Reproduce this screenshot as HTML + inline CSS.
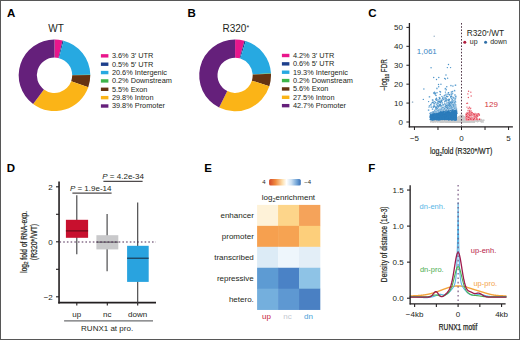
<!DOCTYPE html>
<html><head><meta charset="utf-8"><style>
html,body{margin:0;padding:0;background:#fff;width:520px;height:340px;overflow:hidden}
svg{display:block;font-family:"Liberation Sans", sans-serif}
</style></head><body>
<svg width="520" height="340" viewBox="0 0 520 340">
<rect width="520" height="340" fill="#fff"/>
<text x="6.9" y="16.8" font-size="11.5" font-weight="bold" fill="#000">A</text>
<text x="187.4" y="16.6" font-size="11.5" font-weight="bold" fill="#000">B</text>
<text x="368.3" y="17.1" font-size="11.5" font-weight="bold" fill="#000">C</text>
<text x="6.7" y="172" font-size="11.5" font-weight="bold" fill="#000">D</text>
<text x="204.2" y="171.7" font-size="11.5" font-weight="bold" fill="#000">E</text>
<text x="368.2" y="171.9" font-size="11.5" font-weight="bold" fill="#000">F</text>
<path d="M54.5,39.5A35.8,35.8 0 0 1 62.53,40.41L58.47,58.05A17.7,17.7 0 0 0 54.5,57.6Z" fill="#e9168c"/>
<path d="M62.53,40.41A35.8,35.8 0 0 1 63.62,40.68L59.01,58.18A17.7,17.7 0 0 0 58.47,58.05Z" fill="#1d3f8c"/>
<path d="M63.62,40.68A35.8,35.8 0 0 1 90.29,74.63L72.2,74.97A17.7,17.7 0 0 0 59.01,58.18Z" fill="#27a9e1"/>
<path d="M90.29,74.63A35.8,35.8 0 0 1 90.3,75.08L72.2,75.19A17.7,17.7 0 0 0 72.2,74.97Z" fill="#3db54a"/>
<path d="M90.3,75.08A35.8,35.8 0 0 1 88.26,87.21L71.19,81.19A17.7,17.7 0 0 0 72.2,75.19Z" fill="#653312"/>
<path d="M88.26,87.21A35.8,35.8 0 0 1 33.1,104L43.92,89.49A17.7,17.7 0 0 0 71.19,81.19Z" fill="#fbb417"/>
<path d="M33.1,104A35.8,35.8 0 0 1 54.5,39.5L54.5,57.6A17.7,17.7 0 0 0 43.92,89.49Z" fill="#65207b"/>
<text x="56.1" y="31.6" font-size="10" text-anchor="middle" fill="#231f20">WT</text>
<rect x="100.9" y="54.15" width="7.5" height="3.4" fill="#e9168c"/>
<text x="111.9" y="58.2" font-size="7.35" fill="#231f20">3.6% 3′ UTR</text>
<rect x="100.9" y="62.51" width="7.5" height="3.4" fill="#1d3f8c"/>
<text x="111.9" y="66.56" font-size="7.35" fill="#231f20">0.5% 5′ UTR</text>
<rect x="100.9" y="70.87" width="7.5" height="3.4" fill="#27a9e1"/>
<text x="111.9" y="74.92" font-size="7.35" fill="#231f20">20.6% Intergenic</text>
<rect x="100.9" y="79.23" width="7.5" height="3.4" fill="#3db54a"/>
<text x="111.9" y="83.28" font-size="7.35" fill="#231f20">0.2% Downstream</text>
<rect x="100.9" y="87.59" width="7.5" height="3.4" fill="#653312"/>
<text x="111.9" y="91.64" font-size="7.35" fill="#231f20">5.5% Exon</text>
<rect x="100.9" y="95.95" width="7.5" height="3.4" fill="#fbb417"/>
<text x="111.9" y="100" font-size="7.35" fill="#231f20">29.8% Intron</text>
<rect x="100.9" y="104.31" width="7.5" height="3.4" fill="#65207b"/>
<text x="111.9" y="108.36" font-size="7.35" fill="#231f20">39.8% Promoter</text>
<path d="M235.1,39.45A35.9,35.9 0 0 1 244.46,40.69L239.69,58.36A17.6,17.6 0 0 0 235.1,57.75Z" fill="#e9168c"/>
<path d="M244.46,40.69A35.9,35.9 0 0 1 245.75,41.07L240.32,58.54A17.6,17.6 0 0 0 239.69,58.36Z" fill="#1d3f8c"/>
<path d="M245.75,41.07A35.9,35.9 0 0 1 270.94,73.27L252.67,74.33A17.6,17.6 0 0 0 240.32,58.54Z" fill="#27a9e1"/>
<path d="M270.94,73.27A35.9,35.9 0 0 1 270.96,73.72L252.68,74.55A17.6,17.6 0 0 0 252.67,74.33Z" fill="#3db54a"/>
<path d="M270.96,73.72A35.9,35.9 0 0 1 269.33,86.16L251.88,80.65A17.6,17.6 0 0 0 252.68,74.55Z" fill="#653312"/>
<path d="M269.33,86.16A35.9,35.9 0 0 1 219.12,107.5L227.27,91.11A17.6,17.6 0 0 0 251.88,80.65Z" fill="#fbb417"/>
<path d="M219.12,107.5A35.9,35.9 0 0 1 235.1,39.45L235.1,57.75A17.6,17.6 0 0 0 227.27,91.11Z" fill="#65207b"/>
<text x="235.8" y="31.5" font-size="10" text-anchor="middle" fill="#231f20">R320<tspan font-size="7" dy="-1.2">*</tspan></text>
<rect x="281.9" y="53.8" width="7.5" height="3.4" fill="#e9168c"/>
<text x="292.9" y="57.85" font-size="7.35" fill="#231f20">4.2% 3′ UTR</text>
<rect x="281.9" y="62.16" width="7.5" height="3.4" fill="#1d3f8c"/>
<text x="292.9" y="66.21" font-size="7.35" fill="#231f20">0.6% 5′ UTR</text>
<rect x="281.9" y="70.52" width="7.5" height="3.4" fill="#27a9e1"/>
<text x="292.9" y="74.57" font-size="7.35" fill="#231f20">19.3% Intergenic</text>
<rect x="281.9" y="78.88" width="7.5" height="3.4" fill="#3db54a"/>
<text x="292.9" y="82.93" font-size="7.35" fill="#231f20">0.2% Downstream</text>
<rect x="281.9" y="87.24" width="7.5" height="3.4" fill="#653312"/>
<text x="292.9" y="91.29" font-size="7.35" fill="#231f20">5.6% Exon</text>
<rect x="281.9" y="95.6" width="7.5" height="3.4" fill="#fbb417"/>
<text x="292.9" y="99.65" font-size="7.35" fill="#231f20">27.5% Intron</text>
<rect x="281.9" y="103.96" width="7.5" height="3.4" fill="#65207b"/>
<text x="292.9" y="108.01" font-size="7.35" fill="#231f20">42.7% Promoter</text>
<g>
<circle cx="442.03" cy="119.73" r="0.9" fill="#cacaca"/>
<circle cx="460.12" cy="120.85" r="0.9" fill="#cacaca"/>
<circle cx="440.85" cy="121.55" r="0.9" fill="#cacaca"/>
<circle cx="455.11" cy="120.74" r="0.9" fill="#cacaca"/>
<circle cx="442.12" cy="121.77" r="0.9" fill="#cacaca"/>
<circle cx="441.25" cy="121.25" r="0.9" fill="#cacaca"/>
<circle cx="473.17" cy="120.29" r="0.9" fill="#cacaca"/>
<circle cx="466.95" cy="121.9" r="0.9" fill="#cacaca"/>
<circle cx="452.59" cy="120.39" r="0.9" fill="#cacaca"/>
<circle cx="450.91" cy="121.96" r="0.9" fill="#cacaca"/>
<circle cx="451.46" cy="120.7" r="0.9" fill="#cacaca"/>
<circle cx="462.68" cy="121.4" r="0.9" fill="#cacaca"/>
<circle cx="458.53" cy="121.93" r="0.9" fill="#cacaca"/>
<circle cx="444" cy="119.93" r="0.9" fill="#cacaca"/>
<circle cx="458.59" cy="120.72" r="0.9" fill="#cacaca"/>
<circle cx="447.4" cy="120.37" r="0.9" fill="#cacaca"/>
<circle cx="445.6" cy="120.88" r="0.9" fill="#cacaca"/>
<circle cx="448.94" cy="119.55" r="0.9" fill="#cacaca"/>
<circle cx="465.37" cy="121.22" r="0.9" fill="#cacaca"/>
<circle cx="440.91" cy="121.44" r="0.9" fill="#cacaca"/>
<circle cx="454.81" cy="120.12" r="0.9" fill="#cacaca"/>
<circle cx="460.03" cy="121.02" r="0.9" fill="#cacaca"/>
<circle cx="462.22" cy="119.64" r="0.9" fill="#cacaca"/>
<circle cx="446.68" cy="119.92" r="0.9" fill="#cacaca"/>
<circle cx="463.6" cy="119.76" r="0.9" fill="#cacaca"/>
<circle cx="455.88" cy="120.84" r="0.9" fill="#cacaca"/>
<circle cx="467.13" cy="121.82" r="0.9" fill="#cacaca"/>
<circle cx="454.45" cy="120.45" r="0.9" fill="#cacaca"/>
<circle cx="457.45" cy="121.79" r="0.9" fill="#cacaca"/>
<circle cx="447.04" cy="121.18" r="0.9" fill="#cacaca"/>
<circle cx="474.39" cy="121.71" r="0.9" fill="#cacaca"/>
<circle cx="451.6" cy="121.39" r="0.9" fill="#cacaca"/>
<circle cx="459.05" cy="120.04" r="0.9" fill="#cacaca"/>
<circle cx="458.21" cy="121.56" r="0.9" fill="#cacaca"/>
<circle cx="444.4" cy="121.53" r="0.9" fill="#cacaca"/>
<circle cx="451.38" cy="120.2" r="0.9" fill="#cacaca"/>
<circle cx="466.89" cy="121.71" r="0.9" fill="#cacaca"/>
<circle cx="467.75" cy="120.97" r="0.9" fill="#cacaca"/>
<circle cx="457.92" cy="119.61" r="0.9" fill="#cacaca"/>
<circle cx="464.57" cy="120.02" r="0.9" fill="#cacaca"/>
<circle cx="448.02" cy="121.48" r="0.9" fill="#cacaca"/>
<circle cx="477.99" cy="121.03" r="0.9" fill="#cacaca"/>
<circle cx="465.72" cy="121.75" r="0.9" fill="#cacaca"/>
<circle cx="443.03" cy="119.57" r="0.9" fill="#cacaca"/>
<circle cx="457.85" cy="120.1" r="0.9" fill="#cacaca"/>
<circle cx="464.35" cy="121.19" r="0.9" fill="#cacaca"/>
<circle cx="454.59" cy="121.78" r="0.9" fill="#cacaca"/>
<circle cx="460.08" cy="120.57" r="0.9" fill="#cacaca"/>
<circle cx="456.53" cy="121.09" r="0.9" fill="#cacaca"/>
<circle cx="471.15" cy="120.89" r="0.9" fill="#cacaca"/>
<circle cx="468.41" cy="120.59" r="0.9" fill="#cacaca"/>
<circle cx="452.56" cy="119.87" r="0.9" fill="#cacaca"/>
<circle cx="458.53" cy="119.77" r="0.9" fill="#cacaca"/>
<circle cx="461.81" cy="119.99" r="0.9" fill="#cacaca"/>
<circle cx="455.88" cy="120.18" r="0.9" fill="#cacaca"/>
<circle cx="463.18" cy="119.69" r="0.9" fill="#cacaca"/>
<circle cx="464.96" cy="119.83" r="0.9" fill="#cacaca"/>
<circle cx="481.96" cy="120.52" r="0.9" fill="#cacaca"/>
<circle cx="451.2" cy="121.9" r="0.9" fill="#cacaca"/>
<circle cx="458.36" cy="119.63" r="0.9" fill="#cacaca"/>
<circle cx="457.14" cy="121.37" r="0.9" fill="#cacaca"/>
<circle cx="473.44" cy="119.97" r="0.9" fill="#cacaca"/>
<circle cx="448.12" cy="121.57" r="0.9" fill="#cacaca"/>
<circle cx="450.49" cy="120.23" r="0.9" fill="#cacaca"/>
<circle cx="463.24" cy="120.62" r="0.9" fill="#cacaca"/>
<circle cx="459.26" cy="119.9" r="0.9" fill="#cacaca"/>
<circle cx="448.96" cy="119.74" r="0.9" fill="#cacaca"/>
<circle cx="449.83" cy="121.5" r="0.9" fill="#cacaca"/>
<circle cx="464.75" cy="120.9" r="0.9" fill="#cacaca"/>
<circle cx="456.78" cy="121.85" r="0.9" fill="#cacaca"/>
<circle cx="460.7" cy="120.59" r="0.9" fill="#cacaca"/>
<circle cx="465.54" cy="121.68" r="0.9" fill="#cacaca"/>
<circle cx="440.46" cy="119.59" r="0.9" fill="#cacaca"/>
<circle cx="473.96" cy="120.38" r="0.9" fill="#cacaca"/>
<circle cx="450.45" cy="121.65" r="0.9" fill="#cacaca"/>
<circle cx="441.9" cy="121.91" r="0.9" fill="#cacaca"/>
<circle cx="480.49" cy="120.28" r="0.9" fill="#cacaca"/>
<circle cx="458.64" cy="119.63" r="0.9" fill="#cacaca"/>
<circle cx="471.77" cy="120.81" r="0.9" fill="#cacaca"/>
<circle cx="457.99" cy="120.2" r="0.9" fill="#cacaca"/>
<circle cx="437.69" cy="121.81" r="0.9" fill="#cacaca"/>
<circle cx="438.17" cy="119.79" r="0.9" fill="#cacaca"/>
<circle cx="450.58" cy="120.19" r="0.9" fill="#cacaca"/>
<circle cx="450.1" cy="119.75" r="0.9" fill="#cacaca"/>
<circle cx="436.65" cy="121.13" r="0.9" fill="#cacaca"/>
<circle cx="446.23" cy="119.86" r="0.9" fill="#cacaca"/>
<circle cx="433.57" cy="120.97" r="0.9" fill="#cacaca"/>
<circle cx="461.53" cy="120.59" r="0.9" fill="#cacaca"/>
<circle cx="434.05" cy="120.46" r="0.9" fill="#cacaca"/>
<circle cx="444.82" cy="120.5" r="0.9" fill="#cacaca"/>
<circle cx="465.91" cy="121.8" r="0.9" fill="#cacaca"/>
<circle cx="432.97" cy="119.84" r="0.9" fill="#cacaca"/>
<circle cx="454.33" cy="120.19" r="0.9" fill="#cacaca"/>
<circle cx="444.76" cy="120.57" r="0.9" fill="#cacaca"/>
<circle cx="435.78" cy="121.79" r="0.9" fill="#cacaca"/>
<circle cx="463.72" cy="120.15" r="0.9" fill="#cacaca"/>
<circle cx="470.9" cy="120.82" r="0.9" fill="#cacaca"/>
<circle cx="458.7" cy="121.43" r="0.9" fill="#cacaca"/>
<circle cx="451.63" cy="120.49" r="0.9" fill="#cacaca"/>
<circle cx="443.3" cy="119.74" r="0.9" fill="#cacaca"/>
<circle cx="455.79" cy="121.26" r="0.9" fill="#cacaca"/>
<circle cx="457.56" cy="120.33" r="0.9" fill="#cacaca"/>
<circle cx="457.88" cy="119.77" r="0.9" fill="#cacaca"/>
<circle cx="462.44" cy="120.38" r="0.9" fill="#cacaca"/>
<circle cx="433.61" cy="121.2" r="0.9" fill="#cacaca"/>
<circle cx="464.35" cy="120.36" r="0.9" fill="#cacaca"/>
<circle cx="459.67" cy="120.02" r="0.9" fill="#cacaca"/>
<circle cx="467.22" cy="119.75" r="0.9" fill="#cacaca"/>
<circle cx="463.98" cy="120.57" r="0.9" fill="#cacaca"/>
<circle cx="448.25" cy="121.22" r="0.9" fill="#cacaca"/>
<circle cx="464.53" cy="119.94" r="0.9" fill="#cacaca"/>
<circle cx="465.84" cy="119.91" r="0.9" fill="#cacaca"/>
<circle cx="449.19" cy="121.32" r="0.9" fill="#cacaca"/>
<circle cx="461.87" cy="121.32" r="0.9" fill="#cacaca"/>
<circle cx="466.65" cy="121.47" r="0.9" fill="#cacaca"/>
<circle cx="442.28" cy="120.79" r="0.9" fill="#cacaca"/>
<circle cx="464" cy="121.22" r="0.9" fill="#cacaca"/>
<circle cx="472.86" cy="120.89" r="0.9" fill="#cacaca"/>
<circle cx="458.4" cy="119.85" r="0.9" fill="#cacaca"/>
<circle cx="457.15" cy="121.9" r="0.9" fill="#cacaca"/>
<circle cx="452.08" cy="121.24" r="0.9" fill="#cacaca"/>
<circle cx="441.66" cy="120.05" r="0.9" fill="#cacaca"/>
<circle cx="461.91" cy="120.88" r="0.9" fill="#cacaca"/>
<circle cx="456.59" cy="121.94" r="0.9" fill="#cacaca"/>
<circle cx="459.84" cy="121.65" r="0.9" fill="#cacaca"/>
<circle cx="448.56" cy="121.88" r="0.9" fill="#cacaca"/>
<circle cx="447.4" cy="120.45" r="0.9" fill="#cacaca"/>
<circle cx="446.94" cy="120.39" r="0.9" fill="#cacaca"/>
<circle cx="465.9" cy="120.32" r="0.9" fill="#cacaca"/>
<circle cx="459.87" cy="121.56" r="0.9" fill="#cacaca"/>
<circle cx="468.03" cy="121.97" r="0.9" fill="#cacaca"/>
<circle cx="438.25" cy="121.56" r="0.9" fill="#cacaca"/>
<circle cx="458.96" cy="121.33" r="0.9" fill="#cacaca"/>
<circle cx="445.97" cy="120.72" r="0.9" fill="#cacaca"/>
<circle cx="470.25" cy="120.49" r="0.9" fill="#cacaca"/>
<circle cx="456.29" cy="120.05" r="0.9" fill="#cacaca"/>
<circle cx="444.57" cy="119.77" r="0.9" fill="#cacaca"/>
<circle cx="478.24" cy="120.22" r="0.9" fill="#cacaca"/>
<circle cx="469.52" cy="121.68" r="0.9" fill="#cacaca"/>
<circle cx="440.7" cy="119.76" r="0.9" fill="#cacaca"/>
<circle cx="460.41" cy="121.07" r="0.9" fill="#cacaca"/>
<circle cx="434.77" cy="120.04" r="0.9" fill="#cacaca"/>
<circle cx="446.12" cy="119.68" r="0.9" fill="#cacaca"/>
<circle cx="439.89" cy="121.5" r="0.9" fill="#cacaca"/>
<circle cx="459.56" cy="120.22" r="0.9" fill="#cacaca"/>
<circle cx="462.59" cy="120.23" r="0.9" fill="#cacaca"/>
<circle cx="441.15" cy="121.48" r="0.9" fill="#cacaca"/>
<circle cx="481.49" cy="119.6" r="0.9" fill="#cacaca"/>
<circle cx="437.23" cy="120.68" r="0.9" fill="#cacaca"/>
<circle cx="458.37" cy="119.76" r="0.9" fill="#cacaca"/>
<circle cx="446.25" cy="119.9" r="0.9" fill="#cacaca"/>
<circle cx="453.13" cy="120.92" r="0.9" fill="#cacaca"/>
<circle cx="459.68" cy="120.65" r="0.9" fill="#cacaca"/>
<circle cx="457.35" cy="121.93" r="0.9" fill="#cacaca"/>
<circle cx="442.88" cy="120.01" r="0.9" fill="#cacaca"/>
<circle cx="474.49" cy="121.57" r="0.9" fill="#cacaca"/>
<circle cx="463.79" cy="121.18" r="0.9" fill="#cacaca"/>
<circle cx="457.32" cy="121.63" r="0.9" fill="#cacaca"/>
<circle cx="449.82" cy="120.73" r="0.9" fill="#cacaca"/>
<circle cx="452.28" cy="120.3" r="0.9" fill="#cacaca"/>
<circle cx="434.53" cy="119.67" r="0.9" fill="#cacaca"/>
<circle cx="457.14" cy="121.79" r="0.9" fill="#cacaca"/>
<circle cx="458.32" cy="121.29" r="0.9" fill="#cacaca"/>
<circle cx="469.44" cy="120.21" r="0.9" fill="#cacaca"/>
<circle cx="447.02" cy="119.93" r="0.9" fill="#cacaca"/>
<circle cx="445.33" cy="120.62" r="0.9" fill="#cacaca"/>
<circle cx="451.67" cy="119.92" r="0.9" fill="#cacaca"/>
<circle cx="466.1" cy="119.79" r="0.9" fill="#cacaca"/>
<circle cx="461.57" cy="119.62" r="0.9" fill="#cacaca"/>
<circle cx="477.13" cy="120.71" r="0.9" fill="#cacaca"/>
<circle cx="449.07" cy="120.68" r="0.9" fill="#cacaca"/>
<circle cx="452.51" cy="120.76" r="0.9" fill="#cacaca"/>
<circle cx="453.74" cy="119.62" r="0.9" fill="#cacaca"/>
<circle cx="454.21" cy="120.73" r="0.9" fill="#cacaca"/>
<circle cx="439.39" cy="120.62" r="0.9" fill="#cacaca"/>
<circle cx="467.72" cy="120.79" r="0.9" fill="#cacaca"/>
<circle cx="454.34" cy="120.67" r="0.9" fill="#cacaca"/>
<circle cx="451.97" cy="120.98" r="0.9" fill="#cacaca"/>
<circle cx="480.52" cy="121.34" r="0.9" fill="#cacaca"/>
<circle cx="449" cy="120.84" r="0.9" fill="#cacaca"/>
<circle cx="464.26" cy="119.99" r="0.9" fill="#cacaca"/>
<circle cx="464.47" cy="119.78" r="0.9" fill="#cacaca"/>
<circle cx="446.1" cy="121.53" r="0.9" fill="#cacaca"/>
<circle cx="457.3" cy="120.48" r="0.9" fill="#cacaca"/>
<circle cx="461.16" cy="120.08" r="0.9" fill="#cacaca"/>
<circle cx="453.16" cy="121.94" r="0.9" fill="#cacaca"/>
<circle cx="458.64" cy="120.31" r="0.9" fill="#cacaca"/>
<circle cx="463.47" cy="121.21" r="0.9" fill="#cacaca"/>
<circle cx="446.2" cy="121.74" r="0.9" fill="#cacaca"/>
<circle cx="468.24" cy="120.2" r="0.9" fill="#cacaca"/>
<circle cx="465.53" cy="121.38" r="0.9" fill="#cacaca"/>
<circle cx="465.26" cy="121.51" r="0.9" fill="#cacaca"/>
<circle cx="443.97" cy="121.08" r="0.9" fill="#cacaca"/>
<circle cx="453.56" cy="120.98" r="0.9" fill="#cacaca"/>
<circle cx="449.31" cy="121.5" r="0.9" fill="#cacaca"/>
<circle cx="454.63" cy="120.45" r="0.9" fill="#cacaca"/>
<circle cx="446.91" cy="119.91" r="0.9" fill="#cacaca"/>
<circle cx="445.25" cy="120.5" r="0.9" fill="#cacaca"/>
<circle cx="460.96" cy="120.18" r="0.9" fill="#cacaca"/>
<circle cx="449.42" cy="120.01" r="0.9" fill="#cacaca"/>
<circle cx="463.91" cy="121.23" r="0.9" fill="#cacaca"/>
<circle cx="450.21" cy="119.73" r="0.9" fill="#cacaca"/>
<circle cx="463.89" cy="119.82" r="0.9" fill="#cacaca"/>
<circle cx="461.42" cy="120.21" r="0.9" fill="#cacaca"/>
<circle cx="462.08" cy="121.36" r="0.9" fill="#cacaca"/>
<circle cx="473.35" cy="120.96" r="0.9" fill="#cacaca"/>
<circle cx="468.07" cy="120.06" r="0.9" fill="#cacaca"/>
<circle cx="463.91" cy="120.31" r="0.9" fill="#cacaca"/>
<circle cx="464.01" cy="121.96" r="0.9" fill="#cacaca"/>
<circle cx="461.04" cy="119.76" r="0.9" fill="#cacaca"/>
<circle cx="472.15" cy="119.62" r="0.9" fill="#cacaca"/>
<circle cx="465.89" cy="120.14" r="0.9" fill="#cacaca"/>
<circle cx="464.74" cy="120.76" r="0.9" fill="#cacaca"/>
<circle cx="452.98" cy="121.83" r="0.9" fill="#cacaca"/>
<circle cx="449.13" cy="121.74" r="0.9" fill="#cacaca"/>
<circle cx="469.76" cy="120.73" r="0.9" fill="#cacaca"/>
<circle cx="459.19" cy="120.6" r="0.9" fill="#cacaca"/>
<circle cx="460.22" cy="121.5" r="0.9" fill="#cacaca"/>
<circle cx="461.6" cy="119.93" r="0.9" fill="#cacaca"/>
<circle cx="481.63" cy="121.77" r="0.9" fill="#cacaca"/>
<circle cx="454.28" cy="121.85" r="0.9" fill="#cacaca"/>
<circle cx="467.85" cy="120.12" r="0.9" fill="#cacaca"/>
<circle cx="452.08" cy="121.2" r="0.9" fill="#cacaca"/>
<circle cx="442.56" cy="120.94" r="0.9" fill="#cacaca"/>
<circle cx="458.65" cy="120.52" r="0.9" fill="#cacaca"/>
<circle cx="473.34" cy="119.92" r="0.9" fill="#cacaca"/>
<circle cx="457.31" cy="121.55" r="0.9" fill="#cacaca"/>
<circle cx="438.11" cy="121" r="0.9" fill="#cacaca"/>
<circle cx="461.14" cy="121.52" r="0.9" fill="#cacaca"/>
<circle cx="462.74" cy="121.96" r="0.9" fill="#cacaca"/>
<circle cx="467.51" cy="119.8" r="0.9" fill="#cacaca"/>
<circle cx="461.48" cy="119.88" r="0.9" fill="#cacaca"/>
<circle cx="439.14" cy="120.45" r="0.9" fill="#cacaca"/>
<circle cx="443.24" cy="120.76" r="0.9" fill="#cacaca"/>
<circle cx="464.48" cy="119.58" r="0.9" fill="#cacaca"/>
<circle cx="458.8" cy="119.76" r="0.9" fill="#cacaca"/>
<circle cx="447.64" cy="120.17" r="0.9" fill="#cacaca"/>
<circle cx="459.48" cy="121" r="0.9" fill="#cacaca"/>
<circle cx="435.44" cy="119.79" r="0.9" fill="#cacaca"/>
<circle cx="468.52" cy="120.11" r="0.9" fill="#cacaca"/>
<circle cx="443.93" cy="120.12" r="0.9" fill="#cacaca"/>
<circle cx="440.85" cy="121.83" r="0.9" fill="#cacaca"/>
<circle cx="465.95" cy="121.16" r="0.9" fill="#cacaca"/>
<circle cx="454.24" cy="121.13" r="0.9" fill="#cacaca"/>
<circle cx="456.17" cy="120.43" r="0.9" fill="#cacaca"/>
<circle cx="450.02" cy="119.68" r="0.9" fill="#cacaca"/>
<circle cx="450.09" cy="120.36" r="0.9" fill="#cacaca"/>
<circle cx="447.16" cy="120.6" r="0.9" fill="#cacaca"/>
<circle cx="469.97" cy="120.69" r="0.9" fill="#cacaca"/>
<circle cx="444.86" cy="120.13" r="0.9" fill="#cacaca"/>
<circle cx="442.17" cy="119.59" r="0.9" fill="#cacaca"/>
<circle cx="471.3" cy="120.18" r="0.9" fill="#cacaca"/>
<circle cx="458.08" cy="121.37" r="0.9" fill="#cacaca"/>
<circle cx="452.89" cy="121.52" r="0.9" fill="#cacaca"/>
<circle cx="457.96" cy="121.08" r="0.9" fill="#cacaca"/>
<circle cx="462.85" cy="119.77" r="0.9" fill="#cacaca"/>
<circle cx="460.83" cy="120.65" r="0.9" fill="#cacaca"/>
<circle cx="454.4" cy="120.6" r="0.9" fill="#cacaca"/>
<circle cx="471.94" cy="120.01" r="0.9" fill="#cacaca"/>
<circle cx="455.36" cy="121.81" r="0.9" fill="#cacaca"/>
<circle cx="440.27" cy="121.89" r="0.9" fill="#cacaca"/>
<circle cx="444.89" cy="119.71" r="0.9" fill="#cacaca"/>
<circle cx="462.69" cy="121.58" r="0.9" fill="#cacaca"/>
<circle cx="466.62" cy="120.78" r="0.9" fill="#cacaca"/>
<circle cx="452.85" cy="119.68" r="0.9" fill="#cacaca"/>
<circle cx="453.33" cy="120.97" r="0.9" fill="#cacaca"/>
<circle cx="440.83" cy="121.1" r="0.9" fill="#cacaca"/>
<circle cx="453.3" cy="121.3" r="0.9" fill="#cacaca"/>
<circle cx="447.72" cy="121.3" r="0.9" fill="#cacaca"/>
<circle cx="443.87" cy="120.24" r="0.9" fill="#cacaca"/>
<circle cx="455.31" cy="121.4" r="0.9" fill="#cacaca"/>
<circle cx="457.67" cy="121.89" r="0.9" fill="#cacaca"/>
<circle cx="466.34" cy="121.04" r="0.9" fill="#cacaca"/>
<circle cx="471.62" cy="119.79" r="0.9" fill="#cacaca"/>
<circle cx="455.82" cy="119.57" r="0.9" fill="#cacaca"/>
<circle cx="452.23" cy="119.68" r="0.9" fill="#cacaca"/>
<circle cx="477.81" cy="120.94" r="0.9" fill="#cacaca"/>
<circle cx="466.78" cy="120.83" r="0.9" fill="#cacaca"/>
<circle cx="464.17" cy="120.71" r="0.9" fill="#cacaca"/>
<circle cx="454.44" cy="119.69" r="0.9" fill="#cacaca"/>
<circle cx="453.69" cy="119.59" r="0.9" fill="#cacaca"/>
<circle cx="443.35" cy="119.99" r="0.9" fill="#cacaca"/>
<circle cx="451.41" cy="120.46" r="0.9" fill="#cacaca"/>
<circle cx="452.47" cy="120.88" r="0.9" fill="#cacaca"/>
<circle cx="456.91" cy="120.7" r="0.9" fill="#cacaca"/>
<circle cx="459.39" cy="121.69" r="0.9" fill="#cacaca"/>
<circle cx="440.16" cy="120.88" r="0.9" fill="#cacaca"/>
<circle cx="461.74" cy="121.36" r="0.9" fill="#cacaca"/>
<circle cx="445.61" cy="120.09" r="0.9" fill="#cacaca"/>
<circle cx="450.04" cy="120.69" r="0.9" fill="#cacaca"/>
<circle cx="483.74" cy="120.19" r="0.9" fill="#cacaca"/>
<circle cx="455.44" cy="121.41" r="0.9" fill="#cacaca"/>
<circle cx="473.86" cy="120.07" r="0.9" fill="#cacaca"/>
<circle cx="471.5" cy="120.46" r="0.9" fill="#cacaca"/>
<circle cx="450.16" cy="120.32" r="0.9" fill="#cacaca"/>
<circle cx="462.81" cy="120.61" r="0.9" fill="#cacaca"/>
<circle cx="442.44" cy="120.15" r="0.9" fill="#cacaca"/>
<circle cx="447.14" cy="121.53" r="0.9" fill="#cacaca"/>
<circle cx="456.06" cy="119.75" r="0.9" fill="#cacaca"/>
<circle cx="458.17" cy="121.85" r="0.9" fill="#cacaca"/>
<circle cx="453.64" cy="121.33" r="0.9" fill="#cacaca"/>
<circle cx="441.79" cy="121.75" r="0.9" fill="#cacaca"/>
<circle cx="463" cy="120.67" r="0.9" fill="#cacaca"/>
<circle cx="460.17" cy="120.34" r="0.9" fill="#cacaca"/>
<circle cx="457.97" cy="120.65" r="0.9" fill="#cacaca"/>
<circle cx="448.44" cy="120.82" r="0.9" fill="#cacaca"/>
<circle cx="447.85" cy="121.48" r="0.9" fill="#cacaca"/>
<circle cx="445.49" cy="119.94" r="0.9" fill="#cacaca"/>
<circle cx="471.37" cy="121.82" r="0.9" fill="#cacaca"/>
<circle cx="470.86" cy="120.47" r="0.9" fill="#cacaca"/>
<circle cx="469.9" cy="120.11" r="0.9" fill="#cacaca"/>
<circle cx="458.58" cy="121.37" r="0.9" fill="#cacaca"/>
<circle cx="467.41" cy="120.01" r="0.9" fill="#cacaca"/>
<circle cx="444.68" cy="119.57" r="0.9" fill="#cacaca"/>
<circle cx="467.92" cy="121.2" r="0.9" fill="#cacaca"/>
<circle cx="438.02" cy="119.74" r="0.9" fill="#cacaca"/>
<circle cx="450.23" cy="120.95" r="0.9" fill="#cacaca"/>
<circle cx="452.38" cy="119.85" r="0.9" fill="#cacaca"/>
<circle cx="459.59" cy="121.81" r="0.9" fill="#cacaca"/>
<circle cx="468.47" cy="120.81" r="0.9" fill="#cacaca"/>
<circle cx="463.11" cy="120.31" r="0.9" fill="#cacaca"/>
<circle cx="449.95" cy="121.81" r="0.9" fill="#cacaca"/>
<circle cx="474.46" cy="121.48" r="0.9" fill="#cacaca"/>
<circle cx="453.41" cy="121.25" r="0.9" fill="#cacaca"/>
<circle cx="451.88" cy="120.22" r="0.9" fill="#cacaca"/>
<circle cx="452.68" cy="121.65" r="0.9" fill="#cacaca"/>
<circle cx="447.21" cy="121.12" r="0.9" fill="#cacaca"/>
<circle cx="454.23" cy="121.71" r="0.9" fill="#cacaca"/>
<circle cx="445.19" cy="120.26" r="0.9" fill="#cacaca"/>
<circle cx="432.92" cy="119.69" r="0.9" fill="#cacaca"/>
<circle cx="445.19" cy="119.75" r="0.9" fill="#cacaca"/>
<circle cx="437.02" cy="121.25" r="0.9" fill="#cacaca"/>
<circle cx="463.59" cy="121.22" r="0.9" fill="#cacaca"/>
<circle cx="434.55" cy="119.8" r="0.9" fill="#cacaca"/>
<circle cx="471.41" cy="121.39" r="0.9" fill="#cacaca"/>
<circle cx="448.9" cy="121.11" r="0.9" fill="#cacaca"/>
<circle cx="464.08" cy="121.03" r="0.9" fill="#cacaca"/>
<circle cx="450.2" cy="120.61" r="0.9" fill="#cacaca"/>
<circle cx="460.68" cy="120.04" r="0.9" fill="#cacaca"/>
<circle cx="435.06" cy="120.62" r="0.9" fill="#cacaca"/>
<circle cx="450.44" cy="121.57" r="0.9" fill="#cacaca"/>
<circle cx="457.16" cy="121.31" r="0.9" fill="#cacaca"/>
<circle cx="432.6" cy="121.95" r="0.9" fill="#cacaca"/>
<circle cx="441.77" cy="120.6" r="0.9" fill="#cacaca"/>
<circle cx="454.47" cy="119.62" r="0.9" fill="#cacaca"/>
<circle cx="443.99" cy="121.84" r="0.9" fill="#cacaca"/>
<circle cx="439.26" cy="120.66" r="0.9" fill="#cacaca"/>
<circle cx="456.97" cy="121.8" r="0.9" fill="#cacaca"/>
<circle cx="451.26" cy="120.19" r="0.9" fill="#cacaca"/>
<circle cx="459.68" cy="120.44" r="0.9" fill="#cacaca"/>
<circle cx="453.04" cy="121.65" r="0.9" fill="#cacaca"/>
<circle cx="455.42" cy="121.4" r="0.9" fill="#cacaca"/>
<circle cx="439.52" cy="121.46" r="0.9" fill="#cacaca"/>
<circle cx="457.17" cy="120.12" r="0.9" fill="#cacaca"/>
<circle cx="442.21" cy="121.03" r="0.9" fill="#cacaca"/>
<circle cx="440.3" cy="120.35" r="0.9" fill="#cacaca"/>
<circle cx="481.12" cy="120.79" r="0.9" fill="#cacaca"/>
<circle cx="438.31" cy="120.26" r="0.9" fill="#cacaca"/>
<circle cx="451.66" cy="119.75" r="0.9" fill="#cacaca"/>
<circle cx="437.97" cy="120.36" r="0.9" fill="#cacaca"/>
<circle cx="467.11" cy="119.9" r="0.9" fill="#cacaca"/>
<circle cx="463.22" cy="119.81" r="0.9" fill="#cacaca"/>
<circle cx="435.77" cy="119.64" r="0.9" fill="#cacaca"/>
<circle cx="447.1" cy="120.25" r="0.9" fill="#cacaca"/>
<circle cx="445.24" cy="120.03" r="0.9" fill="#cacaca"/>
<circle cx="445.46" cy="121.64" r="0.9" fill="#cacaca"/>
<circle cx="461.43" cy="120.18" r="0.9" fill="#cacaca"/>
<circle cx="466.79" cy="121.59" r="0.9" fill="#cacaca"/>
<circle cx="455.24" cy="121.5" r="0.9" fill="#cacaca"/>
<circle cx="447.49" cy="119.61" r="0.9" fill="#cacaca"/>
<circle cx="460.12" cy="121.85" r="0.9" fill="#cacaca"/>
<circle cx="453.85" cy="120.41" r="0.9" fill="#cacaca"/>
<circle cx="461.06" cy="120.09" r="0.9" fill="#cacaca"/>
<circle cx="457.59" cy="120.87" r="0.9" fill="#cacaca"/>
<circle cx="459.51" cy="120.56" r="0.9" fill="#cacaca"/>
<circle cx="458.44" cy="121.73" r="0.9" fill="#cacaca"/>
<circle cx="454.2" cy="121.55" r="0.9" fill="#cacaca"/>
<circle cx="457.54" cy="120.24" r="0.9" fill="#cacaca"/>
<circle cx="463.95" cy="120.54" r="0.9" fill="#cacaca"/>
<circle cx="457.03" cy="121.31" r="0.9" fill="#cacaca"/>
<circle cx="462.98" cy="121.58" r="0.9" fill="#cacaca"/>
<circle cx="456.31" cy="120.65" r="0.9" fill="#cacaca"/>
<circle cx="446.1" cy="119.99" r="0.9" fill="#cacaca"/>
<circle cx="447.15" cy="119.82" r="0.9" fill="#cacaca"/>
<circle cx="456.98" cy="119.75" r="0.9" fill="#cacaca"/>
<circle cx="448.08" cy="119.65" r="0.9" fill="#cacaca"/>
<circle cx="467.76" cy="120.81" r="0.9" fill="#cacaca"/>
<circle cx="456.51" cy="119.67" r="0.9" fill="#cacaca"/>
<circle cx="459.4" cy="120.03" r="0.9" fill="#cacaca"/>
<circle cx="445.48" cy="120.73" r="0.9" fill="#cacaca"/>
<circle cx="465" cy="121.32" r="0.9" fill="#cacaca"/>
<circle cx="472.35" cy="121.42" r="0.9" fill="#cacaca"/>
<circle cx="454.84" cy="121.97" r="0.9" fill="#cacaca"/>
<circle cx="445.13" cy="120.04" r="0.9" fill="#cacaca"/>
<circle cx="457.72" cy="120.25" r="0.9" fill="#cacaca"/>
<circle cx="450.66" cy="121.61" r="0.9" fill="#cacaca"/>
<circle cx="451.77" cy="121.21" r="0.9" fill="#cacaca"/>
<circle cx="454.51" cy="120.73" r="0.9" fill="#cacaca"/>
<circle cx="478.59" cy="120.43" r="0.9" fill="#cacaca"/>
<circle cx="464.74" cy="120.69" r="0.9" fill="#cacaca"/>
<circle cx="455.47" cy="121.63" r="0.9" fill="#cacaca"/>
<circle cx="455.93" cy="119.98" r="0.9" fill="#cacaca"/>
<circle cx="455.27" cy="119.92" r="0.9" fill="#cacaca"/>
<circle cx="457.9" cy="121.34" r="0.9" fill="#cacaca"/>
<circle cx="451.64" cy="120.24" r="0.9" fill="#cacaca"/>
<circle cx="466.44" cy="120.85" r="0.9" fill="#cacaca"/>
<circle cx="463.26" cy="119.65" r="0.9" fill="#cacaca"/>
<circle cx="436.79" cy="121.25" r="0.9" fill="#cacaca"/>
<circle cx="444.31" cy="120.06" r="0.9" fill="#cacaca"/>
<circle cx="434.02" cy="121.78" r="0.9" fill="#cacaca"/>
<circle cx="468.4" cy="119.97" r="0.9" fill="#cacaca"/>
<circle cx="459.51" cy="120.71" r="0.9" fill="#cacaca"/>
<circle cx="469.51" cy="121.61" r="0.9" fill="#cacaca"/>
<circle cx="460.66" cy="121.24" r="0.9" fill="#cacaca"/>
<circle cx="447.37" cy="121.81" r="0.9" fill="#cacaca"/>
<circle cx="451.51" cy="120.24" r="0.9" fill="#cacaca"/>
<circle cx="467.76" cy="121.12" r="0.9" fill="#cacaca"/>
<circle cx="453.8" cy="121.03" r="0.9" fill="#cacaca"/>
<circle cx="450.93" cy="120.86" r="0.9" fill="#cacaca"/>
<circle cx="476.64" cy="120.39" r="0.9" fill="#cacaca"/>
<circle cx="451.47" cy="121.97" r="0.9" fill="#cacaca"/>
<circle cx="443.12" cy="121.42" r="0.9" fill="#cacaca"/>
<circle cx="468.25" cy="120.61" r="0.9" fill="#cacaca"/>
<circle cx="454.27" cy="119.56" r="0.9" fill="#cacaca"/>
<circle cx="456.28" cy="120.03" r="0.9" fill="#cacaca"/>
<circle cx="460.05" cy="121.29" r="0.9" fill="#cacaca"/>
<circle cx="470.9" cy="121.08" r="0.9" fill="#cacaca"/>
<circle cx="446.65" cy="121.17" r="0.9" fill="#cacaca"/>
<circle cx="453.5" cy="121.04" r="0.9" fill="#cacaca"/>
<circle cx="451.51" cy="121.51" r="0.9" fill="#cacaca"/>
<circle cx="448.33" cy="120.2" r="0.9" fill="#cacaca"/>
<circle cx="442.84" cy="120.62" r="0.9" fill="#cacaca"/>
<circle cx="479.74" cy="120.22" r="0.9" fill="#cacaca"/>
<circle cx="445.47" cy="121.77" r="0.9" fill="#cacaca"/>
<circle cx="474.28" cy="121.65" r="0.9" fill="#cacaca"/>
<circle cx="469.94" cy="120.26" r="0.9" fill="#cacaca"/>
<circle cx="465.35" cy="121.56" r="0.9" fill="#cacaca"/>
<circle cx="438.28" cy="120.54" r="0.9" fill="#cacaca"/>
<circle cx="468.24" cy="121.78" r="0.9" fill="#cacaca"/>
<circle cx="456.82" cy="121.69" r="0.9" fill="#cacaca"/>
<circle cx="462.38" cy="121" r="0.9" fill="#cacaca"/>
<circle cx="478.67" cy="120.95" r="0.9" fill="#cacaca"/>
<circle cx="467.06" cy="120.74" r="0.9" fill="#cacaca"/>
<circle cx="444.26" cy="119.98" r="0.9" fill="#cacaca"/>
<circle cx="440.46" cy="121.05" r="0.9" fill="#cacaca"/>
<circle cx="450.16" cy="121.96" r="0.9" fill="#cacaca"/>
<circle cx="466" cy="121.01" r="0.9" fill="#cacaca"/>
<circle cx="445.94" cy="120.06" r="0.9" fill="#cacaca"/>
<circle cx="447.59" cy="121.95" r="0.9" fill="#cacaca"/>
<circle cx="442.78" cy="121.19" r="0.9" fill="#cacaca"/>
<circle cx="446.88" cy="121.74" r="0.9" fill="#cacaca"/>
<circle cx="469.56" cy="121.07" r="0.9" fill="#cacaca"/>
<circle cx="435.98" cy="119.97" r="0.9" fill="#cacaca"/>
<circle cx="454.68" cy="120.5" r="0.9" fill="#cacaca"/>
<circle cx="466.34" cy="119.78" r="0.9" fill="#cacaca"/>
<circle cx="472.01" cy="120.65" r="0.9" fill="#cacaca"/>
<circle cx="447.86" cy="121.65" r="0.9" fill="#cacaca"/>
<circle cx="466.49" cy="120.25" r="0.9" fill="#cacaca"/>
<circle cx="469.41" cy="120.24" r="0.9" fill="#cacaca"/>
<circle cx="454.73" cy="119.94" r="0.9" fill="#cacaca"/>
<circle cx="464.71" cy="120.46" r="0.9" fill="#cacaca"/>
<circle cx="481.56" cy="121.51" r="0.9" fill="#cacaca"/>
<circle cx="463.18" cy="120.58" r="0.9" fill="#cacaca"/>
<circle cx="460.08" cy="120.29" r="0.9" fill="#cacaca"/>
<circle cx="443.46" cy="121.11" r="0.9" fill="#cacaca"/>
<circle cx="478.68" cy="120.86" r="0.9" fill="#cacaca"/>
<circle cx="477.51" cy="121.67" r="0.9" fill="#cacaca"/>
<circle cx="477.25" cy="119.78" r="0.9" fill="#cacaca"/>
<circle cx="441.91" cy="120.62" r="0.9" fill="#cacaca"/>
<circle cx="451.95" cy="121.35" r="0.9" fill="#cacaca"/>
<circle cx="436.9" cy="119.99" r="0.9" fill="#cacaca"/>
<circle cx="451.21" cy="119.97" r="0.9" fill="#cacaca"/>
<circle cx="452.41" cy="121.29" r="0.9" fill="#cacaca"/>
<circle cx="462.54" cy="120.59" r="0.9" fill="#cacaca"/>
<circle cx="450.8" cy="119.96" r="0.9" fill="#cacaca"/>
<circle cx="461.46" cy="121.81" r="0.9" fill="#cacaca"/>
<circle cx="468.93" cy="121.92" r="0.9" fill="#cacaca"/>
<circle cx="470.01" cy="119.69" r="0.9" fill="#cacaca"/>
<circle cx="450.58" cy="120.35" r="0.9" fill="#cacaca"/>
<circle cx="447.73" cy="120.19" r="0.9" fill="#cacaca"/>
<circle cx="444.73" cy="120.02" r="0.9" fill="#cacaca"/>
<circle cx="466.09" cy="121.96" r="0.9" fill="#cacaca"/>
<circle cx="459.81" cy="121.65" r="0.9" fill="#cacaca"/>
<circle cx="467.91" cy="121.05" r="0.9" fill="#cacaca"/>
<circle cx="449.53" cy="120.72" r="0.9" fill="#cacaca"/>
<circle cx="452.9" cy="121.35" r="0.9" fill="#cacaca"/>
<circle cx="446.62" cy="120.42" r="0.9" fill="#cacaca"/>
<circle cx="451.65" cy="121.91" r="0.9" fill="#cacaca"/>
<circle cx="452.85" cy="119.64" r="0.9" fill="#cacaca"/>
<circle cx="450.3" cy="120.52" r="0.9" fill="#cacaca"/>
<circle cx="444.43" cy="120.47" r="0.9" fill="#cacaca"/>
<circle cx="458.04" cy="120.3" r="0.9" fill="#cacaca"/>
<circle cx="456.81" cy="120.81" r="0.9" fill="#cacaca"/>
<circle cx="437.03" cy="119.55" r="0.9" fill="#cacaca"/>
<circle cx="467.54" cy="120.99" r="0.9" fill="#cacaca"/>
<circle cx="436.99" cy="120.93" r="0.9" fill="#cacaca"/>
<circle cx="433.42" cy="120.71" r="0.9" fill="#cacaca"/>
<circle cx="445.98" cy="120.71" r="0.9" fill="#cacaca"/>
<circle cx="433.58" cy="121.21" r="0.9" fill="#cacaca"/>
<circle cx="465.96" cy="121.87" r="0.9" fill="#cacaca"/>
<circle cx="452.15" cy="120.2" r="0.9" fill="#cacaca"/>
<circle cx="431.9" cy="120.53" r="0.9" fill="#cacaca"/>
<circle cx="455.97" cy="120.54" r="0.9" fill="#cacaca"/>
<circle cx="446.23" cy="121.83" r="0.9" fill="#cacaca"/>
<circle cx="464.57" cy="120.76" r="0.9" fill="#cacaca"/>
<circle cx="464.51" cy="121.02" r="0.9" fill="#cacaca"/>
<circle cx="472.33" cy="120.71" r="0.9" fill="#cacaca"/>
<circle cx="461.43" cy="121.41" r="0.9" fill="#cacaca"/>
<circle cx="451.93" cy="121.42" r="0.9" fill="#cacaca"/>
<circle cx="466.48" cy="121.83" r="0.9" fill="#cacaca"/>
<circle cx="480.83" cy="120.36" r="0.9" fill="#cacaca"/>
<circle cx="440.29" cy="119.87" r="0.9" fill="#cacaca"/>
<circle cx="437.87" cy="121.45" r="0.9" fill="#cacaca"/>
<circle cx="465.54" cy="120.16" r="0.9" fill="#cacaca"/>
<circle cx="433.56" cy="121.76" r="0.9" fill="#cacaca"/>
<circle cx="445.9" cy="120.05" r="0.9" fill="#cacaca"/>
<circle cx="465.85" cy="119.66" r="0.9" fill="#cacaca"/>
<circle cx="465.7" cy="122" r="0.9" fill="#cacaca"/>
<circle cx="456.22" cy="121.2" r="0.9" fill="#cacaca"/>
<circle cx="465.37" cy="121.85" r="0.9" fill="#cacaca"/>
<circle cx="472.27" cy="121.02" r="0.9" fill="#cacaca"/>
<circle cx="443.14" cy="121.12" r="0.9" fill="#cacaca"/>
<circle cx="452.88" cy="121.92" r="0.9" fill="#cacaca"/>
<circle cx="454.08" cy="119.79" r="0.9" fill="#cacaca"/>
<circle cx="451.14" cy="119.7" r="0.9" fill="#cacaca"/>
<circle cx="468.25" cy="119.6" r="0.9" fill="#cacaca"/>
<circle cx="448.29" cy="121.27" r="0.9" fill="#cacaca"/>
<circle cx="457.17" cy="119.73" r="0.9" fill="#cacaca"/>
<circle cx="461.79" cy="119.94" r="0.9" fill="#cacaca"/>
<circle cx="451.36" cy="121.13" r="0.9" fill="#cacaca"/>
<circle cx="449.02" cy="119.84" r="0.9" fill="#cacaca"/>
<circle cx="457.05" cy="119.55" r="0.9" fill="#cacaca"/>
<circle cx="460.6" cy="121.53" r="0.9" fill="#cacaca"/>
<circle cx="471.11" cy="119.84" r="0.9" fill="#cacaca"/>
<circle cx="460.94" cy="120.21" r="0.9" fill="#cacaca"/>
<circle cx="457.51" cy="121.23" r="0.9" fill="#cacaca"/>
<circle cx="474.32" cy="120.25" r="0.9" fill="#cacaca"/>
<circle cx="442.49" cy="121.67" r="0.9" fill="#cacaca"/>
<circle cx="446.99" cy="120.91" r="0.9" fill="#cacaca"/>
<circle cx="430.76" cy="121.81" r="0.9" fill="#cacaca"/>
<circle cx="457.47" cy="120.25" r="0.9" fill="#cacaca"/>
<circle cx="465.39" cy="121.52" r="0.9" fill="#cacaca"/>
<circle cx="459.33" cy="120.37" r="0.9" fill="#cacaca"/>
<circle cx="463.36" cy="120.06" r="0.9" fill="#cacaca"/>
<circle cx="444.28" cy="119.82" r="0.9" fill="#cacaca"/>
<circle cx="467.8" cy="120.55" r="0.9" fill="#cacaca"/>
<circle cx="457.11" cy="119.72" r="0.9" fill="#cacaca"/>
<circle cx="465.33" cy="120.36" r="0.9" fill="#cacaca"/>
<circle cx="453.15" cy="121.78" r="0.9" fill="#cacaca"/>
<circle cx="471.76" cy="119.58" r="0.9" fill="#cacaca"/>
<circle cx="442.97" cy="120.69" r="0.9" fill="#cacaca"/>
<circle cx="460.92" cy="121.89" r="0.9" fill="#cacaca"/>
<circle cx="448.37" cy="121.38" r="0.9" fill="#cacaca"/>
<circle cx="450.44" cy="120.02" r="0.9" fill="#cacaca"/>
<circle cx="463.75" cy="120.14" r="0.9" fill="#cacaca"/>
<circle cx="460.67" cy="121.4" r="0.9" fill="#cacaca"/>
<circle cx="453.27" cy="121.54" r="0.9" fill="#cacaca"/>
<circle cx="469.85" cy="119.79" r="0.9" fill="#cacaca"/>
<circle cx="458.8" cy="120.86" r="0.9" fill="#cacaca"/>
<circle cx="455.63" cy="120.15" r="0.9" fill="#cacaca"/>
<circle cx="436.39" cy="120.77" r="0.9" fill="#cacaca"/>
<circle cx="473.08" cy="121.56" r="0.9" fill="#cacaca"/>
<circle cx="440.6" cy="121.12" r="0.9" fill="#cacaca"/>
<circle cx="450.25" cy="120.38" r="0.9" fill="#cacaca"/>
<circle cx="458.66" cy="120.76" r="0.9" fill="#cacaca"/>
<circle cx="442.53" cy="119.92" r="0.9" fill="#cacaca"/>
<circle cx="450.36" cy="119.66" r="0.9" fill="#cacaca"/>
<circle cx="443.31" cy="121.57" r="0.9" fill="#cacaca"/>
<circle cx="457.11" cy="120.5" r="0.9" fill="#cacaca"/>
<circle cx="449.19" cy="121.42" r="0.9" fill="#cacaca"/>
<circle cx="437.75" cy="120.07" r="0.9" fill="#cacaca"/>
<circle cx="462.96" cy="120.05" r="0.9" fill="#cacaca"/>
<circle cx="457.01" cy="121.46" r="0.9" fill="#cacaca"/>
<circle cx="468.89" cy="120.57" r="0.9" fill="#cacaca"/>
<circle cx="452.83" cy="120.53" r="0.9" fill="#cacaca"/>
<circle cx="455.87" cy="120.24" r="0.9" fill="#cacaca"/>
<circle cx="435.27" cy="121.56" r="0.9" fill="#cacaca"/>
<circle cx="445.75" cy="121.63" r="0.9" fill="#cacaca"/>
<circle cx="468.99" cy="120.93" r="0.9" fill="#cacaca"/>
<circle cx="457.33" cy="120.91" r="0.9" fill="#cacaca"/>
<circle cx="454.21" cy="121.82" r="0.9" fill="#cacaca"/>
<circle cx="476" cy="119.77" r="0.9" fill="#cacaca"/>
<circle cx="443.02" cy="120.05" r="0.9" fill="#cacaca"/>
<circle cx="449.92" cy="121.41" r="0.9" fill="#cacaca"/>
<circle cx="461.77" cy="121.9" r="0.9" fill="#cacaca"/>
<circle cx="463.6" cy="121.23" r="0.9" fill="#cacaca"/>
<circle cx="445.87" cy="121.35" r="0.9" fill="#cacaca"/>
<circle cx="446.34" cy="120.55" r="0.9" fill="#cacaca"/>
<circle cx="473.63" cy="121.58" r="0.9" fill="#cacaca"/>
<circle cx="466.9" cy="121.37" r="0.9" fill="#cacaca"/>
<circle cx="465.14" cy="119.96" r="0.9" fill="#cacaca"/>
<circle cx="470.45" cy="120.07" r="0.9" fill="#cacaca"/>
<circle cx="466.62" cy="121.1" r="0.9" fill="#cacaca"/>
<circle cx="460.21" cy="121.47" r="0.9" fill="#cacaca"/>
<circle cx="459.11" cy="120.8" r="0.9" fill="#cacaca"/>
<circle cx="455.24" cy="120.13" r="0.9" fill="#cacaca"/>
<circle cx="462.14" cy="120.88" r="0.9" fill="#cacaca"/>
<circle cx="455.31" cy="120.17" r="0.9" fill="#cacaca"/>
<circle cx="463.98" cy="119.81" r="0.9" fill="#cacaca"/>
<circle cx="457.9" cy="121.65" r="0.9" fill="#cacaca"/>
<circle cx="448.42" cy="120.96" r="0.9" fill="#cacaca"/>
<circle cx="461.77" cy="121.81" r="0.9" fill="#cacaca"/>
<circle cx="463.89" cy="120.12" r="0.9" fill="#cacaca"/>
<circle cx="455.04" cy="121.38" r="0.9" fill="#cacaca"/>
<circle cx="447.73" cy="120.64" r="0.9" fill="#cacaca"/>
<circle cx="456.51" cy="119.71" r="0.9" fill="#cacaca"/>
<circle cx="468.4" cy="121.1" r="0.9" fill="#cacaca"/>
<circle cx="439.29" cy="120.5" r="0.9" fill="#cacaca"/>
<circle cx="483.05" cy="121.9" r="0.9" fill="#cacaca"/>
<circle cx="442.44" cy="121.86" r="0.9" fill="#cacaca"/>
<circle cx="465.21" cy="121.16" r="0.9" fill="#cacaca"/>
<circle cx="448.17" cy="120.55" r="0.9" fill="#cacaca"/>
<circle cx="434.63" cy="119.82" r="0.9" fill="#cacaca"/>
<circle cx="444.88" cy="119.93" r="0.9" fill="#cacaca"/>
<circle cx="458.48" cy="121.06" r="0.9" fill="#cacaca"/>
<circle cx="457.39" cy="121.15" r="0.9" fill="#cacaca"/>
<circle cx="448.14" cy="121.55" r="0.9" fill="#cacaca"/>
<circle cx="449.42" cy="121.5" r="0.9" fill="#cacaca"/>
<circle cx="453.78" cy="121.47" r="0.9" fill="#cacaca"/>
<circle cx="446.35" cy="120.9" r="0.9" fill="#cacaca"/>
<circle cx="457.81" cy="119.56" r="0.9" fill="#cacaca"/>
<circle cx="446.17" cy="121.5" r="0.9" fill="#cacaca"/>
<circle cx="435.54" cy="121.06" r="0.9" fill="#cacaca"/>
<circle cx="471.39" cy="121.11" r="0.9" fill="#cacaca"/>
<circle cx="463.5" cy="121.32" r="0.9" fill="#cacaca"/>
<circle cx="462.96" cy="121.35" r="0.9" fill="#cacaca"/>
<circle cx="456.69" cy="121.03" r="0.9" fill="#cacaca"/>
<circle cx="471.73" cy="121.34" r="0.9" fill="#cacaca"/>
<circle cx="447.59" cy="121.11" r="0.9" fill="#cacaca"/>
<circle cx="470.97" cy="121.12" r="0.9" fill="#cacaca"/>
<circle cx="477.65" cy="120.12" r="0.9" fill="#cacaca"/>
<circle cx="451.77" cy="121.95" r="0.9" fill="#cacaca"/>
<circle cx="431.58" cy="121.21" r="0.9" fill="#cacaca"/>
<circle cx="452.34" cy="119.83" r="0.9" fill="#cacaca"/>
<circle cx="458.98" cy="121.2" r="0.9" fill="#cacaca"/>
<circle cx="457.63" cy="121.86" r="0.9" fill="#cacaca"/>
<circle cx="442.3" cy="121.03" r="0.9" fill="#cacaca"/>
<circle cx="456.09" cy="121.63" r="0.9" fill="#cacaca"/>
<circle cx="459.11" cy="120.54" r="0.9" fill="#cacaca"/>
<circle cx="465.43" cy="120.96" r="0.9" fill="#cacaca"/>
<circle cx="457.79" cy="120.66" r="0.9" fill="#cacaca"/>
<circle cx="467.46" cy="121.36" r="0.9" fill="#cacaca"/>
<circle cx="469.19" cy="120.22" r="0.9" fill="#cacaca"/>
<circle cx="452.65" cy="121.5" r="0.9" fill="#cacaca"/>
<circle cx="450.35" cy="121.31" r="0.9" fill="#cacaca"/>
<circle cx="453.19" cy="121.05" r="0.9" fill="#cacaca"/>
<circle cx="444.66" cy="119.87" r="0.9" fill="#cacaca"/>
<circle cx="457.26" cy="121.15" r="0.9" fill="#cacaca"/>
<circle cx="465.13" cy="121.47" r="0.9" fill="#cacaca"/>
<circle cx="458.29" cy="120.45" r="0.9" fill="#cacaca"/>
<circle cx="456.49" cy="120.61" r="0.9" fill="#cacaca"/>
<circle cx="466.96" cy="121.27" r="0.9" fill="#cacaca"/>
<circle cx="443.72" cy="121.47" r="0.9" fill="#cacaca"/>
<circle cx="433.63" cy="120.3" r="0.9" fill="#cacaca"/>
<circle cx="441.77" cy="119.86" r="0.9" fill="#cacaca"/>
<circle cx="431.49" cy="121.42" r="0.9" fill="#cacaca"/>
<circle cx="452.56" cy="120.95" r="0.9" fill="#cacaca"/>
<circle cx="452.23" cy="121.03" r="0.9" fill="#cacaca"/>
<circle cx="466.18" cy="121.19" r="0.9" fill="#cacaca"/>
<circle cx="459.95" cy="120.78" r="0.9" fill="#cacaca"/>
<circle cx="454.62" cy="121.01" r="0.9" fill="#cacaca"/>
<circle cx="462.37" cy="120.83" r="0.9" fill="#cacaca"/>
<circle cx="464.2" cy="121.41" r="0.9" fill="#cacaca"/>
<circle cx="470.32" cy="121.77" r="0.9" fill="#cacaca"/>
<circle cx="449.4" cy="121.63" r="0.9" fill="#cacaca"/>
<circle cx="465.77" cy="120.57" r="0.9" fill="#cacaca"/>
<circle cx="451.54" cy="120.28" r="0.9" fill="#cacaca"/>
<circle cx="442.18" cy="121.94" r="0.9" fill="#cacaca"/>
<circle cx="447.51" cy="121.85" r="0.9" fill="#cacaca"/>
<circle cx="462.63" cy="121.01" r="0.9" fill="#cacaca"/>
<circle cx="468.29" cy="120.56" r="0.9" fill="#cacaca"/>
<circle cx="460.3" cy="120.85" r="0.9" fill="#cacaca"/>
<circle cx="451.91" cy="121.94" r="0.9" fill="#cacaca"/>
<circle cx="463.53" cy="121.15" r="0.9" fill="#cacaca"/>
<circle cx="467.19" cy="121.36" r="0.9" fill="#cacaca"/>
<circle cx="446.68" cy="120.36" r="0.9" fill="#cacaca"/>
<circle cx="460.83" cy="120.49" r="0.9" fill="#cacaca"/>
<circle cx="467.55" cy="119.65" r="0.9" fill="#cacaca"/>
<circle cx="446.24" cy="119.68" r="0.9" fill="#cacaca"/>
<circle cx="467.1" cy="120.1" r="0.9" fill="#cacaca"/>
<circle cx="444.9" cy="120.99" r="0.9" fill="#cacaca"/>
<circle cx="444.57" cy="120.98" r="0.9" fill="#cacaca"/>
<circle cx="452.38" cy="119.84" r="0.9" fill="#cacaca"/>
<circle cx="476.81" cy="121.06" r="0.9" fill="#cacaca"/>
<circle cx="458.51" cy="121.67" r="0.9" fill="#cacaca"/>
<circle cx="454.16" cy="120.75" r="0.9" fill="#cacaca"/>
<circle cx="452.01" cy="119.6" r="0.9" fill="#cacaca"/>
<circle cx="465.81" cy="121.63" r="0.9" fill="#cacaca"/>
<circle cx="458.73" cy="120.33" r="0.9" fill="#cacaca"/>
<circle cx="463.46" cy="121.42" r="0.9" fill="#cacaca"/>
<circle cx="470" cy="121.03" r="0.9" fill="#cacaca"/>
<circle cx="455.94" cy="121.41" r="0.9" fill="#cacaca"/>
<circle cx="439.5" cy="120.65" r="0.9" fill="#cacaca"/>
<circle cx="456.51" cy="120.46" r="0.9" fill="#cacaca"/>
<circle cx="436.09" cy="119.62" r="0.9" fill="#cacaca"/>
<circle cx="447.92" cy="121.18" r="0.9" fill="#cacaca"/>
<circle cx="442.41" cy="121.23" r="0.9" fill="#cacaca"/>
<circle cx="475.19" cy="120.24" r="0.9" fill="#cacaca"/>
<circle cx="450.07" cy="119.63" r="0.9" fill="#cacaca"/>
<circle cx="439.66" cy="119.97" r="0.9" fill="#cacaca"/>
<circle cx="464.33" cy="120.79" r="0.9" fill="#cacaca"/>
<circle cx="469.12" cy="120.61" r="0.9" fill="#cacaca"/>
<circle cx="449.53" cy="120.16" r="0.9" fill="#cacaca"/>
<circle cx="462.63" cy="120.69" r="0.9" fill="#cacaca"/>
<circle cx="456.55" cy="121.2" r="0.9" fill="#cacaca"/>
<circle cx="464.38" cy="121.56" r="0.9" fill="#cacaca"/>
<circle cx="450.02" cy="121.84" r="0.9" fill="#cacaca"/>
<circle cx="455.35" cy="121.83" r="0.9" fill="#cacaca"/>
<circle cx="469.98" cy="121.72" r="0.9" fill="#cacaca"/>
<circle cx="466.42" cy="120.89" r="0.9" fill="#cacaca"/>
<circle cx="457.64" cy="121.6" r="0.9" fill="#cacaca"/>
<circle cx="443.05" cy="119.87" r="0.9" fill="#cacaca"/>
<circle cx="458.41" cy="121.38" r="0.9" fill="#cacaca"/>
<circle cx="453.12" cy="120.75" r="0.9" fill="#cacaca"/>
<circle cx="459.1" cy="120.24" r="0.9" fill="#cacaca"/>
<circle cx="445.06" cy="121.38" r="0.9" fill="#cacaca"/>
<circle cx="453.71" cy="121.18" r="0.9" fill="#cacaca"/>
<circle cx="446.04" cy="120.13" r="0.9" fill="#cacaca"/>
<circle cx="467.52" cy="120.6" r="0.9" fill="#cacaca"/>
<circle cx="438.15" cy="120.97" r="0.9" fill="#cacaca"/>
<circle cx="451.64" cy="119.96" r="0.9" fill="#cacaca"/>
<circle cx="440.66" cy="120.03" r="0.9" fill="#cacaca"/>
<circle cx="463.61" cy="120.35" r="0.9" fill="#cacaca"/>
<circle cx="463.63" cy="121.43" r="0.9" fill="#cacaca"/>
<circle cx="456.6" cy="120.56" r="0.9" fill="#cacaca"/>
<circle cx="457.57" cy="119.69" r="0.9" fill="#cacaca"/>
<circle cx="461.8" cy="120.31" r="0.9" fill="#cacaca"/>
<circle cx="454.74" cy="120.97" r="0.9" fill="#cacaca"/>
<circle cx="448.16" cy="119.7" r="0.9" fill="#cacaca"/>
<circle cx="447.51" cy="119.57" r="0.9" fill="#cacaca"/>
<circle cx="472.87" cy="121.71" r="0.9" fill="#cacaca"/>
<circle cx="461.23" cy="121.9" r="0.9" fill="#cacaca"/>
<circle cx="451.74" cy="119.56" r="0.9" fill="#cacaca"/>
<circle cx="473.69" cy="121.7" r="0.9" fill="#cacaca"/>
<circle cx="454.59" cy="120.67" r="0.9" fill="#cacaca"/>
<circle cx="458.15" cy="120.81" r="0.9" fill="#cacaca"/>
<circle cx="449.05" cy="120.03" r="0.9" fill="#cacaca"/>
<circle cx="462.79" cy="119.94" r="0.9" fill="#cacaca"/>
<circle cx="453.49" cy="120.48" r="0.9" fill="#cacaca"/>
<circle cx="466.86" cy="120.12" r="0.9" fill="#cacaca"/>
<circle cx="466.99" cy="120.29" r="0.9" fill="#cacaca"/>
<circle cx="454.52" cy="120.66" r="0.9" fill="#cacaca"/>
<circle cx="457.83" cy="121.57" r="0.9" fill="#cacaca"/>
<circle cx="449.8" cy="121.74" r="0.9" fill="#cacaca"/>
<circle cx="463.71" cy="120.8" r="0.9" fill="#cacaca"/>
<circle cx="452.37" cy="121.7" r="0.9" fill="#cacaca"/>
<circle cx="454.86" cy="120.61" r="0.9" fill="#cacaca"/>
<circle cx="457.85" cy="121.65" r="0.9" fill="#cacaca"/>
<circle cx="449.48" cy="121.44" r="0.9" fill="#cacaca"/>
<circle cx="449.45" cy="120.81" r="0.9" fill="#cacaca"/>
<circle cx="450.03" cy="121.87" r="0.9" fill="#cacaca"/>
<circle cx="462.39" cy="121.84" r="0.9" fill="#cacaca"/>
<circle cx="463.44" cy="121.81" r="0.9" fill="#cacaca"/>
<circle cx="449.79" cy="121.55" r="0.9" fill="#cacaca"/>
<circle cx="459.87" cy="121.5" r="0.9" fill="#cacaca"/>
<circle cx="464.58" cy="120.98" r="0.9" fill="#cacaca"/>
<circle cx="446.23" cy="120.02" r="0.9" fill="#cacaca"/>
<circle cx="452.77" cy="120.65" r="0.9" fill="#cacaca"/>
<circle cx="458.22" cy="120.38" r="0.9" fill="#cacaca"/>
<circle cx="449.34" cy="119.69" r="0.9" fill="#cacaca"/>
<circle cx="449.5" cy="119.87" r="0.9" fill="#cacaca"/>
<circle cx="468.07" cy="119.95" r="0.9" fill="#cacaca"/>
<circle cx="455.42" cy="120.22" r="0.9" fill="#cacaca"/>
<circle cx="457.04" cy="121.58" r="0.9" fill="#cacaca"/>
<circle cx="458.2" cy="121.71" r="0.9" fill="#cacaca"/>
<circle cx="465.35" cy="120.15" r="0.9" fill="#cacaca"/>
<circle cx="460.67" cy="121.24" r="0.9" fill="#cacaca"/>
<circle cx="454.22" cy="121.48" r="0.9" fill="#cacaca"/>
<circle cx="455.71" cy="119.64" r="0.9" fill="#cacaca"/>
<circle cx="469.64" cy="120.01" r="0.9" fill="#cacaca"/>
<circle cx="456.81" cy="120.05" r="0.9" fill="#cacaca"/>
<circle cx="454.81" cy="120.02" r="0.9" fill="#cacaca"/>
<circle cx="444.5" cy="119.96" r="0.9" fill="#cacaca"/>
<circle cx="459.52" cy="121.75" r="0.9" fill="#cacaca"/>
<circle cx="466.76" cy="120.27" r="0.9" fill="#cacaca"/>
<circle cx="452.34" cy="121.38" r="0.9" fill="#cacaca"/>
<circle cx="457.93" cy="120.58" r="0.9" fill="#cacaca"/>
<circle cx="454.53" cy="121.44" r="0.9" fill="#cacaca"/>
<circle cx="447.57" cy="120.38" r="0.9" fill="#cacaca"/>
<circle cx="462.85" cy="120.01" r="0.9" fill="#cacaca"/>
<circle cx="445.23" cy="121.13" r="0.9" fill="#cacaca"/>
<circle cx="467.95" cy="121.31" r="0.9" fill="#cacaca"/>
<circle cx="464.09" cy="121.77" r="0.9" fill="#cacaca"/>
<circle cx="450.27" cy="121.18" r="0.9" fill="#cacaca"/>
<circle cx="455.45" cy="120.17" r="0.9" fill="#cacaca"/>
<circle cx="448.08" cy="120.66" r="0.9" fill="#cacaca"/>
<circle cx="452.86" cy="121.74" r="0.9" fill="#cacaca"/>
<circle cx="449.47" cy="121.65" r="0.9" fill="#cacaca"/>
<circle cx="448.79" cy="121.98" r="0.9" fill="#cacaca"/>
<circle cx="465.54" cy="120.76" r="0.9" fill="#cacaca"/>
<circle cx="447.69" cy="120.68" r="0.9" fill="#cacaca"/>
<circle cx="461.53" cy="119.66" r="0.9" fill="#cacaca"/>
<circle cx="462.39" cy="121.21" r="0.9" fill="#cacaca"/>
<circle cx="478.19" cy="120.15" r="0.9" fill="#cacaca"/>
<circle cx="481.83" cy="120.94" r="0.9" fill="#cacaca"/>
<circle cx="476.9" cy="119.63" r="0.9" fill="#cacaca"/>
<circle cx="458.05" cy="120.26" r="0.9" fill="#cacaca"/>
<circle cx="467.21" cy="121.56" r="0.9" fill="#cacaca"/>
<circle cx="453.37" cy="119.67" r="0.9" fill="#cacaca"/>
<circle cx="472.65" cy="121.21" r="0.9" fill="#cacaca"/>
<circle cx="460.17" cy="119.57" r="0.9" fill="#cacaca"/>
<circle cx="465.55" cy="121.64" r="0.9" fill="#cacaca"/>
<circle cx="448.56" cy="120.42" r="0.9" fill="#cacaca"/>
<circle cx="447.61" cy="121.48" r="0.9" fill="#cacaca"/>
<circle cx="438.27" cy="119.89" r="0.9" fill="#cacaca"/>
<circle cx="440.1" cy="120.45" r="0.9" fill="#cacaca"/>
<circle cx="441.24" cy="121.72" r="0.9" fill="#cacaca"/>
<circle cx="455.41" cy="119.94" r="0.9" fill="#cacaca"/>
<circle cx="451.27" cy="120.36" r="0.9" fill="#cacaca"/>
<circle cx="444.32" cy="120.97" r="0.9" fill="#cacaca"/>
<circle cx="449.74" cy="120.52" r="0.9" fill="#cacaca"/>
<circle cx="461.27" cy="120.59" r="0.9" fill="#cacaca"/>
<circle cx="452.98" cy="120.46" r="0.9" fill="#cacaca"/>
<circle cx="455.58" cy="120.9" r="0.9" fill="#cacaca"/>
<circle cx="443.22" cy="119.71" r="0.9" fill="#cacaca"/>
<circle cx="447.45" cy="121.63" r="0.9" fill="#cacaca"/>
<circle cx="462.8" cy="120.18" r="0.9" fill="#cacaca"/>
<circle cx="448.74" cy="119.57" r="0.9" fill="#cacaca"/>
<circle cx="472.88" cy="121.01" r="0.9" fill="#cacaca"/>
<circle cx="459.81" cy="119.56" r="0.9" fill="#cacaca"/>
<circle cx="451.51" cy="120.79" r="0.9" fill="#cacaca"/>
<circle cx="458.01" cy="120.4" r="0.9" fill="#cacaca"/>
<circle cx="477.37" cy="119.69" r="0.9" fill="#cacaca"/>
<circle cx="465.5" cy="120.74" r="0.9" fill="#cacaca"/>
<circle cx="438.12" cy="119.56" r="0.9" fill="#cacaca"/>
<circle cx="476.8" cy="120.25" r="0.9" fill="#cacaca"/>
<circle cx="464.89" cy="121.38" r="0.9" fill="#cacaca"/>
<circle cx="460.22" cy="120.68" r="0.9" fill="#cacaca"/>
<circle cx="444.22" cy="119.87" r="0.9" fill="#cacaca"/>
<circle cx="458.9" cy="120.42" r="0.9" fill="#cacaca"/>
<circle cx="464.48" cy="121.82" r="0.9" fill="#cacaca"/>
<circle cx="437.17" cy="120.79" r="0.9" fill="#cacaca"/>
<circle cx="449.13" cy="121.41" r="0.9" fill="#cacaca"/>
<circle cx="462.71" cy="120.1" r="0.9" fill="#cacaca"/>
<circle cx="434.75" cy="120.65" r="0.9" fill="#cacaca"/>
<circle cx="472.58" cy="121.63" r="0.9" fill="#cacaca"/>
<circle cx="444.6" cy="121.1" r="0.9" fill="#cacaca"/>
<circle cx="458.35" cy="121.15" r="0.9" fill="#cacaca"/>
<circle cx="457.68" cy="119.87" r="0.9" fill="#cacaca"/>
<circle cx="458.69" cy="121.55" r="0.9" fill="#cacaca"/>
<circle cx="450.98" cy="121.04" r="0.9" fill="#cacaca"/>
<circle cx="464.99" cy="119.78" r="0.9" fill="#cacaca"/>
<circle cx="443.15" cy="121.82" r="0.9" fill="#cacaca"/>
<circle cx="463.52" cy="120.45" r="0.9" fill="#cacaca"/>
<circle cx="455.27" cy="119.84" r="0.9" fill="#cacaca"/>
<circle cx="454.81" cy="120.36" r="0.9" fill="#cacaca"/>
<circle cx="448.45" cy="120.94" r="0.9" fill="#cacaca"/>
<circle cx="466.09" cy="121.22" r="0.9" fill="#cacaca"/>
<circle cx="456.85" cy="120.45" r="0.9" fill="#cacaca"/>
<circle cx="453.12" cy="120.29" r="0.9" fill="#cacaca"/>
<circle cx="470.96" cy="121.56" r="0.9" fill="#cacaca"/>
<circle cx="467.9" cy="120.85" r="0.9" fill="#cacaca"/>
<circle cx="468.37" cy="121.68" r="0.9" fill="#cacaca"/>
<circle cx="475.89" cy="120.5" r="0.9" fill="#cacaca"/>
<circle cx="473.75" cy="121.12" r="0.9" fill="#cacaca"/>
<circle cx="468.02" cy="120.3" r="0.9" fill="#cacaca"/>
<circle cx="454.93" cy="121.24" r="0.9" fill="#cacaca"/>
<circle cx="445.22" cy="121" r="0.9" fill="#cacaca"/>
<circle cx="465.53" cy="120.96" r="0.9" fill="#cacaca"/>
<circle cx="468.53" cy="119.98" r="0.9" fill="#cacaca"/>
<circle cx="445.36" cy="120.75" r="0.9" fill="#cacaca"/>
<circle cx="462.61" cy="119.68" r="0.9" fill="#cacaca"/>
<circle cx="445.83" cy="121.42" r="0.9" fill="#cacaca"/>
<circle cx="470.33" cy="120.58" r="0.9" fill="#cacaca"/>
<circle cx="450.87" cy="121.3" r="0.9" fill="#cacaca"/>
<circle cx="478.23" cy="119.9" r="0.9" fill="#cacaca"/>
<circle cx="450.32" cy="119.7" r="0.9" fill="#cacaca"/>
<circle cx="444.71" cy="121.05" r="0.9" fill="#cacaca"/>
<circle cx="455.21" cy="120.9" r="0.9" fill="#cacaca"/>
<circle cx="440.55" cy="121.84" r="0.9" fill="#cacaca"/>
<circle cx="447.84" cy="120.92" r="0.9" fill="#cacaca"/>
<circle cx="460.32" cy="119.65" r="0.9" fill="#cacaca"/>
<circle cx="451.21" cy="120.35" r="0.9" fill="#cacaca"/>
<circle cx="472.62" cy="121.4" r="0.9" fill="#cacaca"/>
<circle cx="450.75" cy="119.8" r="0.9" fill="#cacaca"/>
<circle cx="459.03" cy="121.38" r="0.9" fill="#cacaca"/>
<circle cx="446.79" cy="119.98" r="0.9" fill="#cacaca"/>
<circle cx="460.79" cy="119.91" r="0.9" fill="#cacaca"/>
<circle cx="462.61" cy="118.53" r="0.9" fill="#cacaca"/>
<circle cx="456.6" cy="119.65" r="0.9" fill="#cacaca"/>
<circle cx="456.46" cy="121.11" r="0.9" fill="#cacaca"/>
<circle cx="459.96" cy="117.61" r="0.9" fill="#cacaca"/>
<circle cx="463.57" cy="120.05" r="0.9" fill="#cacaca"/>
<circle cx="466.37" cy="119.47" r="0.9" fill="#cacaca"/>
<circle cx="455.67" cy="121.13" r="0.9" fill="#cacaca"/>
<circle cx="461.12" cy="119.57" r="0.9" fill="#cacaca"/>
<circle cx="461.07" cy="119.88" r="0.9" fill="#cacaca"/>
<circle cx="463.59" cy="118.58" r="0.9" fill="#cacaca"/>
<circle cx="467.25" cy="120.56" r="0.9" fill="#cacaca"/>
<circle cx="467.53" cy="121.57" r="0.9" fill="#cacaca"/>
<circle cx="465.52" cy="119.6" r="0.9" fill="#cacaca"/>
<circle cx="463.96" cy="116.69" r="0.9" fill="#cacaca"/>
<circle cx="456.2" cy="121.03" r="0.9" fill="#cacaca"/>
<circle cx="460.29" cy="117.87" r="0.9" fill="#cacaca"/>
<circle cx="458.05" cy="117.71" r="0.9" fill="#cacaca"/>
<circle cx="457.95" cy="120.44" r="0.9" fill="#cacaca"/>
<circle cx="457.13" cy="120.7" r="0.9" fill="#cacaca"/>
<circle cx="464.46" cy="121.6" r="0.9" fill="#cacaca"/>
<circle cx="457.42" cy="119.64" r="0.9" fill="#cacaca"/>
<circle cx="463" cy="117.47" r="0.9" fill="#cacaca"/>
<circle cx="458.48" cy="118.12" r="0.9" fill="#cacaca"/>
<circle cx="464.32" cy="118.14" r="0.9" fill="#cacaca"/>
<circle cx="456.85" cy="120.62" r="0.9" fill="#cacaca"/>
<circle cx="455.58" cy="120.93" r="0.9" fill="#cacaca"/>
<circle cx="466.94" cy="120.29" r="0.9" fill="#cacaca"/>
<circle cx="455.68" cy="121.51" r="0.9" fill="#cacaca"/>
<circle cx="461.94" cy="118.43" r="0.9" fill="#cacaca"/>
<circle cx="456.74" cy="119.79" r="0.9" fill="#cacaca"/>
<circle cx="459.07" cy="119.29" r="0.9" fill="#cacaca"/>
<circle cx="456.91" cy="120.29" r="0.9" fill="#cacaca"/>
<circle cx="456.97" cy="121.73" r="0.9" fill="#cacaca"/>
<circle cx="461.65" cy="120" r="0.9" fill="#cacaca"/>
<circle cx="464.89" cy="120.92" r="0.9" fill="#cacaca"/>
<circle cx="460.45" cy="121.65" r="0.9" fill="#cacaca"/>
<circle cx="458.05" cy="120.04" r="0.9" fill="#cacaca"/>
<circle cx="462.21" cy="118.98" r="0.9" fill="#cacaca"/>
<circle cx="465.79" cy="121.65" r="0.9" fill="#cacaca"/>
<circle cx="465.78" cy="121.48" r="0.9" fill="#cacaca"/>
<circle cx="467.25" cy="121.22" r="0.9" fill="#cacaca"/>
<circle cx="460.36" cy="118.12" r="0.9" fill="#cacaca"/>
<circle cx="465.95" cy="118.93" r="0.9" fill="#cacaca"/>
<circle cx="460.44" cy="121.93" r="0.9" fill="#cacaca"/>
<circle cx="457.26" cy="119.18" r="0.9" fill="#cacaca"/>
<circle cx="464.37" cy="118.48" r="0.9" fill="#cacaca"/>
<circle cx="457.3" cy="120.15" r="0.9" fill="#cacaca"/>
<circle cx="455.73" cy="121.84" r="0.9" fill="#cacaca"/>
<circle cx="459.06" cy="116.84" r="0.9" fill="#cacaca"/>
<circle cx="463.25" cy="116.98" r="0.9" fill="#cacaca"/>
<circle cx="455.95" cy="121.27" r="0.9" fill="#cacaca"/>
<circle cx="456.34" cy="121.4" r="0.9" fill="#cacaca"/>
<circle cx="456.75" cy="119.41" r="0.9" fill="#cacaca"/>
<circle cx="459.41" cy="119.24" r="0.9" fill="#cacaca"/>
<circle cx="463.38" cy="116.85" r="0.9" fill="#cacaca"/>
<circle cx="466.96" cy="120.93" r="0.9" fill="#cacaca"/>
<circle cx="461.51" cy="115.84" r="0.9" fill="#cacaca"/>
<circle cx="460.21" cy="120.13" r="0.9" fill="#cacaca"/>
<circle cx="464.43" cy="120.74" r="0.9" fill="#cacaca"/>
<circle cx="459.88" cy="119.42" r="0.9" fill="#cacaca"/>
<circle cx="461.22" cy="119.58" r="0.9" fill="#cacaca"/>
<circle cx="460.65" cy="119.07" r="0.9" fill="#cacaca"/>
<circle cx="455.99" cy="120.48" r="0.9" fill="#cacaca"/>
<circle cx="456.14" cy="120.94" r="0.9" fill="#cacaca"/>
<circle cx="462.08" cy="119.35" r="0.9" fill="#cacaca"/>
<circle cx="458.11" cy="121.56" r="0.9" fill="#cacaca"/>
<circle cx="459.93" cy="120.1" r="0.9" fill="#cacaca"/>
<circle cx="461.3" cy="120.44" r="0.9" fill="#cacaca"/>
<circle cx="464.55" cy="119.68" r="0.9" fill="#cacaca"/>
<circle cx="455.49" cy="121.54" r="0.9" fill="#cacaca"/>
<circle cx="467.2" cy="121.99" r="0.9" fill="#cacaca"/>
<circle cx="462.64" cy="115.91" r="0.9" fill="#cacaca"/>
<circle cx="459.86" cy="118.41" r="0.9" fill="#cacaca"/>
<circle cx="459.9" cy="120.18" r="0.9" fill="#cacaca"/>
<circle cx="462.84" cy="118.34" r="0.9" fill="#cacaca"/>
<circle cx="459.24" cy="119.26" r="0.9" fill="#cacaca"/>
<circle cx="461.7" cy="116.89" r="0.9" fill="#cacaca"/>
<circle cx="456.03" cy="121.83" r="0.9" fill="#cacaca"/>
<circle cx="458.47" cy="120.71" r="0.9" fill="#cacaca"/>
<circle cx="465.12" cy="120.23" r="0.9" fill="#cacaca"/>
<circle cx="465.9" cy="120.7" r="0.9" fill="#cacaca"/>
<circle cx="458.88" cy="118.48" r="0.9" fill="#cacaca"/>
<circle cx="456.43" cy="119.64" r="0.9" fill="#cacaca"/>
<circle cx="465.56" cy="120.8" r="0.9" fill="#cacaca"/>
<circle cx="459.27" cy="117.48" r="0.9" fill="#cacaca"/>
<circle cx="465.03" cy="119.27" r="0.9" fill="#cacaca"/>
<circle cx="456.08" cy="120.52" r="0.9" fill="#cacaca"/>
<circle cx="455.97" cy="120.88" r="0.9" fill="#cacaca"/>
<circle cx="462.14" cy="115.87" r="0.9" fill="#cacaca"/>
<circle cx="463.2" cy="121.87" r="0.9" fill="#cacaca"/>
<circle cx="466.81" cy="120.43" r="0.9" fill="#cacaca"/>
<circle cx="462.48" cy="121.96" r="0.9" fill="#cacaca"/>
<circle cx="464.4" cy="119.95" r="0.9" fill="#cacaca"/>
<circle cx="463.7" cy="116.54" r="0.9" fill="#cacaca"/>
<circle cx="466.6" cy="121.82" r="0.9" fill="#cacaca"/>
<circle cx="464.94" cy="120.09" r="0.9" fill="#cacaca"/>
<circle cx="464.58" cy="120.21" r="0.9" fill="#cacaca"/>
<circle cx="460.86" cy="119.11" r="0.9" fill="#cacaca"/>
<circle cx="456.83" cy="121.07" r="0.9" fill="#cacaca"/>
<circle cx="464.37" cy="121.65" r="0.9" fill="#cacaca"/>
<circle cx="456.8" cy="119.6" r="0.9" fill="#cacaca"/>
<circle cx="463.53" cy="118.88" r="0.9" fill="#cacaca"/>
<circle cx="456.77" cy="121.66" r="0.9" fill="#cacaca"/>
<circle cx="459.18" cy="116.81" r="0.9" fill="#cacaca"/>
<circle cx="462.24" cy="115.94" r="0.9" fill="#cacaca"/>
<circle cx="457.97" cy="120.24" r="0.9" fill="#cacaca"/>
<circle cx="461.94" cy="116.38" r="0.9" fill="#cacaca"/>
<circle cx="456.89" cy="119.39" r="0.9" fill="#cacaca"/>
<circle cx="461.16" cy="121.79" r="0.9" fill="#cacaca"/>
<circle cx="460.67" cy="119.54" r="0.9" fill="#cacaca"/>
<circle cx="463.63" cy="116.79" r="0.9" fill="#cacaca"/>
<circle cx="461.42" cy="117.31" r="0.9" fill="#cacaca"/>
<circle cx="460.13" cy="117.18" r="0.9" fill="#cacaca"/>
<circle cx="456.67" cy="119.99" r="0.9" fill="#cacaca"/>
<circle cx="457.42" cy="119.87" r="0.9" fill="#cacaca"/>
<circle cx="457.86" cy="120.57" r="0.9" fill="#cacaca"/>
<circle cx="457.39" cy="120.74" r="0.9" fill="#cacaca"/>
<circle cx="462.62" cy="118.7" r="0.9" fill="#cacaca"/>
<circle cx="460.14" cy="118.44" r="0.9" fill="#cacaca"/>
<circle cx="465.69" cy="120.75" r="0.9" fill="#cacaca"/>
<circle cx="462.53" cy="118.92" r="0.9" fill="#cacaca"/>
<circle cx="467.38" cy="121.57" r="0.9" fill="#cacaca"/>
<circle cx="463.92" cy="120.75" r="0.9" fill="#cacaca"/>
<circle cx="458.58" cy="118.43" r="0.9" fill="#cacaca"/>
<circle cx="462.42" cy="120.34" r="0.9" fill="#cacaca"/>
<circle cx="456.17" cy="120.3" r="0.9" fill="#cacaca"/>
<circle cx="460" cy="117.63" r="0.9" fill="#cacaca"/>
<circle cx="460.68" cy="117.97" r="0.9" fill="#cacaca"/>
<circle cx="462.23" cy="115.59" r="0.9" fill="#cacaca"/>
<circle cx="466.51" cy="120.87" r="0.9" fill="#cacaca"/>
<circle cx="461.34" cy="120.43" r="0.9" fill="#cacaca"/>
<circle cx="464.6" cy="121.52" r="0.9" fill="#cacaca"/>
<circle cx="459.13" cy="117.42" r="0.9" fill="#cacaca"/>
<circle cx="455.81" cy="120.9" r="0.9" fill="#cacaca"/>
<circle cx="462.33" cy="118.41" r="0.9" fill="#cacaca"/>
<circle cx="459.46" cy="121.14" r="0.9" fill="#cacaca"/>
<circle cx="467.01" cy="120.62" r="0.9" fill="#cacaca"/>
<circle cx="465.24" cy="121.61" r="0.9" fill="#cacaca"/>
<circle cx="464.98" cy="121.06" r="0.9" fill="#cacaca"/>
<circle cx="457.82" cy="119.81" r="0.9" fill="#cacaca"/>
<circle cx="462.84" cy="121.25" r="0.9" fill="#cacaca"/>
<circle cx="464.74" cy="119.35" r="0.9" fill="#cacaca"/>
<circle cx="466.39" cy="119.56" r="0.9" fill="#cacaca"/>
<circle cx="463.82" cy="120.02" r="0.9" fill="#cacaca"/>
<circle cx="467.02" cy="120.7" r="0.9" fill="#cacaca"/>
<circle cx="458.94" cy="117.51" r="0.9" fill="#cacaca"/>
<circle cx="464.28" cy="120.67" r="0.9" fill="#cacaca"/>
<circle cx="458.43" cy="121.9" r="0.9" fill="#cacaca"/>
<circle cx="461.96" cy="120.3" r="0.9" fill="#cacaca"/>
<circle cx="458.97" cy="120.67" r="0.9" fill="#cacaca"/>
<circle cx="456.99" cy="120.49" r="0.9" fill="#cacaca"/>
<circle cx="458.72" cy="120.57" r="0.9" fill="#cacaca"/>
<circle cx="458.78" cy="119.41" r="0.9" fill="#cacaca"/>
<circle cx="466.07" cy="121.51" r="0.9" fill="#cacaca"/>
<circle cx="465.9" cy="119.22" r="0.9" fill="#cacaca"/>
<circle cx="462.84" cy="118.62" r="0.9" fill="#cacaca"/>
<circle cx="464.36" cy="119.36" r="0.9" fill="#cacaca"/>
<circle cx="463.46" cy="116.71" r="0.9" fill="#cacaca"/>
<circle cx="464.87" cy="120.85" r="0.9" fill="#cacaca"/>
<circle cx="456.05" cy="120.23" r="0.9" fill="#cacaca"/>
<circle cx="459.82" cy="117.3" r="0.9" fill="#cacaca"/>
<circle cx="458.24" cy="119.95" r="0.9" fill="#cacaca"/>
<circle cx="459.92" cy="117.59" r="0.9" fill="#cacaca"/>
<circle cx="466.93" cy="121.02" r="0.9" fill="#cacaca"/>
<circle cx="462.31" cy="119.72" r="0.9" fill="#cacaca"/>
<circle cx="458.22" cy="117.71" r="0.9" fill="#cacaca"/>
<circle cx="456.73" cy="119.38" r="0.9" fill="#cacaca"/>
<circle cx="463.42" cy="121.58" r="0.9" fill="#cacaca"/>
<circle cx="466.41" cy="121.73" r="0.9" fill="#cacaca"/>
<circle cx="462.3" cy="121.22" r="0.9" fill="#cacaca"/>
<circle cx="467.48" cy="121.64" r="0.9" fill="#cacaca"/>
<circle cx="466.05" cy="121.81" r="0.9" fill="#cacaca"/>
<circle cx="463.54" cy="121.61" r="0.9" fill="#cacaca"/>
<circle cx="455.75" cy="121.15" r="0.9" fill="#cacaca"/>
<circle cx="467.41" cy="121.13" r="0.9" fill="#cacaca"/>
<circle cx="465.85" cy="119.4" r="0.9" fill="#cacaca"/>
<circle cx="461.76" cy="121.48" r="0.9" fill="#cacaca"/>
<circle cx="461.83" cy="120.76" r="0.9" fill="#cacaca"/>
<circle cx="461.83" cy="119.61" r="0.9" fill="#cacaca"/>
<circle cx="461.49" cy="120.65" r="0.9" fill="#cacaca"/>
<circle cx="464.01" cy="119.8" r="0.9" fill="#cacaca"/>
<circle cx="461.33" cy="121.47" r="0.9" fill="#cacaca"/>
<circle cx="461.34" cy="118.22" r="0.9" fill="#cacaca"/>
<circle cx="467.28" cy="121.19" r="0.9" fill="#cacaca"/>
<circle cx="457.03" cy="121.05" r="0.9" fill="#cacaca"/>
<circle cx="459.49" cy="117.99" r="0.9" fill="#cacaca"/>
<circle cx="466.87" cy="120.04" r="0.9" fill="#cacaca"/>
<circle cx="467" cy="120.31" r="0.9" fill="#cacaca"/>
<circle cx="465.89" cy="118.95" r="0.9" fill="#cacaca"/>
<circle cx="455.63" cy="121.35" r="0.9" fill="#cacaca"/>
<circle cx="462.61" cy="117.64" r="0.9" fill="#cacaca"/>
<circle cx="462.88" cy="118.21" r="0.9" fill="#cacaca"/>
<circle cx="466.8" cy="121.82" r="0.9" fill="#cacaca"/>
<circle cx="461.74" cy="115.51" r="0.9" fill="#cacaca"/>
<circle cx="455.77" cy="121.83" r="0.9" fill="#cacaca"/>
<circle cx="466.01" cy="119.03" r="0.9" fill="#cacaca"/>
<circle cx="455.68" cy="121.96" r="0.9" fill="#cacaca"/>
<circle cx="465.53" cy="119.46" r="0.9" fill="#cacaca"/>
<circle cx="461.74" cy="118.08" r="0.9" fill="#cacaca"/>
<circle cx="464.65" cy="118.24" r="0.9" fill="#cacaca"/>
<circle cx="455.39" cy="121.93" r="0.9" fill="#cacaca"/>
<circle cx="465.1" cy="117.93" r="0.9" fill="#cacaca"/>
<circle cx="465.58" cy="120.52" r="0.9" fill="#cacaca"/>
<circle cx="459.49" cy="120.02" r="0.9" fill="#cacaca"/>
<circle cx="455.57" cy="121.05" r="0.9" fill="#cacaca"/>
<circle cx="458.59" cy="119.13" r="0.9" fill="#cacaca"/>
<circle cx="461.82" cy="119.74" r="0.9" fill="#cacaca"/>
<circle cx="463.64" cy="119.45" r="0.9" fill="#cacaca"/>
<circle cx="458.25" cy="117.99" r="0.9" fill="#cacaca"/>
<circle cx="457.53" cy="121.44" r="0.9" fill="#cacaca"/>
<circle cx="458.48" cy="119.71" r="0.9" fill="#cacaca"/>
<circle cx="464.97" cy="120.56" r="0.9" fill="#cacaca"/>
<circle cx="458.3" cy="118.99" r="0.9" fill="#cacaca"/>
<circle cx="458.57" cy="119.45" r="0.9" fill="#cacaca"/>
<circle cx="458.5" cy="117.78" r="0.9" fill="#cacaca"/>
<circle cx="457.64" cy="121.1" r="0.9" fill="#cacaca"/>
<circle cx="459.07" cy="120.24" r="0.9" fill="#cacaca"/>
<circle cx="464.27" cy="118.61" r="0.9" fill="#cacaca"/>
<circle cx="465.05" cy="119.72" r="0.9" fill="#cacaca"/>
<circle cx="456.34" cy="120.25" r="0.9" fill="#cacaca"/>
<circle cx="458.37" cy="120.98" r="0.9" fill="#cacaca"/>
<circle cx="460.45" cy="115.67" r="0.9" fill="#cacaca"/>
<circle cx="459.92" cy="119.85" r="0.9" fill="#cacaca"/>
<circle cx="466.53" cy="119.57" r="0.9" fill="#cacaca"/>
<circle cx="460.12" cy="121.16" r="0.9" fill="#cacaca"/>
<circle cx="465.04" cy="118.69" r="0.9" fill="#cacaca"/>
<circle cx="459.52" cy="117.47" r="0.9" fill="#cacaca"/>
<circle cx="460.03" cy="120.24" r="0.9" fill="#cacaca"/>
<circle cx="462.64" cy="117.3" r="0.9" fill="#cacaca"/>
<circle cx="461.2" cy="116.48" r="0.9" fill="#cacaca"/>
<circle cx="455.55" cy="121.4" r="0.9" fill="#cacaca"/>
<circle cx="460.04" cy="121.6" r="0.9" fill="#cacaca"/>
<circle cx="466.57" cy="121.66" r="0.9" fill="#cacaca"/>
<circle cx="457.9" cy="118.34" r="0.9" fill="#cacaca"/>
<circle cx="467.13" cy="120.47" r="0.9" fill="#cacaca"/>
<circle cx="459.57" cy="116.63" r="0.9" fill="#cacaca"/>
<circle cx="457.12" cy="119.66" r="0.9" fill="#cacaca"/>
<circle cx="466.95" cy="121.63" r="0.9" fill="#cacaca"/>
<circle cx="457.04" cy="119.84" r="0.9" fill="#cacaca"/>
<circle cx="466.18" cy="119.89" r="0.9" fill="#cacaca"/>
<circle cx="467" cy="121.17" r="0.9" fill="#cacaca"/>
<circle cx="459.94" cy="121.27" r="0.9" fill="#cacaca"/>
<circle cx="458.72" cy="117.28" r="0.9" fill="#cacaca"/>
<circle cx="456.26" cy="121.6" r="0.9" fill="#cacaca"/>
<circle cx="459.63" cy="121.71" r="0.9" fill="#cacaca"/>
<circle cx="459.14" cy="121.01" r="0.9" fill="#cacaca"/>
<circle cx="456.89" cy="120.43" r="0.9" fill="#cacaca"/>
<circle cx="461.99" cy="118.21" r="0.9" fill="#cacaca"/>
<circle cx="464.71" cy="119.58" r="0.9" fill="#cacaca"/>
<circle cx="466.97" cy="121.85" r="0.9" fill="#cacaca"/>
<circle cx="431.56" cy="117.47" r="1.05" fill="#2c7cbb"/>
<circle cx="445.43" cy="117.57" r="1.05" fill="#2c7cbb"/>
<circle cx="444.75" cy="116.01" r="1.05" fill="#2c7cbb"/>
<circle cx="450.71" cy="106.84" r="1.05" fill="#2c7cbb" stroke="#fff" stroke-width="0.3"/>
<circle cx="440.36" cy="114.78" r="1.05" fill="#2c7cbb"/>
<circle cx="454.82" cy="106.77" r="1.05" fill="#2c7cbb" stroke="#fff" stroke-width="0.3"/>
<circle cx="449.96" cy="114.31" r="1.05" fill="#2c7cbb"/>
<circle cx="433.87" cy="118.22" r="1.05" fill="#2c7cbb"/>
<circle cx="444.24" cy="117.05" r="1.05" fill="#2c7cbb"/>
<circle cx="435.4" cy="112.96" r="1.05" fill="#2c7cbb"/>
<circle cx="449.68" cy="117.16" r="1.05" fill="#2c7cbb"/>
<circle cx="437.67" cy="119.16" r="1.05" fill="#2c7cbb"/>
<circle cx="446.1" cy="114.91" r="1.05" fill="#2c7cbb"/>
<circle cx="446.84" cy="111.53" r="1.05" fill="#2c7cbb"/>
<circle cx="439.07" cy="110.96" r="1.05" fill="#2c7cbb" stroke="#fff" stroke-width="0.3"/>
<circle cx="445.14" cy="113.95" r="1.05" fill="#2c7cbb"/>
<circle cx="454.01" cy="116.49" r="1.05" fill="#2c7cbb"/>
<circle cx="449.89" cy="108.4" r="1.05" fill="#2c7cbb" stroke="#fff" stroke-width="0.3"/>
<circle cx="449.88" cy="106.69" r="1.05" fill="#2c7cbb" stroke="#fff" stroke-width="0.3"/>
<circle cx="434.09" cy="113.96" r="1.05" fill="#2c7cbb"/>
<circle cx="445.16" cy="117.62" r="1.05" fill="#2c7cbb"/>
<circle cx="445.8" cy="116.01" r="1.05" fill="#2c7cbb"/>
<circle cx="447.94" cy="115.01" r="1.05" fill="#2c7cbb"/>
<circle cx="432.91" cy="115.82" r="1.05" fill="#2c7cbb"/>
<circle cx="455.92" cy="119.52" r="1.05" fill="#2c7cbb"/>
<circle cx="454.71" cy="111.29" r="1.05" fill="#2c7cbb"/>
<circle cx="442.9" cy="118.53" r="1.05" fill="#2c7cbb"/>
<circle cx="441.6" cy="109.13" r="1.05" fill="#2c7cbb" stroke="#fff" stroke-width="0.3"/>
<circle cx="441.38" cy="118.64" r="1.05" fill="#2c7cbb"/>
<circle cx="454.63" cy="116.48" r="1.05" fill="#2c7cbb"/>
<circle cx="453.97" cy="107.75" r="1.05" fill="#2c7cbb" stroke="#fff" stroke-width="0.3"/>
<circle cx="448.75" cy="113.98" r="1.05" fill="#2c7cbb"/>
<circle cx="445" cy="113.71" r="1.05" fill="#2c7cbb"/>
<circle cx="452.06" cy="112.97" r="1.05" fill="#2c7cbb"/>
<circle cx="434.78" cy="117.82" r="1.05" fill="#2c7cbb"/>
<circle cx="452.32" cy="109.05" r="1.05" fill="#2c7cbb" stroke="#fff" stroke-width="0.3"/>
<circle cx="442.68" cy="110.64" r="1.05" fill="#2c7cbb" stroke="#fff" stroke-width="0.3"/>
<circle cx="448.49" cy="108.97" r="1.05" fill="#2c7cbb" stroke="#fff" stroke-width="0.3"/>
<circle cx="447.83" cy="115.58" r="1.05" fill="#2c7cbb"/>
<circle cx="454.17" cy="119.24" r="1.05" fill="#2c7cbb"/>
<circle cx="439.32" cy="116.17" r="1.05" fill="#2c7cbb"/>
<circle cx="438.83" cy="110.58" r="1.05" fill="#2c7cbb" stroke="#fff" stroke-width="0.3"/>
<circle cx="441.75" cy="118.84" r="1.05" fill="#2c7cbb"/>
<circle cx="433.62" cy="112.99" r="1.05" fill="#2c7cbb"/>
<circle cx="434.49" cy="114.08" r="1.05" fill="#2c7cbb"/>
<circle cx="437.69" cy="110.52" r="1.05" fill="#2c7cbb" stroke="#fff" stroke-width="0.3"/>
<circle cx="444.56" cy="118.84" r="1.05" fill="#2c7cbb"/>
<circle cx="444.51" cy="110.39" r="1.05" fill="#2c7cbb" stroke="#fff" stroke-width="0.3"/>
<circle cx="446.91" cy="107.4" r="1.05" fill="#2c7cbb" stroke="#fff" stroke-width="0.3"/>
<circle cx="446.74" cy="113.25" r="1.05" fill="#2c7cbb"/>
<circle cx="454.98" cy="117.44" r="1.05" fill="#2c7cbb"/>
<circle cx="454.55" cy="116.55" r="1.05" fill="#2c7cbb"/>
<circle cx="453.8" cy="112.81" r="1.05" fill="#2c7cbb"/>
<circle cx="436.82" cy="117.89" r="1.05" fill="#2c7cbb"/>
<circle cx="440.59" cy="112.46" r="1.05" fill="#2c7cbb"/>
<circle cx="444.84" cy="108.58" r="1.05" fill="#2c7cbb" stroke="#fff" stroke-width="0.3"/>
<circle cx="455.04" cy="111.45" r="1.05" fill="#2c7cbb"/>
<circle cx="435.61" cy="113.1" r="1.05" fill="#2c7cbb"/>
<circle cx="437" cy="114.9" r="1.05" fill="#2c7cbb"/>
<circle cx="436.21" cy="114.96" r="1.05" fill="#2c7cbb"/>
<circle cx="451.78" cy="109.82" r="1.05" fill="#2c7cbb" stroke="#fff" stroke-width="0.3"/>
<circle cx="434.85" cy="114.89" r="1.05" fill="#2c7cbb"/>
<circle cx="438.29" cy="118.88" r="1.05" fill="#2c7cbb"/>
<circle cx="439.03" cy="114.43" r="1.05" fill="#2c7cbb"/>
<circle cx="449.48" cy="114.23" r="1.05" fill="#2c7cbb"/>
<circle cx="442.22" cy="109.01" r="1.05" fill="#2c7cbb" stroke="#fff" stroke-width="0.3"/>
<circle cx="441.12" cy="112.32" r="1.05" fill="#2c7cbb"/>
<circle cx="448.09" cy="112.29" r="1.05" fill="#2c7cbb"/>
<circle cx="435.64" cy="117.45" r="1.05" fill="#2c7cbb"/>
<circle cx="447.89" cy="106.52" r="1.05" fill="#2c7cbb" stroke="#fff" stroke-width="0.3"/>
<circle cx="449.76" cy="118.8" r="1.05" fill="#2c7cbb"/>
<circle cx="444.29" cy="116.32" r="1.05" fill="#2c7cbb"/>
<circle cx="439.95" cy="112.23" r="1.05" fill="#2c7cbb"/>
<circle cx="450.07" cy="111.08" r="1.05" fill="#2c7cbb"/>
<circle cx="445.71" cy="118.22" r="1.05" fill="#2c7cbb"/>
<circle cx="453.36" cy="107.08" r="1.05" fill="#2c7cbb" stroke="#fff" stroke-width="0.3"/>
<circle cx="452.59" cy="116.02" r="1.05" fill="#2c7cbb"/>
<circle cx="454.95" cy="113.83" r="1.05" fill="#2c7cbb"/>
<circle cx="440.92" cy="113.55" r="1.05" fill="#2c7cbb"/>
<circle cx="444.03" cy="111.56" r="1.05" fill="#2c7cbb"/>
<circle cx="447.74" cy="118.93" r="1.05" fill="#2c7cbb"/>
<circle cx="453.92" cy="113.36" r="1.05" fill="#2c7cbb"/>
<circle cx="431.46" cy="116.94" r="1.05" fill="#2c7cbb"/>
<circle cx="453.81" cy="118.16" r="1.05" fill="#2c7cbb"/>
<circle cx="449.17" cy="111.87" r="1.05" fill="#2c7cbb"/>
<circle cx="455.89" cy="117.97" r="1.05" fill="#2c7cbb"/>
<circle cx="435.43" cy="112.4" r="1.05" fill="#2c7cbb" stroke="#fff" stroke-width="0.3"/>
<circle cx="446.75" cy="114.29" r="1.05" fill="#2c7cbb"/>
<circle cx="450.27" cy="109.21" r="1.05" fill="#2c7cbb" stroke="#fff" stroke-width="0.3"/>
<circle cx="451.12" cy="113.69" r="1.05" fill="#2c7cbb"/>
<circle cx="445.84" cy="115.62" r="1.05" fill="#2c7cbb"/>
<circle cx="451.93" cy="114.17" r="1.05" fill="#2c7cbb"/>
<circle cx="450.23" cy="113.6" r="1.05" fill="#2c7cbb"/>
<circle cx="448.04" cy="114.63" r="1.05" fill="#2c7cbb"/>
<circle cx="448.5" cy="106.79" r="1.05" fill="#2c7cbb" stroke="#fff" stroke-width="0.3"/>
<circle cx="443.75" cy="110.95" r="1.05" fill="#2c7cbb" stroke="#fff" stroke-width="0.3"/>
<circle cx="448.92" cy="107.14" r="1.05" fill="#2c7cbb" stroke="#fff" stroke-width="0.3"/>
<circle cx="447.36" cy="110.82" r="1.05" fill="#2c7cbb" stroke="#fff" stroke-width="0.3"/>
<circle cx="452.1" cy="109.48" r="1.05" fill="#2c7cbb" stroke="#fff" stroke-width="0.3"/>
<circle cx="450.24" cy="106.75" r="1.05" fill="#2c7cbb" stroke="#fff" stroke-width="0.3"/>
<circle cx="448.59" cy="119.32" r="1.05" fill="#2c7cbb"/>
<circle cx="455.5" cy="111.53" r="1.05" fill="#2c7cbb"/>
<circle cx="440.19" cy="109.44" r="1.05" fill="#2c7cbb" stroke="#fff" stroke-width="0.3"/>
<circle cx="453.98" cy="118.76" r="1.05" fill="#2c7cbb"/>
<circle cx="448.34" cy="108.82" r="1.05" fill="#2c7cbb" stroke="#fff" stroke-width="0.3"/>
<circle cx="445.6" cy="110.75" r="1.05" fill="#2c7cbb"/>
<circle cx="447.59" cy="109.79" r="1.05" fill="#2c7cbb" stroke="#fff" stroke-width="0.3"/>
<circle cx="456.17" cy="112.21" r="1.05" fill="#2c7cbb"/>
<circle cx="440.15" cy="109.53" r="1.05" fill="#2c7cbb" stroke="#fff" stroke-width="0.3"/>
<circle cx="450.44" cy="115.3" r="1.05" fill="#2c7cbb"/>
<circle cx="448.43" cy="112.14" r="1.05" fill="#2c7cbb"/>
<circle cx="453.78" cy="113.08" r="1.05" fill="#2c7cbb"/>
<circle cx="446.28" cy="108.27" r="1.05" fill="#2c7cbb" stroke="#fff" stroke-width="0.3"/>
<circle cx="451.76" cy="114.06" r="1.05" fill="#2c7cbb"/>
<circle cx="445.75" cy="113.83" r="1.05" fill="#2c7cbb"/>
<circle cx="438.14" cy="110.29" r="1.05" fill="#2c7cbb" stroke="#fff" stroke-width="0.3"/>
<circle cx="447.08" cy="109.73" r="1.05" fill="#2c7cbb" stroke="#fff" stroke-width="0.3"/>
<circle cx="437.56" cy="113.24" r="1.05" fill="#2c7cbb"/>
<circle cx="453.54" cy="108.73" r="1.05" fill="#2c7cbb" stroke="#fff" stroke-width="0.3"/>
<circle cx="454.88" cy="112.53" r="1.05" fill="#2c7cbb"/>
<circle cx="439.55" cy="113.03" r="1.05" fill="#2c7cbb"/>
<circle cx="437.85" cy="111.49" r="1.05" fill="#2c7cbb" stroke="#fff" stroke-width="0.3"/>
<circle cx="446.68" cy="116.35" r="1.05" fill="#2c7cbb"/>
<circle cx="432.66" cy="118.93" r="1.05" fill="#2c7cbb"/>
<circle cx="455.76" cy="113.16" r="1.05" fill="#2c7cbb"/>
<circle cx="448.23" cy="119.17" r="1.05" fill="#2c7cbb"/>
<circle cx="451.79" cy="110.36" r="1.05" fill="#2c7cbb"/>
<circle cx="450.82" cy="115.14" r="1.05" fill="#2c7cbb"/>
<circle cx="454.01" cy="115.44" r="1.05" fill="#2c7cbb"/>
<circle cx="444.82" cy="109.77" r="1.05" fill="#2c7cbb" stroke="#fff" stroke-width="0.3"/>
<circle cx="432.73" cy="117.94" r="1.05" fill="#2c7cbb"/>
<circle cx="446.13" cy="117.66" r="1.05" fill="#2c7cbb"/>
<circle cx="436.98" cy="116.51" r="1.05" fill="#2c7cbb"/>
<circle cx="438.7" cy="110.79" r="1.05" fill="#2c7cbb" stroke="#fff" stroke-width="0.3"/>
<circle cx="448.19" cy="117.3" r="1.05" fill="#2c7cbb"/>
<circle cx="454.37" cy="108.02" r="1.05" fill="#2c7cbb" stroke="#fff" stroke-width="0.3"/>
<circle cx="449.37" cy="116.58" r="1.05" fill="#2c7cbb"/>
<circle cx="454.13" cy="118.93" r="1.05" fill="#2c7cbb"/>
<circle cx="439.99" cy="118.91" r="1.05" fill="#2c7cbb"/>
<circle cx="443.13" cy="118.46" r="1.05" fill="#2c7cbb"/>
<circle cx="438.98" cy="110.02" r="1.05" fill="#2c7cbb" stroke="#fff" stroke-width="0.3"/>
<circle cx="452.65" cy="108.28" r="1.05" fill="#2c7cbb" stroke="#fff" stroke-width="0.3"/>
<circle cx="432.24" cy="119.39" r="1.05" fill="#2c7cbb"/>
<circle cx="452.64" cy="110.83" r="1.05" fill="#2c7cbb"/>
<circle cx="448.93" cy="115.33" r="1.05" fill="#2c7cbb"/>
<circle cx="453.1" cy="114.89" r="1.05" fill="#2c7cbb"/>
<circle cx="443.43" cy="116.69" r="1.05" fill="#2c7cbb"/>
<circle cx="436.5" cy="119.4" r="1.05" fill="#2c7cbb"/>
<circle cx="445.38" cy="116.25" r="1.05" fill="#2c7cbb"/>
<circle cx="452.2" cy="113.42" r="1.05" fill="#2c7cbb"/>
<circle cx="448.13" cy="109.7" r="1.05" fill="#2c7cbb" stroke="#fff" stroke-width="0.3"/>
<circle cx="436.32" cy="113.87" r="1.05" fill="#2c7cbb"/>
<circle cx="445.64" cy="114.72" r="1.05" fill="#2c7cbb"/>
<circle cx="456.29" cy="113.42" r="1.05" fill="#2c7cbb"/>
<circle cx="438.47" cy="111.09" r="1.05" fill="#2c7cbb" stroke="#fff" stroke-width="0.3"/>
<circle cx="452.56" cy="111.44" r="1.05" fill="#2c7cbb"/>
<circle cx="434.64" cy="112.65" r="1.05" fill="#2c7cbb" stroke="#fff" stroke-width="0.3"/>
<circle cx="449.9" cy="109.82" r="1.05" fill="#2c7cbb" stroke="#fff" stroke-width="0.3"/>
<circle cx="441.8" cy="115.24" r="1.05" fill="#2c7cbb"/>
<circle cx="433" cy="112.87" r="1.05" fill="#2c7cbb" stroke="#fff" stroke-width="0.3"/>
<circle cx="434.54" cy="118.95" r="1.05" fill="#2c7cbb"/>
<circle cx="455.55" cy="112.44" r="1.05" fill="#2c7cbb"/>
<circle cx="448.76" cy="112.79" r="1.05" fill="#2c7cbb"/>
<circle cx="437.16" cy="118.86" r="1.05" fill="#2c7cbb"/>
<circle cx="450.48" cy="114.46" r="1.05" fill="#2c7cbb"/>
<circle cx="455.83" cy="118.1" r="1.05" fill="#2c7cbb"/>
<circle cx="446.05" cy="110" r="1.05" fill="#2c7cbb" stroke="#fff" stroke-width="0.3"/>
<circle cx="452.21" cy="111.94" r="1.05" fill="#2c7cbb"/>
<circle cx="441.95" cy="109.75" r="1.05" fill="#2c7cbb" stroke="#fff" stroke-width="0.3"/>
<circle cx="453.99" cy="112.44" r="1.05" fill="#2c7cbb"/>
<circle cx="445" cy="111.9" r="1.05" fill="#2c7cbb"/>
<circle cx="435.41" cy="114.13" r="1.05" fill="#2c7cbb"/>
<circle cx="431.46" cy="114.47" r="1.05" fill="#2c7cbb"/>
<circle cx="455.19" cy="112.25" r="1.05" fill="#2c7cbb"/>
<circle cx="446.58" cy="116.2" r="1.05" fill="#2c7cbb"/>
<circle cx="445.3" cy="110.69" r="1.05" fill="#2c7cbb" stroke="#fff" stroke-width="0.3"/>
<circle cx="453.77" cy="109.12" r="1.05" fill="#2c7cbb" stroke="#fff" stroke-width="0.3"/>
<circle cx="434.92" cy="119.3" r="1.05" fill="#2c7cbb"/>
<circle cx="442.21" cy="109.03" r="1.05" fill="#2c7cbb" stroke="#fff" stroke-width="0.3"/>
<circle cx="436.46" cy="112.37" r="1.05" fill="#2c7cbb" stroke="#fff" stroke-width="0.3"/>
<circle cx="446.54" cy="111.72" r="1.05" fill="#2c7cbb"/>
<circle cx="455.36" cy="118.97" r="1.05" fill="#2c7cbb"/>
<circle cx="442.03" cy="116.79" r="1.05" fill="#2c7cbb"/>
<circle cx="443.38" cy="117.42" r="1.05" fill="#2c7cbb"/>
<circle cx="448.81" cy="115.9" r="1.05" fill="#2c7cbb"/>
<circle cx="454.81" cy="110.74" r="1.05" fill="#2c7cbb"/>
<circle cx="434.51" cy="117.67" r="1.05" fill="#2c7cbb"/>
<circle cx="452.16" cy="110.4" r="1.05" fill="#2c7cbb" stroke="#fff" stroke-width="0.3"/>
<circle cx="449.29" cy="114.54" r="1.05" fill="#2c7cbb"/>
<circle cx="443.58" cy="113.85" r="1.05" fill="#2c7cbb"/>
<circle cx="442.7" cy="115.25" r="1.05" fill="#2c7cbb"/>
<circle cx="453.98" cy="106.71" r="1.05" fill="#2c7cbb" stroke="#fff" stroke-width="0.3"/>
<circle cx="455.58" cy="115.23" r="1.05" fill="#2c7cbb"/>
<circle cx="445.4" cy="108.33" r="1.05" fill="#2c7cbb" stroke="#fff" stroke-width="0.3"/>
<circle cx="442.92" cy="113.91" r="1.05" fill="#2c7cbb"/>
<circle cx="449.31" cy="117.06" r="1.05" fill="#2c7cbb"/>
<circle cx="453.28" cy="118.52" r="1.05" fill="#2c7cbb"/>
<circle cx="449.76" cy="113.43" r="1.05" fill="#2c7cbb"/>
<circle cx="454.92" cy="111.45" r="1.05" fill="#2c7cbb"/>
<circle cx="455.18" cy="118.87" r="1.05" fill="#2c7cbb"/>
<circle cx="439.79" cy="118.06" r="1.05" fill="#2c7cbb"/>
<circle cx="430.51" cy="119.36" r="1.05" fill="#2c7cbb"/>
<circle cx="453.1" cy="118.93" r="1.05" fill="#2c7cbb"/>
<circle cx="453.33" cy="111.69" r="1.05" fill="#2c7cbb"/>
<circle cx="451.4" cy="115.8" r="1.05" fill="#2c7cbb"/>
<circle cx="432.51" cy="118.12" r="1.05" fill="#2c7cbb"/>
<circle cx="455.15" cy="117.35" r="1.05" fill="#2c7cbb"/>
<circle cx="443.87" cy="115.17" r="1.05" fill="#2c7cbb"/>
<circle cx="444.74" cy="113.45" r="1.05" fill="#2c7cbb"/>
<circle cx="453.41" cy="111.51" r="1.05" fill="#2c7cbb"/>
<circle cx="438.51" cy="119.45" r="1.05" fill="#2c7cbb"/>
<circle cx="455.85" cy="111.87" r="1.05" fill="#2c7cbb"/>
<circle cx="432.62" cy="118.6" r="1.05" fill="#2c7cbb"/>
<circle cx="449.94" cy="110.3" r="1.05" fill="#2c7cbb"/>
<circle cx="450.26" cy="119.01" r="1.05" fill="#2c7cbb"/>
<circle cx="437.36" cy="112.77" r="1.05" fill="#2c7cbb"/>
<circle cx="434.53" cy="114.02" r="1.05" fill="#2c7cbb"/>
<circle cx="452.26" cy="108.41" r="1.05" fill="#2c7cbb" stroke="#fff" stroke-width="0.3"/>
<circle cx="446.81" cy="118.1" r="1.05" fill="#2c7cbb"/>
<circle cx="455.08" cy="114.81" r="1.05" fill="#2c7cbb"/>
<circle cx="435.61" cy="111.56" r="1.05" fill="#2c7cbb" stroke="#fff" stroke-width="0.3"/>
<circle cx="437.08" cy="110.64" r="1.05" fill="#2c7cbb" stroke="#fff" stroke-width="0.3"/>
<circle cx="446.2" cy="111.29" r="1.05" fill="#2c7cbb"/>
<circle cx="449.81" cy="112.18" r="1.05" fill="#2c7cbb"/>
<circle cx="450.44" cy="118.73" r="1.05" fill="#2c7cbb"/>
<circle cx="448.06" cy="115.89" r="1.05" fill="#2c7cbb"/>
<circle cx="445.78" cy="117.16" r="1.05" fill="#2c7cbb"/>
<circle cx="437.32" cy="117.18" r="1.05" fill="#2c7cbb"/>
<circle cx="432.51" cy="114.63" r="1.05" fill="#2c7cbb"/>
<circle cx="452.28" cy="116.95" r="1.05" fill="#2c7cbb"/>
<circle cx="456.07" cy="119.53" r="1.05" fill="#2c7cbb"/>
<circle cx="438.31" cy="116.95" r="1.05" fill="#2c7cbb"/>
<circle cx="455.91" cy="111.22" r="1.05" fill="#2c7cbb"/>
<circle cx="448.71" cy="116.51" r="1.05" fill="#2c7cbb"/>
<circle cx="452.83" cy="107.33" r="1.05" fill="#2c7cbb" stroke="#fff" stroke-width="0.3"/>
<circle cx="436.22" cy="116.82" r="1.05" fill="#2c7cbb"/>
<circle cx="449.78" cy="113.5" r="1.05" fill="#2c7cbb"/>
<circle cx="440.6" cy="117.97" r="1.05" fill="#2c7cbb"/>
<circle cx="449.5" cy="111.49" r="1.05" fill="#2c7cbb"/>
<circle cx="430.45" cy="116.95" r="1.05" fill="#2c7cbb"/>
<circle cx="449.1" cy="112.07" r="1.05" fill="#2c7cbb"/>
<circle cx="454.88" cy="106.9" r="1.05" fill="#2c7cbb" stroke="#fff" stroke-width="0.3"/>
<circle cx="432.14" cy="119.29" r="1.05" fill="#2c7cbb"/>
<circle cx="449.24" cy="112.39" r="1.05" fill="#2c7cbb"/>
<circle cx="442.31" cy="115.44" r="1.05" fill="#2c7cbb"/>
<circle cx="446.71" cy="119.21" r="1.05" fill="#2c7cbb"/>
<circle cx="431.22" cy="116.06" r="1.05" fill="#2c7cbb"/>
<circle cx="445.69" cy="109.34" r="1.05" fill="#2c7cbb" stroke="#fff" stroke-width="0.3"/>
<circle cx="432.73" cy="114.73" r="1.05" fill="#2c7cbb"/>
<circle cx="446.51" cy="112.15" r="1.05" fill="#2c7cbb"/>
<circle cx="447.56" cy="110.7" r="1.05" fill="#2c7cbb" stroke="#fff" stroke-width="0.3"/>
<circle cx="452.21" cy="111.28" r="1.05" fill="#2c7cbb"/>
<circle cx="438.94" cy="119.44" r="1.05" fill="#2c7cbb"/>
<circle cx="455.15" cy="112.89" r="1.05" fill="#2c7cbb"/>
<circle cx="442.33" cy="118.89" r="1.05" fill="#2c7cbb"/>
<circle cx="445.78" cy="111.08" r="1.05" fill="#2c7cbb" stroke="#fff" stroke-width="0.3"/>
<circle cx="454.05" cy="113.59" r="1.05" fill="#2c7cbb"/>
<circle cx="448.06" cy="109.04" r="1.05" fill="#2c7cbb" stroke="#fff" stroke-width="0.3"/>
<circle cx="445.87" cy="114.59" r="1.05" fill="#2c7cbb"/>
<circle cx="450.63" cy="114.88" r="1.05" fill="#2c7cbb"/>
<circle cx="446.31" cy="118.54" r="1.05" fill="#2c7cbb"/>
<circle cx="453.32" cy="117.57" r="1.05" fill="#2c7cbb"/>
<circle cx="440.86" cy="113.26" r="1.05" fill="#2c7cbb"/>
<circle cx="448.19" cy="114.74" r="1.05" fill="#2c7cbb"/>
<circle cx="453.37" cy="116.76" r="1.05" fill="#2c7cbb"/>
<circle cx="453.26" cy="113.24" r="1.05" fill="#2c7cbb"/>
<circle cx="433.15" cy="113.01" r="1.05" fill="#2c7cbb"/>
<circle cx="442.06" cy="117.21" r="1.05" fill="#2c7cbb"/>
<circle cx="450.21" cy="111.64" r="1.05" fill="#2c7cbb"/>
<circle cx="454.59" cy="115.16" r="1.05" fill="#2c7cbb"/>
<circle cx="450.43" cy="118.12" r="1.05" fill="#2c7cbb"/>
<circle cx="446.99" cy="113.48" r="1.05" fill="#2c7cbb"/>
<circle cx="454.54" cy="118.95" r="1.05" fill="#2c7cbb"/>
<circle cx="449.51" cy="113.4" r="1.05" fill="#2c7cbb"/>
<circle cx="454.09" cy="116.82" r="1.05" fill="#2c7cbb"/>
<circle cx="435.31" cy="111.76" r="1.05" fill="#2c7cbb" stroke="#fff" stroke-width="0.3"/>
<circle cx="445.86" cy="115.55" r="1.05" fill="#2c7cbb"/>
<circle cx="441.18" cy="119.11" r="1.05" fill="#2c7cbb"/>
<circle cx="445.82" cy="117.8" r="1.05" fill="#2c7cbb"/>
<circle cx="436.62" cy="117.37" r="1.05" fill="#2c7cbb"/>
<circle cx="449.93" cy="115.4" r="1.05" fill="#2c7cbb"/>
<circle cx="449.45" cy="109.63" r="1.05" fill="#2c7cbb" stroke="#fff" stroke-width="0.3"/>
<circle cx="440.78" cy="112.3" r="1.05" fill="#2c7cbb"/>
<circle cx="451.27" cy="118.29" r="1.05" fill="#2c7cbb"/>
<circle cx="451.67" cy="113.06" r="1.05" fill="#2c7cbb"/>
<circle cx="455.15" cy="114.78" r="1.05" fill="#2c7cbb"/>
<circle cx="443.75" cy="112.52" r="1.05" fill="#2c7cbb"/>
<circle cx="448.35" cy="111.73" r="1.05" fill="#2c7cbb"/>
<circle cx="431.24" cy="114.49" r="1.05" fill="#2c7cbb"/>
<circle cx="436.79" cy="115.96" r="1.05" fill="#2c7cbb"/>
<circle cx="437.15" cy="116.19" r="1.05" fill="#2c7cbb"/>
<circle cx="446.36" cy="115.08" r="1.05" fill="#2c7cbb"/>
<circle cx="445.19" cy="109.23" r="1.05" fill="#2c7cbb" stroke="#fff" stroke-width="0.3"/>
<circle cx="447.41" cy="114.5" r="1.05" fill="#2c7cbb"/>
<circle cx="438.49" cy="117.16" r="1.05" fill="#2c7cbb"/>
<circle cx="432.21" cy="113.99" r="1.05" fill="#2c7cbb"/>
<circle cx="453.04" cy="118.01" r="1.05" fill="#2c7cbb"/>
<circle cx="446.62" cy="108.17" r="1.05" fill="#2c7cbb" stroke="#fff" stroke-width="0.3"/>
<circle cx="436.33" cy="113" r="1.05" fill="#2c7cbb"/>
<circle cx="453.04" cy="114.93" r="1.05" fill="#2c7cbb"/>
<circle cx="446.78" cy="116.96" r="1.05" fill="#2c7cbb"/>
<circle cx="440.89" cy="116.63" r="1.05" fill="#2c7cbb"/>
<circle cx="441.82" cy="110.86" r="1.05" fill="#2c7cbb" stroke="#fff" stroke-width="0.3"/>
<circle cx="434.64" cy="118.59" r="1.05" fill="#2c7cbb"/>
<circle cx="450.75" cy="111.67" r="1.05" fill="#2c7cbb"/>
<circle cx="441.66" cy="113.1" r="1.05" fill="#2c7cbb"/>
<circle cx="453.54" cy="114.92" r="1.05" fill="#2c7cbb"/>
<circle cx="441.43" cy="110.29" r="1.05" fill="#2c7cbb" stroke="#fff" stroke-width="0.3"/>
<circle cx="438.26" cy="118.36" r="1.05" fill="#2c7cbb"/>
<circle cx="445.18" cy="118.36" r="1.05" fill="#2c7cbb"/>
<circle cx="440.52" cy="117.93" r="1.05" fill="#2c7cbb"/>
<circle cx="449.23" cy="112" r="1.05" fill="#2c7cbb"/>
<circle cx="439.54" cy="113.15" r="1.05" fill="#2c7cbb"/>
<circle cx="451.62" cy="109.39" r="1.05" fill="#2c7cbb" stroke="#fff" stroke-width="0.3"/>
<circle cx="449.37" cy="114.14" r="1.05" fill="#2c7cbb"/>
<circle cx="445.67" cy="110.72" r="1.05" fill="#2c7cbb" stroke="#fff" stroke-width="0.3"/>
<circle cx="439.8" cy="111.29" r="1.05" fill="#2c7cbb" stroke="#fff" stroke-width="0.3"/>
<circle cx="433.4" cy="119.19" r="1.05" fill="#2c7cbb"/>
<circle cx="455.22" cy="115.5" r="1.05" fill="#2c7cbb"/>
<circle cx="448.58" cy="113.47" r="1.05" fill="#2c7cbb"/>
<circle cx="453.01" cy="115.21" r="1.05" fill="#2c7cbb"/>
<circle cx="438.65" cy="111.87" r="1.05" fill="#2c7cbb" stroke="#fff" stroke-width="0.3"/>
<circle cx="444.19" cy="118.44" r="1.05" fill="#2c7cbb"/>
<circle cx="448.92" cy="109.5" r="1.05" fill="#2c7cbb" stroke="#fff" stroke-width="0.3"/>
<circle cx="452.88" cy="110.83" r="1.05" fill="#2c7cbb"/>
<circle cx="449.4" cy="113.5" r="1.05" fill="#2c7cbb"/>
<circle cx="447.62" cy="118.15" r="1.05" fill="#2c7cbb"/>
<circle cx="434.8" cy="115.28" r="1.05" fill="#2c7cbb"/>
<circle cx="455.43" cy="119.5" r="1.05" fill="#2c7cbb"/>
<circle cx="451.15" cy="117.47" r="1.05" fill="#2c7cbb"/>
<circle cx="447.63" cy="106.79" r="1.05" fill="#2c7cbb" stroke="#fff" stroke-width="0.3"/>
<circle cx="449.78" cy="108.86" r="1.05" fill="#2c7cbb" stroke="#fff" stroke-width="0.3"/>
<circle cx="454.98" cy="117.39" r="1.05" fill="#2c7cbb"/>
<circle cx="453.64" cy="107.66" r="1.05" fill="#2c7cbb" stroke="#fff" stroke-width="0.3"/>
<circle cx="451.26" cy="117.88" r="1.05" fill="#2c7cbb"/>
<circle cx="455.49" cy="110.14" r="1.05" fill="#2c7cbb"/>
<circle cx="441.38" cy="114.89" r="1.05" fill="#2c7cbb"/>
<circle cx="446.57" cy="113.75" r="1.05" fill="#2c7cbb"/>
<circle cx="454.33" cy="110.25" r="1.05" fill="#2c7cbb"/>
<circle cx="444.71" cy="117.8" r="1.05" fill="#2c7cbb"/>
<circle cx="439.88" cy="115.93" r="1.05" fill="#2c7cbb"/>
<circle cx="431.64" cy="116.68" r="1.05" fill="#2c7cbb"/>
<circle cx="454.98" cy="115.41" r="1.05" fill="#2c7cbb"/>
<circle cx="454.14" cy="115.48" r="1.05" fill="#2c7cbb"/>
<circle cx="445.34" cy="109.28" r="1.05" fill="#2c7cbb" stroke="#fff" stroke-width="0.3"/>
<circle cx="454.14" cy="119.34" r="1.05" fill="#2c7cbb"/>
<circle cx="451.96" cy="116.53" r="1.05" fill="#2c7cbb"/>
<circle cx="455.23" cy="117.07" r="1.05" fill="#2c7cbb"/>
<circle cx="450.13" cy="109.92" r="1.05" fill="#2c7cbb" stroke="#fff" stroke-width="0.3"/>
<circle cx="441.63" cy="115.73" r="1.05" fill="#2c7cbb"/>
<circle cx="452.15" cy="109.18" r="1.05" fill="#2c7cbb" stroke="#fff" stroke-width="0.3"/>
<circle cx="451.24" cy="107.53" r="1.05" fill="#2c7cbb" stroke="#fff" stroke-width="0.3"/>
<circle cx="432.71" cy="118.32" r="1.05" fill="#2c7cbb"/>
<circle cx="450.13" cy="116.92" r="1.05" fill="#2c7cbb"/>
<circle cx="449.96" cy="113.77" r="1.05" fill="#2c7cbb"/>
<circle cx="450.26" cy="110.65" r="1.05" fill="#2c7cbb" stroke="#fff" stroke-width="0.3"/>
<circle cx="453.58" cy="108.24" r="1.05" fill="#2c7cbb" stroke="#fff" stroke-width="0.3"/>
<circle cx="448.26" cy="115.72" r="1.05" fill="#2c7cbb"/>
<circle cx="453.67" cy="107.24" r="1.05" fill="#2c7cbb" stroke="#fff" stroke-width="0.3"/>
<circle cx="454.64" cy="116.34" r="1.05" fill="#2c7cbb"/>
<circle cx="452.72" cy="115.1" r="1.05" fill="#2c7cbb"/>
<circle cx="431.2" cy="119.21" r="1.05" fill="#2c7cbb"/>
<circle cx="446.3" cy="112.41" r="1.05" fill="#2c7cbb"/>
<circle cx="453.33" cy="115.16" r="1.05" fill="#2c7cbb"/>
<circle cx="450.42" cy="118.86" r="1.05" fill="#2c7cbb"/>
<circle cx="437.5" cy="118.5" r="1.05" fill="#2c7cbb"/>
<circle cx="442.4" cy="119.32" r="1.05" fill="#2c7cbb"/>
<circle cx="450.62" cy="114.84" r="1.05" fill="#2c7cbb"/>
<circle cx="454.07" cy="118.22" r="1.05" fill="#2c7cbb"/>
<circle cx="455.96" cy="112.28" r="1.05" fill="#2c7cbb"/>
<circle cx="446.73" cy="113.1" r="1.05" fill="#2c7cbb"/>
<circle cx="441.97" cy="110.45" r="1.05" fill="#2c7cbb" stroke="#fff" stroke-width="0.3"/>
<circle cx="453.98" cy="113.51" r="1.05" fill="#2c7cbb"/>
<circle cx="441.01" cy="113.47" r="1.05" fill="#2c7cbb"/>
<circle cx="447.72" cy="118.86" r="1.05" fill="#2c7cbb"/>
<circle cx="437.77" cy="113.88" r="1.05" fill="#2c7cbb"/>
<circle cx="453.56" cy="113.34" r="1.05" fill="#2c7cbb"/>
<circle cx="454.53" cy="107.16" r="1.05" fill="#2c7cbb" stroke="#fff" stroke-width="0.3"/>
<circle cx="444.61" cy="117.82" r="1.05" fill="#2c7cbb"/>
<circle cx="439.49" cy="116.51" r="1.05" fill="#2c7cbb"/>
<circle cx="455.17" cy="119.45" r="1.05" fill="#2c7cbb"/>
<circle cx="449.17" cy="108.07" r="1.05" fill="#2c7cbb" stroke="#fff" stroke-width="0.3"/>
<circle cx="455.66" cy="110.28" r="1.05" fill="#2c7cbb"/>
<circle cx="452.12" cy="118.75" r="1.05" fill="#2c7cbb"/>
<circle cx="453.66" cy="113.28" r="1.05" fill="#2c7cbb"/>
<circle cx="432.3" cy="113.35" r="1.05" fill="#2c7cbb"/>
<circle cx="455.85" cy="117.92" r="1.05" fill="#2c7cbb"/>
<circle cx="454.06" cy="118.11" r="1.05" fill="#2c7cbb"/>
<circle cx="440.51" cy="114.68" r="1.05" fill="#2c7cbb"/>
<circle cx="441.03" cy="113.28" r="1.05" fill="#2c7cbb"/>
<circle cx="435.81" cy="112.58" r="1.05" fill="#2c7cbb" stroke="#fff" stroke-width="0.3"/>
<circle cx="436.06" cy="115.63" r="1.05" fill="#2c7cbb"/>
<circle cx="446.9" cy="111.74" r="1.05" fill="#2c7cbb"/>
<circle cx="456.1" cy="115.46" r="1.05" fill="#2c7cbb"/>
<circle cx="431.94" cy="118.11" r="1.05" fill="#2c7cbb"/>
<circle cx="454.69" cy="116.45" r="1.05" fill="#2c7cbb"/>
<circle cx="450.6" cy="107.82" r="1.05" fill="#2c7cbb" stroke="#fff" stroke-width="0.3"/>
<circle cx="432.25" cy="112.8" r="1.05" fill="#2c7cbb" stroke="#fff" stroke-width="0.3"/>
<circle cx="453.78" cy="110.19" r="1.05" fill="#2c7cbb"/>
<circle cx="455.97" cy="112.89" r="1.05" fill="#2c7cbb"/>
<circle cx="443.59" cy="111.91" r="1.05" fill="#2c7cbb"/>
<circle cx="446.65" cy="117.67" r="1.05" fill="#2c7cbb"/>
<circle cx="438.65" cy="117.52" r="1.05" fill="#2c7cbb"/>
<circle cx="455.26" cy="107.14" r="1.05" fill="#2c7cbb" stroke="#fff" stroke-width="0.3"/>
<circle cx="445.42" cy="109.47" r="1.05" fill="#2c7cbb" stroke="#fff" stroke-width="0.3"/>
<circle cx="439.42" cy="118.81" r="1.05" fill="#2c7cbb"/>
<circle cx="446.19" cy="118.99" r="1.05" fill="#2c7cbb"/>
<circle cx="449.1" cy="113.17" r="1.05" fill="#2c7cbb"/>
<circle cx="439.38" cy="109.8" r="1.05" fill="#2c7cbb" stroke="#fff" stroke-width="0.3"/>
<circle cx="449.42" cy="110.48" r="1.05" fill="#2c7cbb"/>
<circle cx="442.66" cy="112.41" r="1.05" fill="#2c7cbb"/>
<circle cx="453.64" cy="110.09" r="1.05" fill="#2c7cbb"/>
<circle cx="449.51" cy="113.65" r="1.05" fill="#2c7cbb"/>
<circle cx="454.68" cy="112.38" r="1.05" fill="#2c7cbb"/>
<circle cx="456.08" cy="116.65" r="1.05" fill="#2c7cbb"/>
<circle cx="448.91" cy="110.46" r="1.05" fill="#2c7cbb" stroke="#fff" stroke-width="0.3"/>
<circle cx="455.38" cy="108.21" r="1.05" fill="#2c7cbb" stroke="#fff" stroke-width="0.3"/>
<circle cx="454.43" cy="109.99" r="1.05" fill="#2c7cbb" stroke="#fff" stroke-width="0.3"/>
<circle cx="450.58" cy="118.61" r="1.05" fill="#2c7cbb"/>
<circle cx="448.85" cy="118.84" r="1.05" fill="#2c7cbb"/>
<circle cx="443.29" cy="112.62" r="1.05" fill="#2c7cbb"/>
<circle cx="448.18" cy="107.01" r="1.05" fill="#2c7cbb" stroke="#fff" stroke-width="0.3"/>
<circle cx="444.86" cy="119.36" r="1.05" fill="#2c7cbb"/>
<circle cx="455.61" cy="111.21" r="1.05" fill="#2c7cbb"/>
<circle cx="448.83" cy="119.48" r="1.05" fill="#2c7cbb"/>
<circle cx="449.95" cy="111.39" r="1.05" fill="#2c7cbb"/>
<circle cx="439.46" cy="111.92" r="1.05" fill="#2c7cbb" stroke="#fff" stroke-width="0.3"/>
<circle cx="445.1" cy="113.93" r="1.05" fill="#2c7cbb"/>
<circle cx="455.08" cy="115.29" r="1.05" fill="#2c7cbb"/>
<circle cx="455.38" cy="106.59" r="1.05" fill="#2c7cbb" stroke="#fff" stroke-width="0.3"/>
<circle cx="453.87" cy="118.27" r="1.05" fill="#2c7cbb"/>
<circle cx="440.1" cy="118.28" r="1.05" fill="#2c7cbb"/>
<circle cx="440.66" cy="115.16" r="1.05" fill="#2c7cbb"/>
<circle cx="441.14" cy="117.48" r="1.05" fill="#2c7cbb"/>
<circle cx="432.23" cy="117.97" r="1.05" fill="#2c7cbb"/>
<circle cx="437.59" cy="111.38" r="1.05" fill="#2c7cbb" stroke="#fff" stroke-width="0.3"/>
<circle cx="442.6" cy="113.71" r="1.05" fill="#2c7cbb"/>
<circle cx="443.85" cy="118.78" r="1.05" fill="#2c7cbb"/>
<circle cx="437.14" cy="112.26" r="1.05" fill="#2c7cbb" stroke="#fff" stroke-width="0.3"/>
<circle cx="452.09" cy="108.23" r="1.05" fill="#2c7cbb" stroke="#fff" stroke-width="0.3"/>
<circle cx="443.07" cy="118.91" r="1.05" fill="#2c7cbb"/>
<circle cx="449.56" cy="108.58" r="1.05" fill="#2c7cbb" stroke="#fff" stroke-width="0.3"/>
<circle cx="455.37" cy="112.14" r="1.05" fill="#2c7cbb"/>
<circle cx="450.33" cy="111.65" r="1.05" fill="#2c7cbb"/>
<circle cx="455.48" cy="112.88" r="1.05" fill="#2c7cbb"/>
<circle cx="455.81" cy="114.52" r="1.05" fill="#2c7cbb"/>
<circle cx="447.45" cy="116.15" r="1.05" fill="#2c7cbb"/>
<circle cx="437.62" cy="114" r="1.05" fill="#2c7cbb"/>
<circle cx="447.33" cy="107.74" r="1.05" fill="#2c7cbb" stroke="#fff" stroke-width="0.3"/>
<circle cx="438.43" cy="117.15" r="1.05" fill="#2c7cbb"/>
<circle cx="441.33" cy="118.59" r="1.05" fill="#2c7cbb"/>
<circle cx="452.12" cy="107.15" r="1.05" fill="#2c7cbb" stroke="#fff" stroke-width="0.3"/>
<circle cx="448.74" cy="112.66" r="1.05" fill="#2c7cbb"/>
<circle cx="450.78" cy="118.75" r="1.05" fill="#2c7cbb"/>
<circle cx="454.16" cy="108.85" r="1.05" fill="#2c7cbb" stroke="#fff" stroke-width="0.3"/>
<circle cx="454" cy="110.4" r="1.05" fill="#2c7cbb"/>
<circle cx="443.61" cy="108.86" r="1.05" fill="#2c7cbb" stroke="#fff" stroke-width="0.3"/>
<circle cx="455.51" cy="118.02" r="1.05" fill="#2c7cbb"/>
<circle cx="453.56" cy="109.47" r="1.05" fill="#2c7cbb" stroke="#fff" stroke-width="0.3"/>
<circle cx="447.5" cy="114.14" r="1.05" fill="#2c7cbb"/>
<circle cx="454.96" cy="107.94" r="1.05" fill="#2c7cbb" stroke="#fff" stroke-width="0.3"/>
<circle cx="450.19" cy="114.75" r="1.05" fill="#2c7cbb"/>
<circle cx="447.92" cy="109.73" r="1.05" fill="#2c7cbb" stroke="#fff" stroke-width="0.3"/>
<circle cx="453.18" cy="117.41" r="1.05" fill="#2c7cbb"/>
<circle cx="445.93" cy="111.79" r="1.05" fill="#2c7cbb"/>
<circle cx="454.35" cy="115.68" r="1.05" fill="#2c7cbb"/>
<circle cx="435.44" cy="118.33" r="1.05" fill="#2c7cbb"/>
<circle cx="442.75" cy="114.84" r="1.05" fill="#2c7cbb"/>
<circle cx="447.76" cy="108.74" r="1.05" fill="#2c7cbb" stroke="#fff" stroke-width="0.3"/>
<circle cx="453.61" cy="118.2" r="1.05" fill="#2c7cbb"/>
<circle cx="445.85" cy="108.67" r="1.05" fill="#2c7cbb" stroke="#fff" stroke-width="0.3"/>
<circle cx="448.33" cy="116.51" r="1.05" fill="#2c7cbb"/>
<circle cx="448.01" cy="116.35" r="1.05" fill="#2c7cbb"/>
<circle cx="455.44" cy="107.59" r="1.05" fill="#2c7cbb" stroke="#fff" stroke-width="0.3"/>
<circle cx="441.86" cy="113.68" r="1.05" fill="#2c7cbb"/>
<circle cx="439.4" cy="110.58" r="1.05" fill="#2c7cbb" stroke="#fff" stroke-width="0.3"/>
<circle cx="437.43" cy="119.16" r="1.05" fill="#2c7cbb"/>
<circle cx="453.72" cy="114.89" r="1.05" fill="#2c7cbb"/>
<circle cx="441.13" cy="113.05" r="1.05" fill="#2c7cbb"/>
<circle cx="452.91" cy="118.28" r="1.05" fill="#2c7cbb"/>
<circle cx="445.84" cy="109.49" r="1.05" fill="#2c7cbb" stroke="#fff" stroke-width="0.3"/>
<circle cx="451.56" cy="116.35" r="1.05" fill="#2c7cbb"/>
<circle cx="452.47" cy="109.2" r="1.05" fill="#2c7cbb" stroke="#fff" stroke-width="0.3"/>
<circle cx="444.36" cy="113.19" r="1.05" fill="#2c7cbb"/>
<circle cx="441.23" cy="117.18" r="1.05" fill="#2c7cbb"/>
<circle cx="442.43" cy="116.43" r="1.05" fill="#2c7cbb"/>
<circle cx="451.2" cy="118.37" r="1.05" fill="#2c7cbb"/>
<circle cx="453.45" cy="117.97" r="1.05" fill="#2c7cbb"/>
<circle cx="454.67" cy="108.46" r="1.05" fill="#2c7cbb" stroke="#fff" stroke-width="0.3"/>
<circle cx="433.35" cy="118.28" r="1.05" fill="#2c7cbb"/>
<circle cx="437.26" cy="111.08" r="1.05" fill="#2c7cbb" stroke="#fff" stroke-width="0.3"/>
<circle cx="431.75" cy="114.1" r="1.05" fill="#2c7cbb"/>
<circle cx="451.28" cy="111.15" r="1.05" fill="#2c7cbb"/>
<circle cx="433.09" cy="115.2" r="1.05" fill="#2c7cbb"/>
<circle cx="455.57" cy="109.08" r="1.05" fill="#2c7cbb" stroke="#fff" stroke-width="0.3"/>
<circle cx="450.59" cy="117.66" r="1.05" fill="#2c7cbb"/>
<circle cx="449.63" cy="119.17" r="1.05" fill="#2c7cbb"/>
<circle cx="448.49" cy="113.16" r="1.05" fill="#2c7cbb"/>
<circle cx="439.21" cy="111.38" r="1.05" fill="#2c7cbb" stroke="#fff" stroke-width="0.3"/>
<circle cx="453.84" cy="115.03" r="1.05" fill="#2c7cbb"/>
<circle cx="450" cy="113.36" r="1.05" fill="#2c7cbb"/>
<circle cx="449.54" cy="115.76" r="1.05" fill="#2c7cbb"/>
<circle cx="438.11" cy="112.48" r="1.05" fill="#2c7cbb"/>
<circle cx="436.03" cy="111.7" r="1.05" fill="#2c7cbb" stroke="#fff" stroke-width="0.3"/>
<circle cx="446.05" cy="118.74" r="1.05" fill="#2c7cbb"/>
<circle cx="444.58" cy="117.8" r="1.05" fill="#2c7cbb"/>
<circle cx="452.71" cy="118.69" r="1.05" fill="#2c7cbb"/>
<circle cx="446.9" cy="109.02" r="1.05" fill="#2c7cbb" stroke="#fff" stroke-width="0.3"/>
<circle cx="451.13" cy="108.4" r="1.05" fill="#2c7cbb" stroke="#fff" stroke-width="0.3"/>
<circle cx="453.08" cy="109.24" r="1.05" fill="#2c7cbb" stroke="#fff" stroke-width="0.3"/>
<circle cx="455.06" cy="114.21" r="1.05" fill="#2c7cbb"/>
<circle cx="441.8" cy="118.86" r="1.05" fill="#2c7cbb"/>
<circle cx="431.63" cy="116.68" r="1.05" fill="#2c7cbb"/>
<circle cx="451.69" cy="111.58" r="1.05" fill="#2c7cbb"/>
<circle cx="450.56" cy="115.93" r="1.05" fill="#2c7cbb"/>
<circle cx="454.31" cy="111.9" r="1.05" fill="#2c7cbb"/>
<circle cx="454.14" cy="116.93" r="1.05" fill="#2c7cbb"/>
<circle cx="453.92" cy="108.52" r="1.05" fill="#2c7cbb" stroke="#fff" stroke-width="0.3"/>
<circle cx="449.58" cy="118.93" r="1.05" fill="#2c7cbb"/>
<circle cx="451.98" cy="114.2" r="1.05" fill="#2c7cbb"/>
<circle cx="454.44" cy="119.33" r="1.05" fill="#2c7cbb"/>
<circle cx="451.16" cy="108.17" r="1.05" fill="#2c7cbb" stroke="#fff" stroke-width="0.3"/>
<circle cx="449.58" cy="116.32" r="1.05" fill="#2c7cbb"/>
<circle cx="441.73" cy="116.52" r="1.05" fill="#2c7cbb"/>
<circle cx="447.29" cy="115.77" r="1.05" fill="#2c7cbb"/>
<circle cx="455.26" cy="110.68" r="1.05" fill="#2c7cbb"/>
<circle cx="435.47" cy="116.68" r="1.05" fill="#2c7cbb"/>
<circle cx="449.38" cy="111.1" r="1.05" fill="#2c7cbb"/>
<circle cx="432.55" cy="119.26" r="1.05" fill="#2c7cbb"/>
<circle cx="452.38" cy="116.38" r="1.05" fill="#2c7cbb"/>
<circle cx="450.33" cy="117.69" r="1.05" fill="#2c7cbb"/>
<circle cx="454.91" cy="107.37" r="1.05" fill="#2c7cbb" stroke="#fff" stroke-width="0.3"/>
<circle cx="446.59" cy="108.91" r="1.05" fill="#2c7cbb" stroke="#fff" stroke-width="0.3"/>
<circle cx="437.06" cy="114" r="1.05" fill="#2c7cbb"/>
<circle cx="441.64" cy="116.06" r="1.05" fill="#2c7cbb"/>
<circle cx="449.26" cy="111.16" r="1.05" fill="#2c7cbb"/>
<circle cx="453.01" cy="110.14" r="1.05" fill="#2c7cbb"/>
<circle cx="437.98" cy="114.47" r="1.05" fill="#2c7cbb"/>
<circle cx="448.26" cy="111.63" r="1.05" fill="#2c7cbb"/>
<circle cx="450.56" cy="112.33" r="1.05" fill="#2c7cbb"/>
<circle cx="432.82" cy="116.38" r="1.05" fill="#2c7cbb"/>
<circle cx="444.43" cy="108.31" r="1.05" fill="#2c7cbb" stroke="#fff" stroke-width="0.3"/>
<circle cx="444.92" cy="113.29" r="1.05" fill="#2c7cbb"/>
<circle cx="448.37" cy="118.43" r="1.05" fill="#2c7cbb"/>
<circle cx="436.98" cy="117.74" r="1.05" fill="#2c7cbb"/>
<circle cx="431.65" cy="116.02" r="1.05" fill="#2c7cbb"/>
<circle cx="446.74" cy="111.86" r="1.05" fill="#2c7cbb"/>
<circle cx="439.89" cy="114.72" r="1.05" fill="#2c7cbb"/>
<circle cx="453.06" cy="110.55" r="1.05" fill="#2c7cbb"/>
<circle cx="449.17" cy="111.9" r="1.05" fill="#2c7cbb"/>
<circle cx="445.24" cy="112.03" r="1.05" fill="#2c7cbb"/>
<circle cx="455.35" cy="114.68" r="1.05" fill="#2c7cbb"/>
<circle cx="447.84" cy="109.95" r="1.05" fill="#2c7cbb" stroke="#fff" stroke-width="0.3"/>
<circle cx="446.16" cy="107.21" r="1.05" fill="#2c7cbb" stroke="#fff" stroke-width="0.3"/>
<circle cx="432.74" cy="112.41" r="1.05" fill="#2c7cbb" stroke="#fff" stroke-width="0.3"/>
<circle cx="453.02" cy="119.31" r="1.05" fill="#2c7cbb"/>
<circle cx="453.4" cy="110.16" r="1.05" fill="#2c7cbb"/>
<circle cx="454.06" cy="109.85" r="1.05" fill="#2c7cbb"/>
<circle cx="445.48" cy="111.75" r="1.05" fill="#2c7cbb"/>
<circle cx="449.72" cy="118.36" r="1.05" fill="#2c7cbb"/>
<circle cx="444.82" cy="111.08" r="1.05" fill="#2c7cbb" stroke="#fff" stroke-width="0.3"/>
<circle cx="444.68" cy="117.55" r="1.05" fill="#2c7cbb"/>
<circle cx="454.1" cy="114.87" r="1.05" fill="#2c7cbb"/>
<circle cx="453.34" cy="117.23" r="1.05" fill="#2c7cbb"/>
<circle cx="450.31" cy="106.53" r="1.05" fill="#2c7cbb" stroke="#fff" stroke-width="0.3"/>
<circle cx="452.54" cy="119.46" r="1.05" fill="#2c7cbb"/>
<circle cx="445.38" cy="108.41" r="1.05" fill="#2c7cbb" stroke="#fff" stroke-width="0.3"/>
<circle cx="448.87" cy="117.4" r="1.05" fill="#2c7cbb"/>
<circle cx="447.58" cy="113.78" r="1.05" fill="#2c7cbb"/>
<circle cx="446.61" cy="113.53" r="1.05" fill="#2c7cbb"/>
<circle cx="447.86" cy="109.2" r="1.05" fill="#2c7cbb" stroke="#fff" stroke-width="0.3"/>
<circle cx="444.87" cy="112.33" r="1.05" fill="#2c7cbb"/>
<circle cx="444.19" cy="109.33" r="1.05" fill="#2c7cbb" stroke="#fff" stroke-width="0.3"/>
<circle cx="446.88" cy="113.27" r="1.05" fill="#2c7cbb"/>
<circle cx="433.78" cy="117.78" r="1.05" fill="#2c7cbb"/>
<circle cx="433.26" cy="116.43" r="1.05" fill="#2c7cbb"/>
<circle cx="454.49" cy="113.36" r="1.05" fill="#2c7cbb"/>
<circle cx="442.04" cy="110.77" r="1.05" fill="#2c7cbb" stroke="#fff" stroke-width="0.3"/>
<circle cx="455.7" cy="112.41" r="1.05" fill="#2c7cbb"/>
<circle cx="436.33" cy="113.4" r="1.05" fill="#2c7cbb"/>
<circle cx="453.11" cy="108.31" r="1.05" fill="#2c7cbb" stroke="#fff" stroke-width="0.3"/>
<circle cx="452.84" cy="113.82" r="1.05" fill="#2c7cbb"/>
<circle cx="449.04" cy="112" r="1.05" fill="#2c7cbb"/>
<circle cx="443.65" cy="108.57" r="1.05" fill="#2c7cbb" stroke="#fff" stroke-width="0.3"/>
<circle cx="452.39" cy="118.33" r="1.05" fill="#2c7cbb"/>
<circle cx="452.93" cy="108.86" r="1.05" fill="#2c7cbb" stroke="#fff" stroke-width="0.3"/>
<circle cx="442.79" cy="110.09" r="1.05" fill="#2c7cbb" stroke="#fff" stroke-width="0.3"/>
<circle cx="433.94" cy="119.44" r="1.05" fill="#2c7cbb"/>
<circle cx="437.96" cy="114.99" r="1.05" fill="#2c7cbb"/>
<circle cx="455.99" cy="111.08" r="1.05" fill="#2c7cbb"/>
<circle cx="437.19" cy="113.51" r="1.05" fill="#2c7cbb"/>
<circle cx="439.49" cy="114.8" r="1.05" fill="#2c7cbb"/>
<circle cx="454.29" cy="113.24" r="1.05" fill="#2c7cbb"/>
<circle cx="442.69" cy="110.55" r="1.05" fill="#2c7cbb" stroke="#fff" stroke-width="0.3"/>
<circle cx="445.26" cy="118.42" r="1.05" fill="#2c7cbb"/>
<circle cx="434.53" cy="115.55" r="1.05" fill="#2c7cbb"/>
<circle cx="444.05" cy="116.88" r="1.05" fill="#2c7cbb"/>
<circle cx="441.53" cy="108.89" r="1.05" fill="#2c7cbb" stroke="#fff" stroke-width="0.3"/>
<circle cx="456.23" cy="113.6" r="1.05" fill="#2c7cbb"/>
<circle cx="447.44" cy="117.22" r="1.05" fill="#2c7cbb"/>
<circle cx="446.81" cy="118.22" r="1.05" fill="#2c7cbb"/>
<circle cx="431.76" cy="115.87" r="1.05" fill="#2c7cbb"/>
<circle cx="436.57" cy="112.86" r="1.05" fill="#2c7cbb"/>
<circle cx="446.93" cy="106.74" r="1.05" fill="#2c7cbb" stroke="#fff" stroke-width="0.3"/>
<circle cx="443.85" cy="114.36" r="1.05" fill="#2c7cbb"/>
<circle cx="450.54" cy="109.28" r="1.05" fill="#2c7cbb" stroke="#fff" stroke-width="0.3"/>
<circle cx="450.43" cy="118.19" r="1.05" fill="#2c7cbb"/>
<circle cx="443.12" cy="117.45" r="1.05" fill="#2c7cbb"/>
<circle cx="437.43" cy="116.97" r="1.05" fill="#2c7cbb"/>
<circle cx="438.94" cy="110.42" r="1.05" fill="#2c7cbb" stroke="#fff" stroke-width="0.3"/>
<circle cx="448.58" cy="109.51" r="1.05" fill="#2c7cbb" stroke="#fff" stroke-width="0.3"/>
<circle cx="452.02" cy="110.94" r="1.05" fill="#2c7cbb"/>
<circle cx="453.17" cy="110.56" r="1.05" fill="#2c7cbb"/>
<circle cx="443.59" cy="115.43" r="1.05" fill="#2c7cbb"/>
<circle cx="456.15" cy="113.25" r="1.05" fill="#2c7cbb"/>
<circle cx="455.14" cy="117.62" r="1.05" fill="#2c7cbb"/>
<circle cx="456.09" cy="116.31" r="1.05" fill="#2c7cbb"/>
<circle cx="445.81" cy="114.19" r="1.05" fill="#2c7cbb"/>
<circle cx="440.18" cy="113.94" r="1.05" fill="#2c7cbb"/>
<circle cx="442.7" cy="116.71" r="1.05" fill="#2c7cbb"/>
<circle cx="454.93" cy="113.27" r="1.05" fill="#2c7cbb"/>
<circle cx="448.12" cy="117.5" r="1.05" fill="#2c7cbb"/>
<circle cx="450.93" cy="117.88" r="1.05" fill="#2c7cbb"/>
<circle cx="453.84" cy="106.95" r="1.05" fill="#2c7cbb" stroke="#fff" stroke-width="0.3"/>
<circle cx="451.37" cy="119.38" r="1.05" fill="#2c7cbb"/>
<circle cx="454.68" cy="109.53" r="1.05" fill="#2c7cbb"/>
<circle cx="435.76" cy="113.02" r="1.05" fill="#2c7cbb"/>
<circle cx="453.63" cy="116.48" r="1.05" fill="#2c7cbb"/>
<circle cx="451.94" cy="112.68" r="1.05" fill="#2c7cbb"/>
<circle cx="431.33" cy="118.3" r="1.05" fill="#2c7cbb"/>
<circle cx="442.94" cy="112.82" r="1.05" fill="#2c7cbb"/>
<circle cx="447.57" cy="111.11" r="1.05" fill="#2c7cbb"/>
<circle cx="446.26" cy="108.93" r="1.05" fill="#2c7cbb" stroke="#fff" stroke-width="0.3"/>
<circle cx="434.24" cy="113.11" r="1.05" fill="#2c7cbb"/>
<circle cx="435.69" cy="113.78" r="1.05" fill="#2c7cbb"/>
<circle cx="456.25" cy="110.91" r="1.05" fill="#2c7cbb"/>
<circle cx="445.93" cy="112.69" r="1.05" fill="#2c7cbb"/>
<circle cx="451.51" cy="113.94" r="1.05" fill="#2c7cbb"/>
<circle cx="437.65" cy="113.17" r="1.05" fill="#2c7cbb"/>
<circle cx="452.56" cy="113.69" r="1.05" fill="#2c7cbb"/>
<circle cx="448.17" cy="111.29" r="1.05" fill="#2c7cbb"/>
<circle cx="454.23" cy="110.07" r="1.05" fill="#2c7cbb"/>
<circle cx="437.6" cy="115.45" r="1.05" fill="#2c7cbb"/>
<circle cx="451.11" cy="108.71" r="1.05" fill="#2c7cbb" stroke="#fff" stroke-width="0.3"/>
<circle cx="449.01" cy="112.27" r="1.05" fill="#2c7cbb"/>
<circle cx="455.33" cy="115.91" r="1.05" fill="#2c7cbb"/>
<circle cx="455.19" cy="107.12" r="1.05" fill="#2c7cbb" stroke="#fff" stroke-width="0.3"/>
<circle cx="453.72" cy="106.84" r="1.05" fill="#2c7cbb" stroke="#fff" stroke-width="0.3"/>
<circle cx="455.95" cy="108.05" r="1.05" fill="#2c7cbb" stroke="#fff" stroke-width="0.3"/>
<circle cx="437.51" cy="111.01" r="1.05" fill="#2c7cbb" stroke="#fff" stroke-width="0.3"/>
<circle cx="454.32" cy="108.79" r="1.05" fill="#2c7cbb" stroke="#fff" stroke-width="0.3"/>
<circle cx="450.98" cy="118.31" r="1.05" fill="#2c7cbb"/>
<circle cx="445.29" cy="113.49" r="1.05" fill="#2c7cbb"/>
<circle cx="452.58" cy="117.7" r="1.05" fill="#2c7cbb"/>
<circle cx="431.08" cy="115.77" r="1.05" fill="#2c7cbb"/>
<circle cx="441.45" cy="111.93" r="1.05" fill="#2c7cbb"/>
<circle cx="441.04" cy="113.57" r="1.05" fill="#2c7cbb"/>
<circle cx="449.92" cy="117.19" r="1.05" fill="#2c7cbb"/>
<circle cx="444.3" cy="112.46" r="1.05" fill="#2c7cbb"/>
<circle cx="454.95" cy="107.21" r="1.05" fill="#2c7cbb" stroke="#fff" stroke-width="0.3"/>
<circle cx="453.44" cy="116.86" r="1.05" fill="#2c7cbb"/>
<circle cx="442.24" cy="113.48" r="1.05" fill="#2c7cbb"/>
<circle cx="442.12" cy="114.44" r="1.05" fill="#2c7cbb"/>
<circle cx="441.66" cy="113.3" r="1.05" fill="#2c7cbb"/>
<circle cx="436.29" cy="118.52" r="1.05" fill="#2c7cbb"/>
<circle cx="443.59" cy="111.04" r="1.05" fill="#2c7cbb" stroke="#fff" stroke-width="0.3"/>
<circle cx="444.74" cy="111.64" r="1.05" fill="#2c7cbb" stroke="#fff" stroke-width="0.3"/>
<circle cx="453.61" cy="115" r="1.05" fill="#2c7cbb"/>
<circle cx="448.15" cy="116.35" r="1.05" fill="#2c7cbb"/>
<circle cx="453.67" cy="109.99" r="1.05" fill="#2c7cbb" stroke="#fff" stroke-width="0.3"/>
<circle cx="439.84" cy="115.75" r="1.05" fill="#2c7cbb"/>
<circle cx="439.21" cy="117.97" r="1.05" fill="#2c7cbb"/>
<circle cx="450.4" cy="118.32" r="1.05" fill="#2c7cbb"/>
<circle cx="446.41" cy="114.12" r="1.05" fill="#2c7cbb"/>
<circle cx="443.34" cy="109.49" r="1.05" fill="#2c7cbb" stroke="#fff" stroke-width="0.3"/>
<circle cx="443.94" cy="108.69" r="1.05" fill="#2c7cbb" stroke="#fff" stroke-width="0.3"/>
<circle cx="437.06" cy="114.26" r="1.05" fill="#2c7cbb"/>
<circle cx="439.28" cy="116.33" r="1.05" fill="#2c7cbb"/>
<circle cx="439" cy="118.82" r="1.05" fill="#2c7cbb"/>
<circle cx="455.51" cy="113.21" r="1.05" fill="#2c7cbb"/>
<circle cx="452.38" cy="110.84" r="1.05" fill="#2c7cbb"/>
<circle cx="446.06" cy="114.36" r="1.05" fill="#2c7cbb"/>
<circle cx="452" cy="113.68" r="1.05" fill="#2c7cbb"/>
<circle cx="437.82" cy="110.72" r="1.05" fill="#2c7cbb" stroke="#fff" stroke-width="0.3"/>
<circle cx="436.02" cy="115" r="1.05" fill="#2c7cbb"/>
<circle cx="452.4" cy="115.24" r="1.05" fill="#2c7cbb"/>
<circle cx="454.79" cy="113.07" r="1.05" fill="#2c7cbb"/>
<circle cx="454.24" cy="118.88" r="1.05" fill="#2c7cbb"/>
<circle cx="437.66" cy="117.87" r="1.05" fill="#2c7cbb"/>
<circle cx="432.57" cy="119.36" r="1.05" fill="#2c7cbb"/>
<circle cx="452.27" cy="109.65" r="1.05" fill="#2c7cbb" stroke="#fff" stroke-width="0.3"/>
<circle cx="432.03" cy="114.53" r="1.05" fill="#2c7cbb"/>
<circle cx="433.26" cy="115.92" r="1.05" fill="#2c7cbb"/>
<circle cx="450.56" cy="112.93" r="1.05" fill="#2c7cbb"/>
<circle cx="454.6" cy="108.82" r="1.05" fill="#2c7cbb" stroke="#fff" stroke-width="0.3"/>
<circle cx="454.58" cy="108.74" r="1.05" fill="#2c7cbb" stroke="#fff" stroke-width="0.3"/>
<circle cx="441.1" cy="113.86" r="1.05" fill="#2c7cbb"/>
<circle cx="431.5" cy="113.3" r="1.05" fill="#2c7cbb"/>
<circle cx="443.35" cy="111.16" r="1.05" fill="#2c7cbb"/>
<circle cx="456.32" cy="113.31" r="1.05" fill="#2c7cbb"/>
<circle cx="446.72" cy="113.87" r="1.05" fill="#2c7cbb"/>
<circle cx="447.99" cy="118.07" r="1.05" fill="#2c7cbb"/>
<circle cx="454.07" cy="113.29" r="1.05" fill="#2c7cbb"/>
<circle cx="450.46" cy="112.74" r="1.05" fill="#2c7cbb"/>
<circle cx="440.03" cy="119.52" r="1.05" fill="#2c7cbb"/>
<circle cx="430.49" cy="113.52" r="1.05" fill="#2c7cbb"/>
<circle cx="432.65" cy="115.7" r="1.05" fill="#2c7cbb"/>
<circle cx="449.56" cy="118.17" r="1.05" fill="#2c7cbb"/>
<circle cx="448.19" cy="111.02" r="1.05" fill="#2c7cbb"/>
<circle cx="447.07" cy="116.85" r="1.05" fill="#2c7cbb"/>
<circle cx="449.5" cy="113.95" r="1.05" fill="#2c7cbb"/>
<circle cx="449.07" cy="110.2" r="1.05" fill="#2c7cbb" stroke="#fff" stroke-width="0.3"/>
<circle cx="442.28" cy="108.6" r="1.05" fill="#2c7cbb" stroke="#fff" stroke-width="0.3"/>
<circle cx="453.71" cy="109.96" r="1.05" fill="#2c7cbb"/>
<circle cx="446.28" cy="114.55" r="1.05" fill="#2c7cbb"/>
<circle cx="454.3" cy="119.21" r="1.05" fill="#2c7cbb"/>
<circle cx="454.55" cy="109.98" r="1.05" fill="#2c7cbb"/>
<circle cx="443.24" cy="113.77" r="1.05" fill="#2c7cbb"/>
<circle cx="442.97" cy="109.05" r="1.05" fill="#2c7cbb" stroke="#fff" stroke-width="0.3"/>
<circle cx="449.07" cy="113.14" r="1.05" fill="#2c7cbb"/>
<circle cx="450.8" cy="116.96" r="1.05" fill="#2c7cbb"/>
<circle cx="452.9" cy="112.81" r="1.05" fill="#2c7cbb"/>
<circle cx="446" cy="109.16" r="1.05" fill="#2c7cbb" stroke="#fff" stroke-width="0.3"/>
<circle cx="445.5" cy="117.3" r="1.05" fill="#2c7cbb"/>
<circle cx="433.24" cy="116.15" r="1.05" fill="#2c7cbb"/>
<circle cx="436.66" cy="117.91" r="1.05" fill="#2c7cbb"/>
<circle cx="430.61" cy="115.47" r="1.05" fill="#2c7cbb"/>
<circle cx="456.07" cy="114.01" r="1.05" fill="#2c7cbb"/>
<circle cx="430.84" cy="113.6" r="1.05" fill="#2c7cbb"/>
<circle cx="439.56" cy="112.21" r="1.05" fill="#2c7cbb"/>
<circle cx="431.38" cy="114.7" r="1.05" fill="#2c7cbb"/>
<circle cx="452.67" cy="111.7" r="1.05" fill="#2c7cbb"/>
<circle cx="449.47" cy="117.25" r="1.05" fill="#2c7cbb"/>
<circle cx="445.71" cy="118.61" r="1.05" fill="#2c7cbb"/>
<circle cx="446.12" cy="110.35" r="1.05" fill="#2c7cbb" stroke="#fff" stroke-width="0.3"/>
<circle cx="430.54" cy="116.94" r="1.05" fill="#2c7cbb"/>
<circle cx="451.19" cy="118.47" r="1.05" fill="#2c7cbb"/>
<circle cx="450.88" cy="108.54" r="1.05" fill="#2c7cbb" stroke="#fff" stroke-width="0.3"/>
<circle cx="451.71" cy="119.41" r="1.05" fill="#2c7cbb"/>
<circle cx="438.09" cy="110.63" r="1.05" fill="#2c7cbb" stroke="#fff" stroke-width="0.3"/>
<circle cx="433.82" cy="113.96" r="1.05" fill="#2c7cbb"/>
<circle cx="439.7" cy="116.87" r="1.05" fill="#2c7cbb"/>
<circle cx="452.41" cy="106.87" r="1.05" fill="#2c7cbb" stroke="#fff" stroke-width="0.3"/>
<circle cx="452.33" cy="109.88" r="1.05" fill="#2c7cbb"/>
<circle cx="454.57" cy="108.69" r="1.05" fill="#2c7cbb" stroke="#fff" stroke-width="0.3"/>
<circle cx="455.83" cy="113.72" r="1.05" fill="#2c7cbb"/>
<circle cx="453.05" cy="107.26" r="1.05" fill="#2c7cbb" stroke="#fff" stroke-width="0.3"/>
<circle cx="453.55" cy="108.07" r="1.05" fill="#2c7cbb" stroke="#fff" stroke-width="0.3"/>
<circle cx="442.94" cy="112.56" r="1.05" fill="#2c7cbb"/>
<circle cx="440.81" cy="111.63" r="1.05" fill="#2c7cbb"/>
<circle cx="447.39" cy="113.82" r="1.05" fill="#2c7cbb"/>
<circle cx="436.87" cy="116.34" r="1.05" fill="#2c7cbb"/>
<circle cx="450.39" cy="112.33" r="1.05" fill="#2c7cbb"/>
<circle cx="430.99" cy="114.45" r="1.05" fill="#2c7cbb"/>
<circle cx="446.94" cy="118.73" r="1.05" fill="#2c7cbb"/>
<circle cx="441.91" cy="116.32" r="1.05" fill="#2c7cbb"/>
<circle cx="440.75" cy="117.42" r="1.05" fill="#2c7cbb"/>
<circle cx="441.61" cy="119" r="1.05" fill="#2c7cbb"/>
<circle cx="445.76" cy="112.04" r="1.05" fill="#2c7cbb"/>
<circle cx="444.32" cy="113.36" r="1.05" fill="#2c7cbb"/>
<circle cx="435.49" cy="118.25" r="1.05" fill="#2c7cbb"/>
<circle cx="450.65" cy="114.75" r="1.05" fill="#2c7cbb"/>
<circle cx="452.5" cy="111.61" r="1.05" fill="#2c7cbb"/>
<circle cx="449.5" cy="116.88" r="1.05" fill="#2c7cbb"/>
<circle cx="448.93" cy="109.93" r="1.05" fill="#2c7cbb" stroke="#fff" stroke-width="0.3"/>
<circle cx="433.93" cy="112" r="1.05" fill="#2c7cbb" stroke="#fff" stroke-width="0.3"/>
<circle cx="451.93" cy="114.86" r="1.05" fill="#2c7cbb"/>
<circle cx="446.31" cy="117.92" r="1.05" fill="#2c7cbb"/>
<circle cx="432.04" cy="115.06" r="1.05" fill="#2c7cbb"/>
<circle cx="439.8" cy="114.22" r="1.05" fill="#2c7cbb"/>
<circle cx="438.1" cy="119.05" r="1.05" fill="#2c7cbb"/>
<circle cx="452.89" cy="115.65" r="1.05" fill="#2c7cbb"/>
<circle cx="455.79" cy="114.58" r="1.05" fill="#2c7cbb"/>
<circle cx="447.44" cy="113.63" r="1.05" fill="#2c7cbb"/>
<circle cx="446.07" cy="111.43" r="1.05" fill="#2c7cbb"/>
<circle cx="454.11" cy="115.12" r="1.05" fill="#2c7cbb"/>
<circle cx="450.65" cy="118.51" r="1.05" fill="#2c7cbb"/>
<circle cx="431.82" cy="114.18" r="1.05" fill="#2c7cbb"/>
<circle cx="445.33" cy="118.42" r="1.05" fill="#2c7cbb"/>
<circle cx="449.91" cy="112.92" r="1.05" fill="#2c7cbb"/>
<circle cx="447.43" cy="117.31" r="1.05" fill="#2c7cbb"/>
<circle cx="431.7" cy="116.63" r="1.05" fill="#2c7cbb"/>
<circle cx="455.1" cy="118.9" r="1.05" fill="#2c7cbb"/>
<circle cx="446.33" cy="118.03" r="1.05" fill="#2c7cbb"/>
<circle cx="454.26" cy="116.67" r="1.05" fill="#2c7cbb"/>
<circle cx="447.32" cy="114.98" r="1.05" fill="#2c7cbb"/>
<circle cx="448.16" cy="114.68" r="1.05" fill="#2c7cbb"/>
<circle cx="451.02" cy="108.85" r="1.05" fill="#2c7cbb" stroke="#fff" stroke-width="0.3"/>
<circle cx="440.86" cy="115.86" r="1.05" fill="#2c7cbb"/>
<circle cx="451.36" cy="113.56" r="1.05" fill="#2c7cbb"/>
<circle cx="443.3" cy="118.74" r="1.05" fill="#2c7cbb"/>
<circle cx="443.14" cy="113.44" r="1.05" fill="#2c7cbb"/>
<circle cx="445.15" cy="115.75" r="1.05" fill="#2c7cbb"/>
<circle cx="451.6" cy="118.86" r="1.05" fill="#2c7cbb"/>
<circle cx="450.27" cy="115.74" r="1.05" fill="#2c7cbb"/>
<circle cx="454.31" cy="118.3" r="1.05" fill="#2c7cbb"/>
<circle cx="454.4" cy="118.59" r="1.05" fill="#2c7cbb"/>
<circle cx="445.86" cy="107.58" r="1.05" fill="#2c7cbb" stroke="#fff" stroke-width="0.3"/>
<circle cx="434.29" cy="115.28" r="1.05" fill="#2c7cbb"/>
<circle cx="451.79" cy="111.65" r="1.05" fill="#2c7cbb"/>
<circle cx="450.63" cy="108.2" r="1.05" fill="#2c7cbb" stroke="#fff" stroke-width="0.3"/>
<circle cx="451.93" cy="115.49" r="1.05" fill="#2c7cbb"/>
<circle cx="450.67" cy="111.5" r="1.05" fill="#2c7cbb"/>
<circle cx="449.19" cy="116.43" r="1.05" fill="#2c7cbb"/>
<circle cx="431.05" cy="115.77" r="1.05" fill="#2c7cbb"/>
<circle cx="453.01" cy="107.02" r="1.05" fill="#2c7cbb" stroke="#fff" stroke-width="0.3"/>
<circle cx="455.41" cy="111.4" r="1.05" fill="#2c7cbb"/>
<circle cx="439.79" cy="115.93" r="1.05" fill="#2c7cbb"/>
<circle cx="431.31" cy="117.94" r="1.05" fill="#2c7cbb"/>
<circle cx="441.53" cy="114.39" r="1.05" fill="#2c7cbb"/>
<circle cx="454.29" cy="107.98" r="1.05" fill="#2c7cbb" stroke="#fff" stroke-width="0.3"/>
<circle cx="453.85" cy="109.07" r="1.05" fill="#2c7cbb" stroke="#fff" stroke-width="0.3"/>
<circle cx="456.01" cy="114.95" r="1.05" fill="#2c7cbb"/>
<circle cx="438.37" cy="116.23" r="1.05" fill="#2c7cbb"/>
<circle cx="440.75" cy="118.36" r="1.05" fill="#2c7cbb"/>
<circle cx="456.19" cy="108.98" r="1.05" fill="#2c7cbb" stroke="#fff" stroke-width="0.3"/>
<circle cx="444.18" cy="108.85" r="1.05" fill="#2c7cbb" stroke="#fff" stroke-width="0.3"/>
<circle cx="450.32" cy="110.52" r="1.05" fill="#2c7cbb" stroke="#fff" stroke-width="0.3"/>
<circle cx="440.41" cy="113.45" r="1.05" fill="#2c7cbb"/>
<circle cx="444.16" cy="108.47" r="1.05" fill="#2c7cbb" stroke="#fff" stroke-width="0.3"/>
<circle cx="434.6" cy="115.57" r="1.05" fill="#2c7cbb"/>
<circle cx="448.66" cy="111.24" r="1.05" fill="#2c7cbb"/>
<circle cx="435.11" cy="114.51" r="1.05" fill="#2c7cbb"/>
<circle cx="452.38" cy="110.66" r="1.05" fill="#2c7cbb"/>
<circle cx="444.21" cy="108.07" r="1.05" fill="#2c7cbb" stroke="#fff" stroke-width="0.3"/>
<circle cx="446.03" cy="111.87" r="1.05" fill="#2c7cbb"/>
<circle cx="446.13" cy="113.2" r="1.05" fill="#2c7cbb"/>
<circle cx="435.38" cy="115.96" r="1.05" fill="#2c7cbb"/>
<circle cx="454.92" cy="110.83" r="1.05" fill="#2c7cbb"/>
<circle cx="452.34" cy="116.77" r="1.05" fill="#2c7cbb"/>
<circle cx="451.46" cy="107.48" r="1.05" fill="#2c7cbb" stroke="#fff" stroke-width="0.3"/>
<circle cx="442.53" cy="109.67" r="1.05" fill="#2c7cbb" stroke="#fff" stroke-width="0.3"/>
<circle cx="456.27" cy="111.88" r="1.05" fill="#2c7cbb"/>
<circle cx="452.31" cy="106.93" r="1.05" fill="#2c7cbb" stroke="#fff" stroke-width="0.3"/>
<circle cx="445.98" cy="110.13" r="1.05" fill="#2c7cbb" stroke="#fff" stroke-width="0.3"/>
<circle cx="437.72" cy="111.24" r="1.05" fill="#2c7cbb" stroke="#fff" stroke-width="0.3"/>
<circle cx="453.58" cy="100.86" r="0.85" fill="#3f8ec9" stroke="#fff" stroke-width="0.3"/>
<circle cx="450.9" cy="103.72" r="0.85" fill="#3f8ec9" stroke="#fff" stroke-width="0.3"/>
<circle cx="455.12" cy="101.95" r="0.85" fill="#3f8ec9" stroke="#fff" stroke-width="0.3"/>
<circle cx="438.37" cy="109.77" r="0.85" fill="#3f8ec9" stroke="#fff" stroke-width="0.3"/>
<circle cx="450.94" cy="108.04" r="0.85" fill="#3f8ec9" stroke="#fff" stroke-width="0.3"/>
<circle cx="451.79" cy="104.41" r="0.85" fill="#3f8ec9" stroke="#fff" stroke-width="0.3"/>
<circle cx="448.11" cy="106.65" r="0.85" fill="#3f8ec9" stroke="#fff" stroke-width="0.3"/>
<circle cx="452.99" cy="102.88" r="0.85" fill="#3f8ec9" stroke="#fff" stroke-width="0.3"/>
<circle cx="451.99" cy="100.27" r="0.85" fill="#3f8ec9" stroke="#fff" stroke-width="0.3"/>
<circle cx="446.17" cy="89.65" r="0.85" fill="#3f8ec9" stroke="#fff" stroke-width="0.3"/>
<circle cx="446.36" cy="106.68" r="0.85" fill="#3f8ec9" stroke="#fff" stroke-width="0.3"/>
<circle cx="435.74" cy="112.09" r="0.85" fill="#3f8ec9" stroke="#fff" stroke-width="0.3"/>
<circle cx="451.4" cy="98.41" r="0.85" fill="#3f8ec9" stroke="#fff" stroke-width="0.3"/>
<circle cx="453.05" cy="106.5" r="0.85" fill="#3f8ec9" stroke="#fff" stroke-width="0.3"/>
<circle cx="437.63" cy="108.29" r="0.85" fill="#3f8ec9" stroke="#fff" stroke-width="0.3"/>
<circle cx="452.11" cy="108.14" r="0.85" fill="#3f8ec9" stroke="#fff" stroke-width="0.3"/>
<circle cx="454.39" cy="103.54" r="0.85" fill="#3f8ec9" stroke="#fff" stroke-width="0.3"/>
<circle cx="449.72" cy="107.54" r="0.85" fill="#3f8ec9" stroke="#fff" stroke-width="0.3"/>
<circle cx="453.97" cy="105.54" r="0.85" fill="#3f8ec9" stroke="#fff" stroke-width="0.3"/>
<circle cx="452.33" cy="103.26" r="0.85" fill="#3f8ec9" stroke="#fff" stroke-width="0.3"/>
<circle cx="441.74" cy="110.07" r="0.85" fill="#3f8ec9" stroke="#fff" stroke-width="0.3"/>
<circle cx="451.16" cy="102.22" r="0.85" fill="#3f8ec9" stroke="#fff" stroke-width="0.3"/>
<circle cx="441.62" cy="109.9" r="0.85" fill="#3f8ec9" stroke="#fff" stroke-width="0.3"/>
<circle cx="447.59" cy="105.93" r="0.85" fill="#3f8ec9" stroke="#fff" stroke-width="0.3"/>
<circle cx="450.56" cy="106.57" r="0.85" fill="#3f8ec9" stroke="#fff" stroke-width="0.3"/>
<circle cx="453.73" cy="103.47" r="0.85" fill="#3f8ec9" stroke="#fff" stroke-width="0.3"/>
<circle cx="451.97" cy="93.46" r="0.85" fill="#3f8ec9" stroke="#fff" stroke-width="0.3"/>
<circle cx="439" cy="110.52" r="0.85" fill="#3f8ec9" stroke="#fff" stroke-width="0.3"/>
<circle cx="436.95" cy="107.12" r="0.85" fill="#3f8ec9" stroke="#fff" stroke-width="0.3"/>
<circle cx="441.4" cy="105.95" r="0.85" fill="#3f8ec9" stroke="#fff" stroke-width="0.3"/>
<circle cx="439.43" cy="106.37" r="0.85" fill="#3f8ec9" stroke="#fff" stroke-width="0.3"/>
<circle cx="431.64" cy="112.77" r="0.85" fill="#3f8ec9" stroke="#fff" stroke-width="0.3"/>
<circle cx="441.43" cy="107.6" r="0.85" fill="#3f8ec9" stroke="#fff" stroke-width="0.3"/>
<circle cx="443.41" cy="108.56" r="0.85" fill="#3f8ec9" stroke="#fff" stroke-width="0.3"/>
<circle cx="448.46" cy="102.67" r="0.85" fill="#3f8ec9" stroke="#fff" stroke-width="0.3"/>
<circle cx="454.99" cy="97.79" r="0.85" fill="#3f8ec9" stroke="#fff" stroke-width="0.3"/>
<circle cx="454.74" cy="107.9" r="0.85" fill="#3f8ec9" stroke="#fff" stroke-width="0.3"/>
<circle cx="454.27" cy="108.28" r="0.85" fill="#3f8ec9" stroke="#fff" stroke-width="0.3"/>
<circle cx="442.26" cy="102.89" r="0.85" fill="#3f8ec9" stroke="#fff" stroke-width="0.3"/>
<circle cx="454.67" cy="103.8" r="0.85" fill="#3f8ec9" stroke="#fff" stroke-width="0.3"/>
<circle cx="450.34" cy="107.89" r="0.85" fill="#3f8ec9" stroke="#fff" stroke-width="0.3"/>
<circle cx="450.95" cy="106.94" r="0.85" fill="#3f8ec9" stroke="#fff" stroke-width="0.3"/>
<circle cx="454.9" cy="105.62" r="0.85" fill="#3f8ec9" stroke="#fff" stroke-width="0.3"/>
<circle cx="440.04" cy="97.99" r="0.85" fill="#3f8ec9" stroke="#fff" stroke-width="0.3"/>
<circle cx="451.32" cy="106.56" r="0.85" fill="#3f8ec9" stroke="#fff" stroke-width="0.3"/>
<circle cx="451.3" cy="101.98" r="0.85" fill="#3f8ec9" stroke="#fff" stroke-width="0.3"/>
<circle cx="449.6" cy="106.32" r="0.85" fill="#3f8ec9" stroke="#fff" stroke-width="0.3"/>
<circle cx="454.1" cy="105.88" r="0.85" fill="#3f8ec9" stroke="#fff" stroke-width="0.3"/>
<circle cx="448.69" cy="99.66" r="0.85" fill="#3f8ec9" stroke="#fff" stroke-width="0.3"/>
<circle cx="436.71" cy="108.77" r="0.85" fill="#3f8ec9" stroke="#fff" stroke-width="0.3"/>
<circle cx="447.99" cy="104.28" r="0.85" fill="#3f8ec9" stroke="#fff" stroke-width="0.3"/>
<circle cx="455.45" cy="102.23" r="0.85" fill="#3f8ec9" stroke="#fff" stroke-width="0.3"/>
<circle cx="444.27" cy="109.11" r="0.85" fill="#3f8ec9" stroke="#fff" stroke-width="0.3"/>
<circle cx="447.59" cy="106.88" r="0.85" fill="#3f8ec9" stroke="#fff" stroke-width="0.3"/>
<circle cx="453.4" cy="106.54" r="0.85" fill="#3f8ec9" stroke="#fff" stroke-width="0.3"/>
<circle cx="451.11" cy="108.36" r="0.85" fill="#3f8ec9" stroke="#fff" stroke-width="0.3"/>
<circle cx="441.83" cy="108.96" r="0.85" fill="#3f8ec9" stroke="#fff" stroke-width="0.3"/>
<circle cx="455.24" cy="99.72" r="0.85" fill="#3f8ec9" stroke="#fff" stroke-width="0.3"/>
<circle cx="448.74" cy="102.86" r="0.85" fill="#3f8ec9" stroke="#fff" stroke-width="0.3"/>
<circle cx="451.26" cy="107.54" r="0.85" fill="#3f8ec9" stroke="#fff" stroke-width="0.3"/>
<circle cx="451.95" cy="106.72" r="0.85" fill="#3f8ec9" stroke="#fff" stroke-width="0.3"/>
<circle cx="434.49" cy="103.75" r="0.85" fill="#3f8ec9" stroke="#fff" stroke-width="0.3"/>
<circle cx="454.71" cy="98.9" r="0.85" fill="#3f8ec9" stroke="#fff" stroke-width="0.3"/>
<circle cx="453.21" cy="106.55" r="0.85" fill="#3f8ec9" stroke="#fff" stroke-width="0.3"/>
<circle cx="455.56" cy="105.81" r="0.85" fill="#3f8ec9" stroke="#fff" stroke-width="0.3"/>
<circle cx="445.37" cy="108.52" r="0.85" fill="#3f8ec9" stroke="#fff" stroke-width="0.3"/>
<circle cx="455.44" cy="98.39" r="0.85" fill="#3f8ec9" stroke="#fff" stroke-width="0.3"/>
<circle cx="453.42" cy="107.62" r="0.85" fill="#3f8ec9" stroke="#fff" stroke-width="0.3"/>
<circle cx="446.27" cy="99.64" r="0.85" fill="#3f8ec9" stroke="#fff" stroke-width="0.3"/>
<circle cx="446.62" cy="107.58" r="0.85" fill="#3f8ec9" stroke="#fff" stroke-width="0.3"/>
<circle cx="447.96" cy="107.18" r="0.85" fill="#3f8ec9" stroke="#fff" stroke-width="0.3"/>
<circle cx="437.99" cy="104.95" r="0.85" fill="#3f8ec9" stroke="#fff" stroke-width="0.3"/>
<circle cx="455.24" cy="106.41" r="0.85" fill="#3f8ec9" stroke="#fff" stroke-width="0.3"/>
<circle cx="451.72" cy="103.6" r="0.85" fill="#3f8ec9" stroke="#fff" stroke-width="0.3"/>
<circle cx="455.34" cy="104.7" r="0.85" fill="#3f8ec9" stroke="#fff" stroke-width="0.3"/>
<circle cx="452.32" cy="105.29" r="0.85" fill="#3f8ec9" stroke="#fff" stroke-width="0.3"/>
<circle cx="429.55" cy="105.79" r="0.85" fill="#3f8ec9" stroke="#fff" stroke-width="0.3"/>
<circle cx="454.25" cy="103.9" r="0.85" fill="#3f8ec9" stroke="#fff" stroke-width="0.3"/>
<circle cx="448.36" cy="92.89" r="0.85" fill="#3f8ec9" stroke="#fff" stroke-width="0.3"/>
<circle cx="454.03" cy="100.75" r="0.85" fill="#3f8ec9" stroke="#fff" stroke-width="0.3"/>
<circle cx="454.86" cy="108.45" r="0.85" fill="#3f8ec9" stroke="#fff" stroke-width="0.3"/>
<circle cx="439.25" cy="97.53" r="0.85" fill="#3f8ec9" stroke="#fff" stroke-width="0.3"/>
<circle cx="450.1" cy="104.75" r="0.85" fill="#3f8ec9" stroke="#fff" stroke-width="0.3"/>
<circle cx="437.32" cy="108.42" r="0.85" fill="#3f8ec9" stroke="#fff" stroke-width="0.3"/>
<circle cx="430.91" cy="104.85" r="0.85" fill="#3f8ec9" stroke="#fff" stroke-width="0.3"/>
<circle cx="451.7" cy="106.1" r="0.85" fill="#3f8ec9" stroke="#fff" stroke-width="0.3"/>
<circle cx="451.65" cy="106.45" r="0.85" fill="#3f8ec9" stroke="#fff" stroke-width="0.3"/>
<circle cx="450.25" cy="106.66" r="0.85" fill="#3f8ec9" stroke="#fff" stroke-width="0.3"/>
<circle cx="444.92" cy="109.33" r="0.85" fill="#3f8ec9" stroke="#fff" stroke-width="0.3"/>
<circle cx="452.52" cy="91.53" r="0.85" fill="#3f8ec9" stroke="#fff" stroke-width="0.3"/>
<circle cx="450.53" cy="108.25" r="0.85" fill="#3f8ec9" stroke="#fff" stroke-width="0.3"/>
<circle cx="444.1" cy="108.09" r="0.85" fill="#3f8ec9" stroke="#fff" stroke-width="0.3"/>
<circle cx="454.52" cy="108.08" r="0.85" fill="#3f8ec9" stroke="#fff" stroke-width="0.3"/>
<circle cx="446.53" cy="106.09" r="0.85" fill="#3f8ec9" stroke="#fff" stroke-width="0.3"/>
<circle cx="450.68" cy="106.24" r="0.85" fill="#3f8ec9" stroke="#fff" stroke-width="0.3"/>
<circle cx="453.08" cy="104.57" r="0.85" fill="#3f8ec9" stroke="#fff" stroke-width="0.3"/>
<circle cx="455.47" cy="85.22" r="0.85" fill="#3f8ec9" stroke="#fff" stroke-width="0.3"/>
<circle cx="444.31" cy="108.07" r="0.85" fill="#3f8ec9" stroke="#fff" stroke-width="0.3"/>
<circle cx="455.85" cy="96.43" r="0.85" fill="#3f8ec9" stroke="#fff" stroke-width="0.3"/>
<circle cx="451.26" cy="104.69" r="0.85" fill="#3f8ec9" stroke="#fff" stroke-width="0.3"/>
<circle cx="446.22" cy="98.36" r="0.85" fill="#3f8ec9" stroke="#fff" stroke-width="0.3"/>
<circle cx="437.48" cy="110.98" r="0.85" fill="#3f8ec9" stroke="#fff" stroke-width="0.3"/>
<circle cx="434.76" cy="110.35" r="0.85" fill="#3f8ec9" stroke="#fff" stroke-width="0.3"/>
<circle cx="436.64" cy="104.24" r="0.85" fill="#3f8ec9" stroke="#fff" stroke-width="0.3"/>
<circle cx="453.14" cy="106.16" r="0.85" fill="#3f8ec9" stroke="#fff" stroke-width="0.3"/>
<circle cx="441.5" cy="108.56" r="0.85" fill="#3f8ec9" stroke="#fff" stroke-width="0.3"/>
<circle cx="447.91" cy="94.26" r="0.85" fill="#3f8ec9" stroke="#fff" stroke-width="0.3"/>
<circle cx="437.79" cy="111.22" r="0.85" fill="#3f8ec9" stroke="#fff" stroke-width="0.3"/>
<circle cx="439.88" cy="109.71" r="0.85" fill="#3f8ec9" stroke="#fff" stroke-width="0.3"/>
<circle cx="448.33" cy="108.46" r="0.85" fill="#3f8ec9" stroke="#fff" stroke-width="0.3"/>
<circle cx="440.42" cy="104.6" r="0.85" fill="#3f8ec9" stroke="#fff" stroke-width="0.3"/>
<circle cx="443.65" cy="107.74" r="0.85" fill="#3f8ec9" stroke="#fff" stroke-width="0.3"/>
<circle cx="436.73" cy="111.42" r="0.85" fill="#3f8ec9" stroke="#fff" stroke-width="0.3"/>
<circle cx="448.04" cy="102.26" r="0.85" fill="#3f8ec9" stroke="#fff" stroke-width="0.3"/>
<circle cx="452.51" cy="93.54" r="0.85" fill="#3f8ec9" stroke="#fff" stroke-width="0.3"/>
<circle cx="443.71" cy="104.8" r="0.85" fill="#3f8ec9" stroke="#fff" stroke-width="0.3"/>
<circle cx="450.32" cy="105.99" r="0.85" fill="#3f8ec9" stroke="#fff" stroke-width="0.3"/>
<circle cx="450.9" cy="106.87" r="0.85" fill="#3f8ec9" stroke="#fff" stroke-width="0.3"/>
<circle cx="436.94" cy="88.44" r="0.85" fill="#3f8ec9" stroke="#fff" stroke-width="0.3"/>
<circle cx="455.66" cy="96.7" r="0.85" fill="#3f8ec9" stroke="#fff" stroke-width="0.3"/>
<circle cx="437.33" cy="105.2" r="0.85" fill="#3f8ec9" stroke="#fff" stroke-width="0.3"/>
<circle cx="431.29" cy="107.03" r="0.85" fill="#3f8ec9" stroke="#fff" stroke-width="0.3"/>
<circle cx="446.13" cy="105.65" r="0.85" fill="#3f8ec9" stroke="#fff" stroke-width="0.3"/>
<circle cx="449.61" cy="108.02" r="0.85" fill="#3f8ec9" stroke="#fff" stroke-width="0.3"/>
<circle cx="446.97" cy="107.32" r="0.85" fill="#3f8ec9" stroke="#fff" stroke-width="0.3"/>
<circle cx="449.53" cy="108.15" r="0.85" fill="#3f8ec9" stroke="#fff" stroke-width="0.3"/>
<circle cx="445.9" cy="94.47" r="0.85" fill="#3f8ec9" stroke="#fff" stroke-width="0.3"/>
<circle cx="453.5" cy="103.62" r="0.85" fill="#3f8ec9" stroke="#fff" stroke-width="0.3"/>
<circle cx="449.87" cy="108.32" r="0.85" fill="#3f8ec9" stroke="#fff" stroke-width="0.3"/>
<circle cx="453.04" cy="102.83" r="0.85" fill="#3f8ec9" stroke="#fff" stroke-width="0.3"/>
<circle cx="445.79" cy="105.59" r="0.85" fill="#3f8ec9" stroke="#fff" stroke-width="0.3"/>
<circle cx="447.31" cy="105.99" r="0.85" fill="#3f8ec9" stroke="#fff" stroke-width="0.3"/>
<circle cx="452.68" cy="107.27" r="0.85" fill="#3f8ec9" stroke="#fff" stroke-width="0.3"/>
<circle cx="453.74" cy="100.79" r="0.85" fill="#3f8ec9" stroke="#fff" stroke-width="0.3"/>
<circle cx="451.81" cy="105.78" r="0.85" fill="#3f8ec9" stroke="#fff" stroke-width="0.3"/>
<circle cx="446.56" cy="107.1" r="0.85" fill="#3f8ec9" stroke="#fff" stroke-width="0.3"/>
<circle cx="455.55" cy="104.58" r="0.85" fill="#3f8ec9" stroke="#fff" stroke-width="0.3"/>
<circle cx="450.8" cy="102.4" r="0.85" fill="#3f8ec9" stroke="#fff" stroke-width="0.3"/>
<circle cx="445.74" cy="106.93" r="0.85" fill="#3f8ec9" stroke="#fff" stroke-width="0.3"/>
<circle cx="440.66" cy="105.88" r="0.85" fill="#3f8ec9" stroke="#fff" stroke-width="0.3"/>
<circle cx="447.96" cy="104.52" r="0.85" fill="#3f8ec9" stroke="#fff" stroke-width="0.3"/>
<circle cx="449.93" cy="103.92" r="0.85" fill="#3f8ec9" stroke="#fff" stroke-width="0.3"/>
<circle cx="452.83" cy="104.75" r="0.85" fill="#3f8ec9" stroke="#fff" stroke-width="0.3"/>
<circle cx="455.15" cy="98.7" r="0.85" fill="#3f8ec9" stroke="#fff" stroke-width="0.3"/>
<circle cx="454.81" cy="103.79" r="0.85" fill="#3f8ec9" stroke="#fff" stroke-width="0.3"/>
<circle cx="448.21" cy="107.27" r="0.85" fill="#3f8ec9" stroke="#fff" stroke-width="0.3"/>
<circle cx="452.3" cy="103.74" r="0.85" fill="#3f8ec9" stroke="#fff" stroke-width="0.3"/>
<circle cx="453.2" cy="98.06" r="0.85" fill="#3f8ec9" stroke="#fff" stroke-width="0.3"/>
<circle cx="453.83" cy="98.35" r="0.85" fill="#3f8ec9" stroke="#fff" stroke-width="0.3"/>
<circle cx="440.92" cy="101.31" r="0.85" fill="#3f8ec9" stroke="#fff" stroke-width="0.3"/>
<circle cx="454.57" cy="90.64" r="0.85" fill="#3f8ec9" stroke="#fff" stroke-width="0.3"/>
<circle cx="444.87" cy="95.3" r="0.85" fill="#3f8ec9" stroke="#fff" stroke-width="0.3"/>
<circle cx="445.77" cy="107.01" r="0.85" fill="#3f8ec9" stroke="#fff" stroke-width="0.3"/>
<circle cx="443.53" cy="109.3" r="0.85" fill="#3f8ec9" stroke="#fff" stroke-width="0.3"/>
<circle cx="451.94" cy="103.65" r="0.85" fill="#3f8ec9" stroke="#fff" stroke-width="0.3"/>
<circle cx="448.67" cy="103.33" r="0.85" fill="#3f8ec9" stroke="#fff" stroke-width="0.3"/>
<circle cx="438.82" cy="111.24" r="0.85" fill="#3f8ec9" stroke="#fff" stroke-width="0.3"/>
<circle cx="437.77" cy="110.44" r="0.85" fill="#3f8ec9" stroke="#fff" stroke-width="0.3"/>
<circle cx="447.07" cy="96.61" r="0.85" fill="#3f8ec9" stroke="#fff" stroke-width="0.3"/>
<circle cx="449.49" cy="105.46" r="0.85" fill="#3f8ec9" stroke="#fff" stroke-width="0.3"/>
<circle cx="453.67" cy="106.41" r="0.85" fill="#3f8ec9" stroke="#fff" stroke-width="0.3"/>
<circle cx="449.02" cy="100.68" r="0.85" fill="#3f8ec9" stroke="#fff" stroke-width="0.3"/>
<circle cx="450.96" cy="104.07" r="0.85" fill="#3f8ec9" stroke="#fff" stroke-width="0.3"/>
<circle cx="438.24" cy="106.18" r="0.85" fill="#3f8ec9" stroke="#fff" stroke-width="0.3"/>
<circle cx="445.36" cy="88.68" r="0.85" fill="#3f8ec9" stroke="#fff" stroke-width="0.3"/>
<circle cx="453.92" cy="106.25" r="0.85" fill="#3f8ec9" stroke="#fff" stroke-width="0.3"/>
<circle cx="448.14" cy="104.18" r="0.85" fill="#3f8ec9" stroke="#fff" stroke-width="0.3"/>
<circle cx="451.55" cy="103.76" r="0.85" fill="#3f8ec9" stroke="#fff" stroke-width="0.3"/>
<circle cx="443.6" cy="107.32" r="0.85" fill="#3f8ec9" stroke="#fff" stroke-width="0.3"/>
<circle cx="454.4" cy="107.3" r="0.85" fill="#3f8ec9" stroke="#fff" stroke-width="0.3"/>
<circle cx="446.6" cy="102.98" r="0.85" fill="#3f8ec9" stroke="#fff" stroke-width="0.3"/>
<circle cx="451.05" cy="105.09" r="0.85" fill="#3f8ec9" stroke="#fff" stroke-width="0.3"/>
<circle cx="452.9" cy="85.98" r="0.85" fill="#3f8ec9" stroke="#fff" stroke-width="0.3"/>
<circle cx="452.57" cy="101.91" r="0.85" fill="#3f8ec9" stroke="#fff" stroke-width="0.3"/>
<circle cx="439.39" cy="109.93" r="0.85" fill="#3f8ec9" stroke="#fff" stroke-width="0.3"/>
<circle cx="453.74" cy="104.96" r="0.85" fill="#3f8ec9" stroke="#fff" stroke-width="0.3"/>
<circle cx="455.71" cy="108.41" r="0.85" fill="#3f8ec9" stroke="#fff" stroke-width="0.3"/>
<circle cx="451.57" cy="106.48" r="0.85" fill="#3f8ec9" stroke="#fff" stroke-width="0.3"/>
<circle cx="452.05" cy="105.39" r="0.85" fill="#3f8ec9" stroke="#fff" stroke-width="0.3"/>
<circle cx="454.96" cy="107.93" r="0.85" fill="#3f8ec9" stroke="#fff" stroke-width="0.3"/>
<circle cx="451.41" cy="93.83" r="0.85" fill="#3f8ec9" stroke="#fff" stroke-width="0.3"/>
<circle cx="430.97" cy="112.98" r="0.85" fill="#3f8ec9" stroke="#fff" stroke-width="0.3"/>
<circle cx="453.49" cy="107.46" r="0.85" fill="#3f8ec9" stroke="#fff" stroke-width="0.3"/>
<circle cx="454.41" cy="107.77" r="0.85" fill="#3f8ec9" stroke="#fff" stroke-width="0.3"/>
<circle cx="454.48" cy="103.42" r="0.85" fill="#3f8ec9" stroke="#fff" stroke-width="0.3"/>
<circle cx="430.77" cy="104.61" r="0.85" fill="#3f8ec9" stroke="#fff" stroke-width="0.3"/>
<circle cx="450.13" cy="106.69" r="0.85" fill="#3f8ec9" stroke="#fff" stroke-width="0.3"/>
<circle cx="453.12" cy="97.25" r="0.85" fill="#3f8ec9" stroke="#fff" stroke-width="0.3"/>
<circle cx="429.47" cy="96.81" r="0.85" fill="#3f8ec9" stroke="#fff" stroke-width="0.3"/>
<circle cx="454.34" cy="102.61" r="0.85" fill="#3f8ec9" stroke="#fff" stroke-width="0.3"/>
<circle cx="436.06" cy="109.4" r="0.85" fill="#3f8ec9" stroke="#fff" stroke-width="0.3"/>
<circle cx="432.53" cy="109.04" r="0.85" fill="#3f8ec9" stroke="#fff" stroke-width="0.3"/>
<circle cx="444.33" cy="109.4" r="0.85" fill="#3f8ec9" stroke="#fff" stroke-width="0.3"/>
<circle cx="434.24" cy="106.61" r="0.85" fill="#3f8ec9" stroke="#fff" stroke-width="0.3"/>
<circle cx="448.44" cy="105.33" r="0.85" fill="#3f8ec9" stroke="#fff" stroke-width="0.3"/>
<circle cx="438.48" cy="110.1" r="0.85" fill="#3f8ec9" stroke="#fff" stroke-width="0.3"/>
<circle cx="448.22" cy="102.62" r="0.85" fill="#3f8ec9" stroke="#fff" stroke-width="0.3"/>
<circle cx="454.96" cy="94.97" r="0.85" fill="#3f8ec9" stroke="#fff" stroke-width="0.3"/>
<circle cx="454.9" cy="105.79" r="0.85" fill="#3f8ec9" stroke="#fff" stroke-width="0.3"/>
<circle cx="454.82" cy="106.67" r="0.85" fill="#3f8ec9" stroke="#fff" stroke-width="0.3"/>
<circle cx="454.4" cy="106.79" r="0.85" fill="#3f8ec9" stroke="#fff" stroke-width="0.3"/>
<circle cx="452.51" cy="100.75" r="0.85" fill="#3f8ec9" stroke="#fff" stroke-width="0.3"/>
<circle cx="439.66" cy="105.82" r="0.85" fill="#3f8ec9" stroke="#fff" stroke-width="0.3"/>
<circle cx="451.17" cy="106.9" r="0.85" fill="#3f8ec9" stroke="#fff" stroke-width="0.3"/>
<circle cx="452.88" cy="106.04" r="0.85" fill="#3f8ec9" stroke="#fff" stroke-width="0.3"/>
<circle cx="450.94" cy="85.49" r="0.85" fill="#3f8ec9" stroke="#fff" stroke-width="0.3"/>
<circle cx="438.03" cy="101.36" r="0.85" fill="#3f8ec9" stroke="#fff" stroke-width="0.3"/>
<circle cx="437.67" cy="103.22" r="0.85" fill="#3f8ec9" stroke="#fff" stroke-width="0.3"/>
<circle cx="452.35" cy="104.95" r="0.85" fill="#3f8ec9" stroke="#fff" stroke-width="0.3"/>
<circle cx="446.34" cy="100.12" r="0.85" fill="#3f8ec9" stroke="#fff" stroke-width="0.3"/>
<circle cx="435.87" cy="111.33" r="0.85" fill="#3f8ec9" stroke="#fff" stroke-width="0.3"/>
<circle cx="438.47" cy="103.03" r="0.85" fill="#3f8ec9" stroke="#fff" stroke-width="0.3"/>
<circle cx="452.54" cy="107.53" r="0.85" fill="#3f8ec9" stroke="#fff" stroke-width="0.3"/>
<circle cx="444.61" cy="108.55" r="0.85" fill="#3f8ec9" stroke="#fff" stroke-width="0.3"/>
<circle cx="440.55" cy="109.88" r="0.85" fill="#3f8ec9" stroke="#fff" stroke-width="0.3"/>
<circle cx="447.22" cy="107.76" r="0.85" fill="#3f8ec9" stroke="#fff" stroke-width="0.3"/>
<circle cx="442.65" cy="98.31" r="0.85" fill="#3f8ec9" stroke="#fff" stroke-width="0.3"/>
<circle cx="451.26" cy="94.24" r="0.85" fill="#3f8ec9" stroke="#fff" stroke-width="0.3"/>
<circle cx="434.98" cy="111.81" r="0.85" fill="#3f8ec9" stroke="#fff" stroke-width="0.3"/>
<circle cx="451.52" cy="96.42" r="0.85" fill="#3f8ec9" stroke="#fff" stroke-width="0.3"/>
<circle cx="442.26" cy="107.28" r="0.85" fill="#3f8ec9" stroke="#fff" stroke-width="0.3"/>
<circle cx="448.85" cy="99.34" r="0.85" fill="#3f8ec9" stroke="#fff" stroke-width="0.3"/>
<circle cx="451.54" cy="106.67" r="0.85" fill="#3f8ec9" stroke="#fff" stroke-width="0.3"/>
<circle cx="453.32" cy="97.77" r="0.85" fill="#3f8ec9" stroke="#fff" stroke-width="0.3"/>
<circle cx="454.27" cy="108.47" r="0.85" fill="#3f8ec9" stroke="#fff" stroke-width="0.3"/>
<circle cx="451.27" cy="106.66" r="0.85" fill="#3f8ec9" stroke="#fff" stroke-width="0.3"/>
<circle cx="428.61" cy="110.04" r="0.85" fill="#3f8ec9" stroke="#fff" stroke-width="0.3"/>
<circle cx="452.3" cy="99.58" r="0.85" fill="#3f8ec9" stroke="#fff" stroke-width="0.3"/>
<circle cx="453.72" cy="105.22" r="0.85" fill="#3f8ec9" stroke="#fff" stroke-width="0.3"/>
<circle cx="454.88" cy="107.69" r="0.85" fill="#3f8ec9" stroke="#fff" stroke-width="0.3"/>
<circle cx="452.97" cy="107.28" r="0.85" fill="#3f8ec9" stroke="#fff" stroke-width="0.3"/>
<circle cx="454.86" cy="108.46" r="0.85" fill="#3f8ec9" stroke="#fff" stroke-width="0.3"/>
<circle cx="453.61" cy="106.23" r="0.85" fill="#3f8ec9" stroke="#fff" stroke-width="0.3"/>
<circle cx="439.31" cy="101.46" r="0.85" fill="#3f8ec9" stroke="#fff" stroke-width="0.3"/>
<circle cx="441.56" cy="109.04" r="0.85" fill="#3f8ec9" stroke="#fff" stroke-width="0.3"/>
<circle cx="455.33" cy="101.42" r="0.85" fill="#3f8ec9" stroke="#fff" stroke-width="0.3"/>
<circle cx="436.05" cy="95.5" r="0.7" fill="#4a92c8"/>
<circle cx="449.87" cy="101.98" r="0.7" fill="#4a92c8"/>
<circle cx="446.08" cy="101.19" r="0.7" fill="#4a92c8"/>
<circle cx="432.52" cy="102.43" r="0.7" fill="#4a92c8"/>
<circle cx="439" cy="99.74" r="0.7" fill="#4a92c8"/>
<circle cx="447.66" cy="106.12" r="0.7" fill="#4a92c8"/>
<circle cx="433.25" cy="106.93" r="0.7" fill="#4a92c8"/>
<circle cx="440.34" cy="102.73" r="0.7" fill="#4a92c8"/>
<circle cx="447.35" cy="67.61" r="0.7" fill="#4a92c8"/>
<circle cx="440.55" cy="91.95" r="0.7" fill="#4a92c8"/>
<circle cx="436.25" cy="100.18" r="0.7" fill="#4a92c8"/>
<circle cx="450.64" cy="96.31" r="0.7" fill="#4a92c8"/>
<circle cx="440.23" cy="94.56" r="0.7" fill="#4a92c8"/>
<circle cx="439.65" cy="98.42" r="0.7" fill="#4a92c8"/>
<circle cx="439.46" cy="101.88" r="0.7" fill="#4a92c8"/>
<circle cx="437.51" cy="105.91" r="0.7" fill="#4a92c8"/>
<circle cx="431.65" cy="103.08" r="0.7" fill="#4a92c8"/>
<circle cx="441.97" cy="100.47" r="0.7" fill="#4a92c8"/>
<circle cx="450.58" cy="67.62" r="0.7" fill="#4a92c8"/>
<circle cx="445.52" cy="100.15" r="0.7" fill="#4a92c8"/>
<circle cx="429" cy="107.09" r="0.7" fill="#4a92c8"/>
<circle cx="440.63" cy="102.47" r="0.7" fill="#4a92c8"/>
<circle cx="444.81" cy="101.38" r="0.7" fill="#4a92c8"/>
<circle cx="423.31" cy="99.4" r="0.7" fill="#4a92c8"/>
<circle cx="445.18" cy="106.53" r="0.7" fill="#4a92c8"/>
<circle cx="447.28" cy="99.83" r="0.7" fill="#4a92c8"/>
<circle cx="452.28" cy="102.27" r="0.7" fill="#4a92c8"/>
<circle cx="435.44" cy="94.83" r="0.7" fill="#4a92c8"/>
<circle cx="442.97" cy="97.71" r="0.7" fill="#4a92c8"/>
<circle cx="450.56" cy="105.22" r="0.7" fill="#4a92c8"/>
<circle cx="445.16" cy="98.01" r="0.7" fill="#4a92c8"/>
<circle cx="431.06" cy="67.7" r="0.7" fill="#4a92c8"/>
<circle cx="445.43" cy="92.09" r="0.7" fill="#4a92c8"/>
<circle cx="436.48" cy="107.28" r="0.7" fill="#4a92c8"/>
<circle cx="437.02" cy="92.64" r="0.7" fill="#4a92c8"/>
<circle cx="444.94" cy="97.97" r="0.7" fill="#4a92c8"/>
<circle cx="449.2" cy="104.97" r="0.7" fill="#4a92c8"/>
<circle cx="448.47" cy="64.47" r="0.7" fill="#4a92c8"/>
<circle cx="435.96" cy="108.48" r="0.7" fill="#4a92c8"/>
<circle cx="436.6" cy="98.24" r="0.7" fill="#4a92c8"/>
<circle cx="444.07" cy="95.91" r="0.7" fill="#4a92c8"/>
<circle cx="428.61" cy="101.61" r="0.7" fill="#4a92c8"/>
<circle cx="433.64" cy="103.07" r="0.7" fill="#4a92c8"/>
<circle cx="442.67" cy="104.9" r="0.7" fill="#4a92c8"/>
<circle cx="433.71" cy="77.46" r="0.7" fill="#4a92c8"/>
<circle cx="443.1" cy="99.26" r="0.7" fill="#4a92c8"/>
<circle cx="445.43" cy="79.07" r="0.7" fill="#4a92c8"/>
<circle cx="450.63" cy="97.15" r="0.7" fill="#4a92c8"/>
<circle cx="432.4" cy="99.96" r="0.7" fill="#4a92c8"/>
<circle cx="441.61" cy="101.56" r="0.7" fill="#4a92c8"/>
<circle cx="446.78" cy="86.74" r="0.7" fill="#4a92c8"/>
<circle cx="423.89" cy="88.97" r="0.7" fill="#4a92c8"/>
<circle cx="436.04" cy="99.11" r="0.7" fill="#4a92c8"/>
<circle cx="436.51" cy="79.55" r="0.7" fill="#4a92c8"/>
<circle cx="438.7" cy="86.76" r="0.7" fill="#4a92c8"/>
<circle cx="449.29" cy="94.85" r="0.7" fill="#4a92c8"/>
<circle cx="451.26" cy="91.96" r="0.7" fill="#4a92c8"/>
<circle cx="433.12" cy="100.12" r="0.7" fill="#4a92c8"/>
<circle cx="447.82" cy="96.5" r="0.7" fill="#4a92c8"/>
<circle cx="450.36" cy="102.73" r="0.7" fill="#4a92c8"/>
<circle cx="435.61" cy="93.32" r="0.7" fill="#4a92c8"/>
<circle cx="441.11" cy="100" r="0.7" fill="#4a92c8"/>
<circle cx="439.94" cy="104.73" r="0.7" fill="#4a92c8"/>
<circle cx="440.13" cy="104.41" r="0.7" fill="#4a92c8"/>
<circle cx="439.26" cy="105.19" r="0.7" fill="#4a92c8"/>
<circle cx="440.95" cy="84.29" r="0.7" fill="#4a92c8"/>
<circle cx="451.63" cy="96.15" r="0.7" fill="#4a92c8"/>
<circle cx="435.44" cy="102.66" r="0.7" fill="#4a92c8"/>
<circle cx="433.17" cy="101.89" r="0.7" fill="#4a92c8"/>
<circle cx="439.89" cy="91.55" r="0.7" fill="#4a92c8"/>
<circle cx="438.77" cy="77.53" r="0.7" fill="#4a92c8"/>
<circle cx="444.58" cy="78.35" r="0.7" fill="#4a92c8"/>
<circle cx="440.92" cy="105.64" r="0.7" fill="#4a92c8"/>
<circle cx="449.37" cy="103.52" r="0.7" fill="#4a92c8"/>
<circle cx="449.82" cy="106.33" r="0.7" fill="#4a92c8"/>
<circle cx="435.87" cy="99.3" r="0.7" fill="#4a92c8"/>
<circle cx="437.18" cy="99.95" r="0.7" fill="#4a92c8"/>
<circle cx="433.59" cy="93.06" r="0.7" fill="#4a92c8"/>
<circle cx="434.49" cy="93.7" r="0.7" fill="#4a92c8"/>
<circle cx="446.4" cy="96.2" r="0.7" fill="#4a92c8"/>
<circle cx="435.65" cy="107.28" r="0.7" fill="#4a92c8"/>
<circle cx="449.43" cy="94.71" r="0.7" fill="#4a92c8"/>
<circle cx="446.48" cy="105.47" r="0.7" fill="#4a92c8"/>
<circle cx="448.32" cy="100.45" r="0.7" fill="#4a92c8"/>
<circle cx="441.21" cy="100.98" r="0.7" fill="#4a92c8"/>
<circle cx="446.69" cy="105.19" r="0.7" fill="#4a92c8"/>
<circle cx="441.94" cy="96.39" r="0.7" fill="#4a92c8"/>
<circle cx="438.49" cy="107.02" r="0.7" fill="#4a92c8"/>
<circle cx="447.61" cy="78.13" r="0.7" fill="#4a92c8"/>
<circle cx="434.01" cy="105.3" r="0.7" fill="#4a92c8"/>
<circle cx="445.97" cy="75" r="0.7" fill="#4a92c8"/>
<circle cx="451.27" cy="107.92" r="0.7" fill="#4a92c8"/>
<circle cx="449.42" cy="99.43" r="0.7" fill="#4a92c8"/>
<circle cx="434.8" cy="101.65" r="0.7" fill="#4a92c8"/>
<circle cx="447.66" cy="108.39" r="0.7" fill="#4a92c8"/>
<circle cx="444.51" cy="103.08" r="0.7" fill="#4a92c8"/>
<circle cx="453.68" cy="105.06" r="0.7" fill="#4a92c8"/>
<circle cx="437.06" cy="102.84" r="0.7" fill="#4a92c8"/>
<circle cx="449.24" cy="104.29" r="0.7" fill="#4a92c8"/>
<circle cx="434.84" cy="106.27" r="0.7" fill="#4a92c8"/>
<circle cx="443.95" cy="99.78" r="0.7" fill="#4a92c8"/>
<circle cx="434.52" cy="92.19" r="0.7" fill="#4a92c8"/>
<circle cx="438.4" cy="101.33" r="0.7" fill="#4a92c8"/>
<circle cx="446.57" cy="107.21" r="0.7" fill="#4a92c8"/>
<circle cx="451.69" cy="102.12" r="0.7" fill="#4a92c8"/>
<circle cx="438.54" cy="84.51" r="0.7" fill="#4a92c8"/>
<circle cx="445.21" cy="104.32" r="0.7" fill="#4a92c8"/>
<circle cx="433.42" cy="107.04" r="0.7" fill="#4a92c8"/>
<circle cx="439.86" cy="101.82" r="0.7" fill="#4a92c8"/>
<circle cx="448.61" cy="92.64" r="0.7" fill="#4a92c8"/>
<circle cx="471" cy="113.99" r="1.0" fill="#e0293d" stroke="#fff" stroke-width="0.3"/>
<circle cx="468.56" cy="117.07" r="1.0" fill="#e0293d" stroke="#fff" stroke-width="0.3"/>
<circle cx="467.15" cy="115.52" r="1.0" fill="#e0293d" stroke="#fff" stroke-width="0.3"/>
<circle cx="474.95" cy="116.81" r="1.0" fill="#e0293d" stroke="#fff" stroke-width="0.3"/>
<circle cx="475.05" cy="113.86" r="1.0" fill="#e0293d" stroke="#fff" stroke-width="0.3"/>
<circle cx="470.89" cy="115.28" r="1.0" fill="#e0293d" stroke="#fff" stroke-width="0.3"/>
<circle cx="468.31" cy="114.13" r="1.0" fill="#e0293d" stroke="#fff" stroke-width="0.3"/>
<circle cx="476.43" cy="114.77" r="1.0" fill="#e0293d" stroke="#fff" stroke-width="0.3"/>
<circle cx="466.51" cy="117.38" r="1.0" fill="#e0293d" stroke="#fff" stroke-width="0.3"/>
<circle cx="467.81" cy="119.14" r="1.0" fill="#e0293d" stroke="#fff" stroke-width="0.3"/>
<circle cx="472.23" cy="113.61" r="1.0" fill="#e0293d" stroke="#fff" stroke-width="0.3"/>
<circle cx="472.31" cy="118.5" r="1.0" fill="#e0293d" stroke="#fff" stroke-width="0.3"/>
<circle cx="475.26" cy="114.63" r="1.0" fill="#e0293d" stroke="#fff" stroke-width="0.3"/>
<circle cx="472.12" cy="118.1" r="1.0" fill="#e0293d" stroke="#fff" stroke-width="0.3"/>
<circle cx="467.66" cy="116.74" r="1.0" fill="#e0293d" stroke="#fff" stroke-width="0.3"/>
<circle cx="471.05" cy="117.24" r="1.0" fill="#e0293d" stroke="#fff" stroke-width="0.3"/>
<circle cx="470.59" cy="114.78" r="1.0" fill="#e0293d" stroke="#fff" stroke-width="0.3"/>
<circle cx="468.49" cy="118.71" r="1.0" fill="#e0293d" stroke="#fff" stroke-width="0.3"/>
<circle cx="469.7" cy="118.49" r="1.0" fill="#e0293d" stroke="#fff" stroke-width="0.3"/>
<circle cx="468.72" cy="116.74" r="1.0" fill="#e0293d" stroke="#fff" stroke-width="0.3"/>
<circle cx="471.03" cy="114.73" r="1.0" fill="#e0293d" stroke="#fff" stroke-width="0.3"/>
<circle cx="470.21" cy="118.15" r="1.0" fill="#e0293d" stroke="#fff" stroke-width="0.3"/>
<circle cx="466.65" cy="116.64" r="1.0" fill="#e0293d" stroke="#fff" stroke-width="0.3"/>
<circle cx="473.55" cy="119.44" r="1.0" fill="#e0293d" stroke="#fff" stroke-width="0.3"/>
<circle cx="466.52" cy="116.08" r="1.0" fill="#e0293d" stroke="#fff" stroke-width="0.3"/>
<circle cx="470.55" cy="112.81" r="1.0" fill="#e0293d" stroke="#fff" stroke-width="0.3"/>
<circle cx="468.85" cy="118.04" r="1.0" fill="#e0293d" stroke="#fff" stroke-width="0.3"/>
<circle cx="468.65" cy="118.47" r="1.0" fill="#e0293d" stroke="#fff" stroke-width="0.3"/>
<circle cx="466.47" cy="114.95" r="1.0" fill="#e0293d" stroke="#fff" stroke-width="0.3"/>
<circle cx="466.53" cy="113.75" r="1.0" fill="#e0293d" stroke="#fff" stroke-width="0.3"/>
<circle cx="471.03" cy="118.9" r="1.0" fill="#e0293d" stroke="#fff" stroke-width="0.3"/>
<circle cx="467.11" cy="116.54" r="1.0" fill="#e0293d" stroke="#fff" stroke-width="0.3"/>
<circle cx="472.88" cy="114.52" r="1.0" fill="#e0293d" stroke="#fff" stroke-width="0.3"/>
<circle cx="470.23" cy="115.79" r="1.0" fill="#e0293d" stroke="#fff" stroke-width="0.3"/>
<circle cx="476.6" cy="115.34" r="1.0" fill="#e0293d" stroke="#fff" stroke-width="0.3"/>
<circle cx="469.39" cy="116.31" r="1.0" fill="#e0293d" stroke="#fff" stroke-width="0.3"/>
<circle cx="467.81" cy="113.23" r="1.0" fill="#e0293d" stroke="#fff" stroke-width="0.3"/>
<circle cx="470.82" cy="118.07" r="1.0" fill="#e0293d" stroke="#fff" stroke-width="0.3"/>
<circle cx="466.64" cy="118.39" r="1.0" fill="#e0293d" stroke="#fff" stroke-width="0.3"/>
<circle cx="467.21" cy="119.04" r="1.0" fill="#e0293d" stroke="#fff" stroke-width="0.3"/>
<circle cx="473.62" cy="115.22" r="1.0" fill="#e0293d" stroke="#fff" stroke-width="0.3"/>
<circle cx="467.58" cy="119.5" r="1.0" fill="#e0293d" stroke="#fff" stroke-width="0.3"/>
<circle cx="467.52" cy="116.02" r="1.0" fill="#e0293d" stroke="#fff" stroke-width="0.3"/>
<circle cx="471" cy="116.73" r="1.0" fill="#e0293d" stroke="#fff" stroke-width="0.3"/>
<circle cx="470.65" cy="117.43" r="1.0" fill="#e0293d" stroke="#fff" stroke-width="0.3"/>
<circle cx="476.64" cy="116.05" r="1.0" fill="#e0293d" stroke="#fff" stroke-width="0.3"/>
<circle cx="470.85" cy="114.89" r="1.0" fill="#e0293d" stroke="#fff" stroke-width="0.3"/>
<circle cx="476.69" cy="114.7" r="1.0" fill="#e0293d" stroke="#fff" stroke-width="0.3"/>
<circle cx="468.5" cy="116.71" r="1.0" fill="#e0293d" stroke="#fff" stroke-width="0.3"/>
<circle cx="467.6" cy="112.91" r="1.0" fill="#e0293d" stroke="#fff" stroke-width="0.3"/>
<circle cx="470.35" cy="115.73" r="1.0" fill="#e0293d" stroke="#fff" stroke-width="0.3"/>
<circle cx="471.87" cy="117.28" r="1.0" fill="#e0293d" stroke="#fff" stroke-width="0.3"/>
<circle cx="468.92" cy="116.04" r="1.0" fill="#e0293d" stroke="#fff" stroke-width="0.3"/>
<circle cx="468.54" cy="116.9" r="1.0" fill="#e0293d" stroke="#fff" stroke-width="0.3"/>
<circle cx="477.18" cy="114.21" r="1.0" fill="#e0293d" stroke="#fff" stroke-width="0.3"/>
<circle cx="466.87" cy="116.44" r="1.0" fill="#e0293d" stroke="#fff" stroke-width="0.3"/>
<circle cx="477.01" cy="116.44" r="1.0" fill="#e0293d" stroke="#fff" stroke-width="0.3"/>
<circle cx="477.53" cy="116.32" r="1.0" fill="#e0293d" stroke="#fff" stroke-width="0.3"/>
<circle cx="471.14" cy="116.52" r="1.0" fill="#e0293d" stroke="#fff" stroke-width="0.3"/>
<circle cx="469.95" cy="118.3" r="1.0" fill="#e0293d" stroke="#fff" stroke-width="0.3"/>
<circle cx="470.54" cy="117.16" r="1.0" fill="#e0293d" stroke="#fff" stroke-width="0.3"/>
<circle cx="466.38" cy="117.7" r="1.0" fill="#e0293d" stroke="#fff" stroke-width="0.3"/>
<circle cx="468.27" cy="119.48" r="1.0" fill="#e0293d" stroke="#fff" stroke-width="0.3"/>
<circle cx="467.39" cy="113.56" r="1.0" fill="#e0293d" stroke="#fff" stroke-width="0.3"/>
<circle cx="468.19" cy="118.01" r="1.0" fill="#e0293d" stroke="#fff" stroke-width="0.3"/>
<circle cx="467.09" cy="118.17" r="1.0" fill="#e0293d" stroke="#fff" stroke-width="0.3"/>
<circle cx="472.68" cy="115.07" r="1.0" fill="#e0293d" stroke="#fff" stroke-width="0.3"/>
<circle cx="470.09" cy="119.43" r="1.0" fill="#e0293d" stroke="#fff" stroke-width="0.3"/>
<circle cx="477.2" cy="119.38" r="1.0" fill="#e0293d" stroke="#fff" stroke-width="0.3"/>
<circle cx="472.05" cy="118.34" r="1.0" fill="#e0293d" stroke="#fff" stroke-width="0.3"/>
<circle cx="471.53" cy="115.71" r="1.0" fill="#e0293d" stroke="#fff" stroke-width="0.3"/>
<circle cx="470.15" cy="118.27" r="1.0" fill="#e0293d" stroke="#fff" stroke-width="0.3"/>
<circle cx="470.95" cy="116.48" r="1.0" fill="#e0293d" stroke="#fff" stroke-width="0.3"/>
<circle cx="472.16" cy="118.38" r="1.0" fill="#e0293d" stroke="#fff" stroke-width="0.3"/>
<circle cx="474.26" cy="116.26" r="1.0" fill="#e0293d" stroke="#fff" stroke-width="0.3"/>
<circle cx="475.82" cy="116.92" r="1.0" fill="#e0293d" stroke="#fff" stroke-width="0.3"/>
<circle cx="470.52" cy="113.9" r="1.0" fill="#e0293d" stroke="#fff" stroke-width="0.3"/>
<circle cx="470.93" cy="117.43" r="1.0" fill="#e0293d" stroke="#fff" stroke-width="0.3"/>
<circle cx="468.62" cy="113" r="1.0" fill="#e0293d" stroke="#fff" stroke-width="0.3"/>
<circle cx="471.79" cy="114.63" r="1.0" fill="#e0293d" stroke="#fff" stroke-width="0.3"/>
<circle cx="469.26" cy="116" r="1.0" fill="#e0293d" stroke="#fff" stroke-width="0.3"/>
<circle cx="473.74" cy="118.35" r="1.0" fill="#e0293d" stroke="#fff" stroke-width="0.3"/>
<circle cx="467.07" cy="117.62" r="1.0" fill="#e0293d" stroke="#fff" stroke-width="0.3"/>
<circle cx="474.46" cy="114.25" r="1.0" fill="#e0293d" stroke="#fff" stroke-width="0.3"/>
<circle cx="466.66" cy="114.97" r="1.0" fill="#e0293d" stroke="#fff" stroke-width="0.3"/>
<circle cx="474.75" cy="119.17" r="1.0" fill="#e0293d" stroke="#fff" stroke-width="0.3"/>
<circle cx="467.75" cy="117.98" r="1.0" fill="#e0293d" stroke="#fff" stroke-width="0.3"/>
<circle cx="468.38" cy="113.79" r="1.0" fill="#e0293d" stroke="#fff" stroke-width="0.3"/>
<circle cx="467.37" cy="114.47" r="1.0" fill="#e0293d" stroke="#fff" stroke-width="0.3"/>
<circle cx="468.34" cy="115" r="1.0" fill="#e0293d" stroke="#fff" stroke-width="0.3"/>
<circle cx="469.04" cy="115.63" r="1.0" fill="#e0293d" stroke="#fff" stroke-width="0.3"/>
<circle cx="472.45" cy="118.76" r="1.0" fill="#e0293d" stroke="#fff" stroke-width="0.3"/>
<circle cx="467.39" cy="113.95" r="1.0" fill="#e0293d" stroke="#fff" stroke-width="0.3"/>
<circle cx="467.03" cy="117.5" r="1.0" fill="#e0293d" stroke="#fff" stroke-width="0.3"/>
<circle cx="466.39" cy="119.52" r="1.0" fill="#e0293d" stroke="#fff" stroke-width="0.3"/>
<circle cx="475.19" cy="115.11" r="1.0" fill="#e0293d" stroke="#fff" stroke-width="0.3"/>
<circle cx="472.23" cy="119.54" r="1.0" fill="#e0293d" stroke="#fff" stroke-width="0.3"/>
<circle cx="469.95" cy="115.64" r="1.0" fill="#e0293d" stroke="#fff" stroke-width="0.3"/>
<circle cx="467.74" cy="114.74" r="1.0" fill="#e0293d" stroke="#fff" stroke-width="0.3"/>
<circle cx="468.6" cy="118.44" r="1.0" fill="#e0293d" stroke="#fff" stroke-width="0.3"/>
<circle cx="467.13" cy="115.01" r="1.0" fill="#e0293d" stroke="#fff" stroke-width="0.3"/>
<circle cx="469.79" cy="113.32" r="1.0" fill="#e0293d" stroke="#fff" stroke-width="0.3"/>
<circle cx="469.73" cy="117.41" r="1.0" fill="#e0293d" stroke="#fff" stroke-width="0.3"/>
<circle cx="470.52" cy="117.8" r="1.0" fill="#e0293d" stroke="#fff" stroke-width="0.3"/>
<circle cx="472.34" cy="114.53" r="1.0" fill="#e0293d" stroke="#fff" stroke-width="0.3"/>
<circle cx="472.65" cy="114.23" r="1.0" fill="#e0293d" stroke="#fff" stroke-width="0.3"/>
<circle cx="473.49" cy="118.82" r="1.0" fill="#e0293d" stroke="#fff" stroke-width="0.3"/>
<circle cx="471.59" cy="119.09" r="1.0" fill="#e0293d" stroke="#fff" stroke-width="0.3"/>
<circle cx="467.83" cy="113.49" r="1.0" fill="#e0293d" stroke="#fff" stroke-width="0.3"/>
<circle cx="470.09" cy="119.36" r="1.0" fill="#e0293d" stroke="#fff" stroke-width="0.3"/>
<circle cx="472.17" cy="113.16" r="1.0" fill="#e0293d" stroke="#fff" stroke-width="0.3"/>
<circle cx="474" cy="119.06" r="1.0" fill="#e0293d" stroke="#fff" stroke-width="0.3"/>
<circle cx="467.17" cy="115.55" r="1.0" fill="#e0293d" stroke="#fff" stroke-width="0.3"/>
<circle cx="471.95" cy="118.6" r="1.0" fill="#e0293d" stroke="#fff" stroke-width="0.3"/>
<circle cx="467.35" cy="118.95" r="1.0" fill="#e0293d" stroke="#fff" stroke-width="0.3"/>
<circle cx="470.16" cy="114.88" r="1.0" fill="#e0293d" stroke="#fff" stroke-width="0.3"/>
<circle cx="472.04" cy="114.94" r="1.0" fill="#e0293d" stroke="#fff" stroke-width="0.3"/>
<circle cx="471.53" cy="118.1" r="1.0" fill="#e0293d" stroke="#fff" stroke-width="0.3"/>
<circle cx="470" cy="115.61" r="1.0" fill="#e0293d" stroke="#fff" stroke-width="0.3"/>
<circle cx="474.42" cy="118.17" r="1.0" fill="#e0293d" stroke="#fff" stroke-width="0.3"/>
<circle cx="470.02" cy="117.59" r="1.0" fill="#e0293d" stroke="#fff" stroke-width="0.3"/>
<circle cx="467.48" cy="118.62" r="1.0" fill="#e0293d" stroke="#fff" stroke-width="0.3"/>
<circle cx="466.92" cy="119.51" r="1.0" fill="#e0293d" stroke="#fff" stroke-width="0.3"/>
<circle cx="470.7" cy="113.75" r="1.0" fill="#e0293d" stroke="#fff" stroke-width="0.3"/>
<circle cx="468.52" cy="119.43" r="1.0" fill="#e0293d" stroke="#fff" stroke-width="0.3"/>
<circle cx="468.51" cy="114.19" r="1.0" fill="#e0293d" stroke="#fff" stroke-width="0.3"/>
<circle cx="466.42" cy="117.75" r="1.0" fill="#e0293d" stroke="#fff" stroke-width="0.3"/>
<circle cx="466.4" cy="117.76" r="1.0" fill="#e0293d" stroke="#fff" stroke-width="0.3"/>
<circle cx="473.31" cy="119.51" r="1.0" fill="#e0293d" stroke="#fff" stroke-width="0.3"/>
<circle cx="471.53" cy="115.1" r="1.0" fill="#e0293d" stroke="#fff" stroke-width="0.3"/>
<circle cx="471.91" cy="112.79" r="1.0" fill="#e0293d" stroke="#fff" stroke-width="0.3"/>
<circle cx="466.38" cy="117.85" r="1.0" fill="#e0293d" stroke="#fff" stroke-width="0.3"/>
<circle cx="475.07" cy="116.66" r="1.0" fill="#e0293d" stroke="#fff" stroke-width="0.3"/>
<circle cx="467.15" cy="113.48" r="1.0" fill="#e0293d" stroke="#fff" stroke-width="0.3"/>
<circle cx="471.45" cy="118.41" r="1.0" fill="#e0293d" stroke="#fff" stroke-width="0.3"/>
<circle cx="476.27" cy="117.12" r="1.0" fill="#e0293d" stroke="#fff" stroke-width="0.3"/>
<circle cx="471.39" cy="114.34" r="1.0" fill="#e0293d" stroke="#fff" stroke-width="0.3"/>
<circle cx="470.9" cy="115.09" r="1.0" fill="#e0293d" stroke="#fff" stroke-width="0.3"/>
<circle cx="467.23" cy="115.63" r="1.0" fill="#e0293d" stroke="#fff" stroke-width="0.3"/>
<circle cx="479.52" cy="119.24" r="1.0" fill="#e0293d" stroke="#fff" stroke-width="0.3"/>
<circle cx="478.63" cy="114.03" r="1.0" fill="#e0293d" stroke="#fff" stroke-width="0.3"/>
<circle cx="467.68" cy="116.96" r="1.0" fill="#e0293d" stroke="#fff" stroke-width="0.3"/>
<circle cx="474.21" cy="114.86" r="1.0" fill="#e0293d" stroke="#fff" stroke-width="0.3"/>
<circle cx="473.62" cy="113.89" r="1.0" fill="#e0293d" stroke="#fff" stroke-width="0.3"/>
<circle cx="468.31" cy="117.42" r="1.0" fill="#e0293d" stroke="#fff" stroke-width="0.3"/>
<circle cx="466.68" cy="116.76" r="1.0" fill="#e0293d" stroke="#fff" stroke-width="0.3"/>
<circle cx="474.17" cy="114.69" r="1.0" fill="#e0293d" stroke="#fff" stroke-width="0.3"/>
<circle cx="468.81" cy="116.61" r="1.0" fill="#e0293d" stroke="#fff" stroke-width="0.3"/>
<circle cx="466.46" cy="114.83" r="1.0" fill="#e0293d" stroke="#fff" stroke-width="0.3"/>
<circle cx="469.16" cy="114.15" r="1.0" fill="#e0293d" stroke="#fff" stroke-width="0.3"/>
<circle cx="471.15" cy="119.52" r="1.0" fill="#e0293d" stroke="#fff" stroke-width="0.3"/>
<circle cx="469.34" cy="117.71" r="1.0" fill="#e0293d" stroke="#fff" stroke-width="0.3"/>
<circle cx="469.85" cy="115.27" r="1.0" fill="#e0293d" stroke="#fff" stroke-width="0.3"/>
<circle cx="470.02" cy="118.93" r="1.0" fill="#e0293d" stroke="#fff" stroke-width="0.3"/>
<circle cx="468.11" cy="117.33" r="1.0" fill="#e0293d" stroke="#fff" stroke-width="0.3"/>
<circle cx="479.12" cy="115.11" r="1.0" fill="#e0293d" stroke="#fff" stroke-width="0.3"/>
<circle cx="476.93" cy="115.29" r="1.0" fill="#e0293d" stroke="#fff" stroke-width="0.3"/>
<circle cx="470.61" cy="118.91" r="1.0" fill="#e0293d" stroke="#fff" stroke-width="0.3"/>
<circle cx="476.79" cy="118.99" r="1.0" fill="#e0293d" stroke="#fff" stroke-width="0.3"/>
<circle cx="466.78" cy="116.61" r="1.0" fill="#e0293d" stroke="#fff" stroke-width="0.3"/>
<circle cx="468.57" cy="91.21" r="0.7" fill="#e85868"/>
<circle cx="469.62" cy="110.37" r="0.7" fill="#e85868"/>
<circle cx="466.98" cy="107.09" r="0.7" fill="#e85868"/>
<circle cx="469.27" cy="107.18" r="0.7" fill="#e85868"/>
<circle cx="469.41" cy="112" r="0.7" fill="#e85868"/>
<circle cx="468.37" cy="97.46" r="0.7" fill="#e85868"/>
<circle cx="468.03" cy="110.76" r="0.7" fill="#e85868"/>
<circle cx="470.77" cy="108.12" r="0.7" fill="#e85868"/>
<circle cx="468.23" cy="108.63" r="0.7" fill="#e85868"/>
<circle cx="470.83" cy="92.16" r="0.7" fill="#e85868"/>
<circle cx="471.16" cy="96.02" r="0.7" fill="#e85868"/>
<circle cx="469.87" cy="111.48" r="0.7" fill="#e85868"/>
<circle cx="471.11" cy="110.98" r="0.7" fill="#e85868"/>
<circle cx="470.15" cy="108.78" r="0.7" fill="#e85868"/>
<circle cx="466.85" cy="103.4" r="0.7" fill="#e85868"/>
<circle cx="467.87" cy="93.91" r="0.7" fill="#e85868"/>
<circle cx="467.53" cy="103.16" r="0.7" fill="#e85868"/>
</g>
<circle cx="434.21" cy="36.29" r="0.8" fill="#a0b8cc"/>
<circle cx="412.57" cy="102.13" r="0.8" fill="#a0b8cc"/>
<line x1="409.4" y1="23" x2="409.4" y2="127.4" stroke="#231f20" stroke-width="1.3"/>
<line x1="408.75" y1="126.8" x2="512.9" y2="126.8" stroke="#231f20" stroke-width="1.3"/>
<line x1="406.4" y1="122" x2="409.4" y2="122" stroke="#231f20" stroke-width="1"/>
<text x="403" y="124.9" font-size="8" text-anchor="end" fill="#231f20">0</text>
<line x1="406.4" y1="103.08" x2="409.4" y2="103.08" stroke="#231f20" stroke-width="1"/>
<text x="403" y="105.98" font-size="8" text-anchor="end" fill="#231f20">10</text>
<line x1="406.4" y1="84.16" x2="409.4" y2="84.16" stroke="#231f20" stroke-width="1"/>
<text x="403" y="87.06" font-size="8" text-anchor="end" fill="#231f20">20</text>
<line x1="406.4" y1="65.24" x2="409.4" y2="65.24" stroke="#231f20" stroke-width="1"/>
<text x="403" y="68.14" font-size="8" text-anchor="end" fill="#231f20">30</text>
<line x1="406.4" y1="46.32" x2="409.4" y2="46.32" stroke="#231f20" stroke-width="1"/>
<text x="403" y="49.22" font-size="8" text-anchor="end" fill="#231f20">40</text>
<line x1="406.4" y1="27.4" x2="409.4" y2="27.4" stroke="#231f20" stroke-width="1"/>
<text x="403" y="30.3" font-size="8" text-anchor="end" fill="#231f20">50</text>
<line x1="414.45" y1="126.8" x2="414.45" y2="130" stroke="#231f20" stroke-width="1"/>
<line x1="437.98" y1="126.8" x2="437.98" y2="130" stroke="#231f20" stroke-width="1"/>
<line x1="461.5" y1="126.8" x2="461.5" y2="130" stroke="#231f20" stroke-width="1"/>
<line x1="485.02" y1="126.8" x2="485.02" y2="130" stroke="#231f20" stroke-width="1"/>
<line x1="508.55" y1="126.8" x2="508.55" y2="130" stroke="#231f20" stroke-width="1"/>
<text x="414.45" y="140.5" font-size="8" text-anchor="middle" fill="#231f20">−5</text>
<text x="461.5" y="140.5" font-size="8" text-anchor="middle" fill="#231f20">0</text>
<text x="508.55" y="140.5" font-size="8" text-anchor="middle" fill="#231f20">5</text>
<line x1="461.5" y1="23" x2="461.5" y2="126" stroke="#3f2336" stroke-width="0.9" stroke-dasharray="1.6,1.6"/>
<text x="430" y="153.7" font-size="9" textLength="62.4" lengthAdjust="spacingAndGlyphs" fill="#231f20" stroke="#231f20" stroke-width="0.2">log<tspan font-size="6" dy="2">2</tspan><tspan dy="-2">fold (R320*/WT)</tspan></text>
<text transform="translate(387.4,74.85) rotate(-90)" x="0" y="0" font-size="8.5" text-anchor="middle" textLength="31.5" lengthAdjust="spacingAndGlyphs" fill="#231f20" stroke="#231f20" stroke-width="0.2">−log<tspan font-size="5.5" dy="2">10</tspan><tspan dy="-2"> FDR</tspan></text>
<text x="466.7" y="35.9" font-size="8.3" fill="#231f20">R320<tspan font-size="6" dy="-0.8">*</tspan><tspan dy="0.8">/WT</tspan></text>
<circle cx="464.8" cy="42.2" r="1.5" fill="#b01c3c"/>
<text x="469.8" y="44.4" font-size="7" fill="#231f20">up</text>
<circle cx="485.6" cy="42.2" r="1.5" fill="#2f6fa8"/>
<text x="490.2" y="44.4" font-size="7" fill="#231f20">down</text>
<text x="416.8" y="54.1" font-size="8" fill="#3a87c4">1,061</text>
<text x="484.5" y="106.6" font-size="8" fill="#d2343e">129</text>
<line x1="59.05" y1="181.5" x2="59.05" y2="303.4" stroke="#231f20" stroke-width="1.6"/>
<line x1="58.25" y1="302.65" x2="156" y2="302.65" stroke="#231f20" stroke-width="1.6"/>
<line x1="56" y1="186.8" x2="59" y2="186.8" stroke="#231f20" stroke-width="1.1"/>
<line x1="56" y1="214.3" x2="59" y2="214.3" stroke="#231f20" stroke-width="1.1"/>
<line x1="56" y1="241.8" x2="59" y2="241.8" stroke="#231f20" stroke-width="1.1"/>
<line x1="56" y1="269.3" x2="59" y2="269.3" stroke="#231f20" stroke-width="1.1"/>
<line x1="56" y1="296.8" x2="59" y2="296.8" stroke="#231f20" stroke-width="1.1"/>
<text x="52.8" y="189.7" font-size="8" text-anchor="end" fill="#231f20">2</text>
<text x="52.8" y="244.7" font-size="8" text-anchor="end" fill="#231f20">0</text>
<text x="52.8" y="299.7" font-size="8" text-anchor="end" fill="#231f20">−2</text>
<line x1="76.8" y1="302.6" x2="76.8" y2="305.6" stroke="#231f20" stroke-width="1.1"/>
<line x1="107.3" y1="302.6" x2="107.3" y2="305.6" stroke="#231f20" stroke-width="1.1"/>
<line x1="137.7" y1="302.6" x2="137.7" y2="305.6" stroke="#231f20" stroke-width="1.1"/>
<text x="76.8" y="316.5" font-size="8" text-anchor="middle" fill="#231f20">up</text>
<text x="107.3" y="316.5" font-size="8" text-anchor="middle" fill="#231f20">nc</text>
<text x="137.6" y="316.5" font-size="8" text-anchor="middle" fill="#231f20">down</text>
<line x1="64.1" y1="320.9" x2="153" y2="320.9" stroke="#6d6e71" stroke-width="1.3"/>
<text x="107.1" y="331.2" font-size="8" text-anchor="middle" fill="#231f20">RUNX1 at pro.</text>
<text transform="translate(26.9,241.9) rotate(-90)" font-size="8.3" text-anchor="middle" textLength="61.8" lengthAdjust="spacingAndGlyphs" fill="#231f20" stroke="#231f20" stroke-width="0.2">log<tspan font-size="5.5" dy="1.5">2</tspan><tspan dy="-1.5"> fold of RNA-exp.</tspan></text>
<text transform="translate(37.2,242) rotate(-90)" font-size="8.3" text-anchor="middle" textLength="36.3" lengthAdjust="spacingAndGlyphs" fill="#231f20" stroke="#231f20" stroke-width="0.2">(R320*/WT)</text>
<line x1="76.8" y1="195.2" x2="76.8" y2="254.3" stroke="#3d3d3f" stroke-width="1.1"/>
<line x1="107.1" y1="214" x2="107.1" y2="271.3" stroke="#3d3d3f" stroke-width="1.1"/>
<line x1="137.7" y1="202.4" x2="137.7" y2="303" stroke="#3d3d3f" stroke-width="1.1"/>
<rect x="65.9" y="219.8" width="22.2" height="18" fill="#c8102e"/>
<line x1="65.9" y1="230.9" x2="88.1" y2="230.9" stroke="#5a0a14" stroke-width="1"/>
<rect x="96.4" y="235.2" width="21.9" height="14.2" fill="#c9c9cb"/>
<line x1="96.4" y1="242.1" x2="118.3" y2="242.1" stroke="#58595b" stroke-width="1.1"/>
<rect x="127.1" y="245.8" width="21.6" height="36.1" fill="#29a3df"/>
<line x1="127.1" y1="258.2" x2="148.7" y2="258.2" stroke="#1b2f45" stroke-width="1.1"/>
<line x1="59.5" y1="242" x2="156" y2="242" stroke="#4f2c55" stroke-width="1.1" stroke-dasharray="1.6,2.1"/>
<text x="69.9" y="190.8" font-size="8" fill="#231f20"><tspan font-style="italic">P</tspan> = 1.9e-14</text>
<line x1="72.4" y1="193.1" x2="111.6" y2="193.1" stroke="#231f20" stroke-width="1"/>
<text x="102.3" y="178.6" font-size="8" fill="#231f20"><tspan font-style="italic">P</tspan> = 4.2e-34</text>
<line x1="103.4" y1="181.3" x2="142.6" y2="181.3" stroke="#231f20" stroke-width="1"/>
<defs><linearGradient id="cb" x1="0" x2="1" y1="0" y2="0"><stop offset="0" stop-color="#d2472a"/><stop offset="0.2" stop-color="#f08a3e"/><stop offset="0.42" stop-color="#fde0b0"/><stop offset="0.55" stop-color="#ffffff"/><stop offset="0.7" stop-color="#cfe2f3"/><stop offset="0.88" stop-color="#6ea2d6"/><stop offset="1" stop-color="#3b70b5"/></linearGradient></defs>
<rect x="269.1" y="179" width="31.7" height="6.5" rx="1.6" fill="url(#cb)"/>
<text x="263.9" y="184.3" font-size="6" text-anchor="middle" fill="#231f20">4</text>
<text x="304.2" y="184.3" font-size="6" fill="#231f20">−4</text>
<text x="288.4" y="200.4" font-size="8" text-anchor="middle" fill="#231f20">log<tspan font-size="5.5" dy="2">2</tspan><tspan dy="-2">enrichment</tspan></text>
<rect x="257.1" y="204.9" width="21.27" height="21.25" fill="#fef2d8"/>
<rect x="278.07" y="204.9" width="21.27" height="21.25" fill="#fdd58a"/>
<rect x="299.04" y="204.9" width="21.27" height="21.25" fill="#f5a35a"/>
<rect x="257.1" y="225.85" width="21.27" height="21.25" fill="#f6a04f"/>
<rect x="278.07" y="225.85" width="21.27" height="21.25" fill="#f6a352"/>
<rect x="299.04" y="225.85" width="21.27" height="21.25" fill="#fdcf7b"/>
<rect x="257.1" y="246.8" width="21.27" height="21.25" fill="#dcebf6"/>
<rect x="278.07" y="246.8" width="21.27" height="21.25" fill="#eef6fc"/>
<rect x="299.04" y="246.8" width="21.27" height="21.25" fill="#e3eef7"/>
<rect x="257.1" y="267.75" width="21.27" height="21.25" fill="#5d9bd3"/>
<rect x="278.07" y="267.75" width="21.27" height="21.25" fill="#4a82c6"/>
<rect x="299.04" y="267.75" width="21.27" height="21.25" fill="#8ec3e6"/>
<rect x="257.1" y="288.7" width="21.27" height="21.25" fill="#74afdd"/>
<rect x="278.07" y="288.7" width="21.27" height="21.25" fill="#5e98d2"/>
<rect x="299.04" y="288.7" width="21.27" height="21.25" fill="#4a80c3"/>
<text x="253.8" y="218.28" font-size="8" text-anchor="end" fill="#231f20">enhancer</text>
<text x="253.8" y="239.22" font-size="8" text-anchor="end" fill="#231f20">promoter</text>
<text x="253.8" y="260.18" font-size="8" text-anchor="end" fill="#231f20">transcribed</text>
<text x="253.8" y="281.12" font-size="8" text-anchor="end" fill="#231f20">repressive</text>
<text x="253.8" y="302.07" font-size="8" text-anchor="end" fill="#231f20">hetero.</text>
<text x="266.5" y="318.9" font-size="8" text-anchor="middle" fill="#c8203a">up</text>
<text x="287.5" y="318.9" font-size="8" text-anchor="middle" fill="#c4c8d0">nc</text>
<text x="308.5" y="318.9" font-size="8" text-anchor="middle" fill="#4aa0d8">dn</text>
<path d="M409.73,295.92 409.84,295.92 409.95,295.92 410.05,295.92 410.16,295.91 410.27,295.91 410.38,295.91 410.49,295.91 410.6,295.9 410.71,295.9 410.82,295.9 410.92,295.9 411.03,295.89 411.14,295.89 411.25,295.89 411.36,295.88 411.47,295.88 411.58,295.88 411.69,295.88 411.79,295.87 411.9,295.87 412.01,295.87 412.12,295.86 412.23,295.86 412.34,295.86 412.45,295.85 412.55,295.85 412.66,295.84 412.77,295.84 412.88,295.84 412.99,295.83 413.1,295.83 413.21,295.83 413.32,295.82 413.42,295.82 413.53,295.81 413.64,295.81 413.75,295.81 413.86,295.8 413.97,295.8 414.08,295.79 414.19,295.79 414.29,295.78 414.4,295.78 414.51,295.77 414.62,295.77 414.73,295.76 414.84,295.76 414.95,295.75 415.05,295.75 415.16,295.74 415.27,295.74 415.38,295.73 415.49,295.73 415.6,295.72 415.71,295.72 415.82,295.71 415.92,295.7 416.03,295.7 416.14,295.69 416.25,295.69 416.36,295.68 416.47,295.67 416.58,295.67 416.69,295.66 416.79,295.66 416.9,295.65 417.01,295.64 417.12,295.63 417.23,295.63 417.34,295.62 417.45,295.61 417.55,295.61 417.66,295.6 417.77,295.59 417.88,295.58 417.99,295.58 418.1,295.57 418.21,295.56 418.32,295.55 418.42,295.54 418.53,295.54 418.64,295.53 418.75,295.52 418.86,295.51 418.97,295.5 419.08,295.49 419.19,295.49 419.29,295.48 419.4,295.47 419.51,295.46 419.62,295.45 419.73,295.44 419.84,295.43 419.95,295.42 420.06,295.41 420.16,295.4 420.27,295.39 420.38,295.38 420.49,295.37 420.6,295.36 420.71,295.35 420.82,295.34 420.92,295.33 421.03,295.31 421.14,295.3 421.25,295.29 421.36,295.28 421.47,295.27 421.58,295.26 421.69,295.24 421.79,295.23 421.9,295.22 422.01,295.21 422.12,295.2 422.23,295.18 422.34,295.17 422.45,295.16 422.56,295.14 422.66,295.13 422.77,295.12 422.88,295.1 422.99,295.09 423.1,295.08 423.21,295.06 423.32,295.05 423.42,295.03 423.53,295.02 423.64,295 423.75,294.99 423.86,294.97 423.97,294.96 424.08,294.94 424.19,294.93 424.29,294.91 424.4,294.89 424.51,294.88 424.62,294.86 424.73,294.85 424.84,294.83 424.95,294.81 425.06,294.8 425.16,294.78 425.27,294.76 425.38,294.74 425.49,294.73 425.6,294.71 425.71,294.69 425.82,294.67 425.92,294.65 426.03,294.63 426.14,294.62 426.25,294.6 426.36,294.58 426.47,294.56 426.58,294.54 426.69,294.52 426.79,294.5 426.9,294.48 427.01,294.46 427.12,294.44 427.23,294.42 427.34,294.4 427.45,294.37 427.56,294.35 427.66,294.33 427.77,294.31 427.88,294.29 427.99,294.27 428.1,294.24 428.21,294.22 428.32,294.2 428.42,294.17 428.53,294.15 428.64,294.13 428.75,294.1 428.86,294.08 428.97,294.06 429.08,294.03 429.19,294.01 429.29,293.98 429.4,293.96 429.51,293.93 429.62,293.91 429.73,293.88 429.84,293.86 429.95,293.83 430.06,293.81 430.16,293.78 430.27,293.75 430.38,293.73 430.49,293.7 430.6,293.67 430.71,293.65 430.82,293.62 430.93,293.59 431.03,293.56 431.14,293.53 431.25,293.51 431.36,293.48 431.47,293.45 431.58,293.42 431.69,293.39 431.79,293.36 431.9,293.33 432.01,293.3 432.12,293.27 432.23,293.24 432.34,293.21 432.45,293.18 432.56,293.15 432.66,293.12 432.77,293.09 432.88,293.06 432.99,293.03 433.1,293 433.21,292.96 433.32,292.93 433.43,292.9 433.53,292.87 433.64,292.83 433.75,292.8 433.86,292.77 433.97,292.74 434.08,292.7 434.19,292.67 434.29,292.63 434.4,292.6 434.51,292.57 434.62,292.53 434.73,292.5 434.84,292.46 434.95,292.43 435.06,292.39 435.16,292.36 435.27,292.32 435.38,292.29 435.49,292.25 435.6,292.22 435.71,292.18 435.82,292.14 435.93,292.11 436.03,292.07 436.14,292.04 436.25,292 436.36,291.96 436.47,291.92 436.58,291.89 436.69,291.85 436.79,291.81 436.9,291.78 437.01,291.74 437.12,291.7 437.23,291.66 437.34,291.62 437.45,291.59 437.56,291.55 437.66,291.51 437.77,291.47 437.88,291.43 437.99,291.39 438.1,291.35 438.21,291.31 438.32,291.27 438.43,291.23 438.53,291.2 438.64,291.16 438.75,291.12 438.86,291.08 438.97,291.04 439.08,291 439.19,290.96 439.29,290.92 439.4,290.88 439.51,290.84 439.62,290.8 439.73,290.76 439.84,290.71 439.95,290.67 440.06,290.63 440.16,290.59 440.27,290.55 440.38,290.51 440.49,290.47 440.6,290.43 440.71,290.39 440.82,290.35 440.93,290.31 441.03,290.27 441.14,290.22 441.25,290.18 441.36,290.14 441.47,290.1 441.58,290.06 441.69,290.02 441.8,289.98 441.9,289.94 442.01,289.89 442.12,289.85 442.23,289.81 442.34,289.77 442.45,289.73 442.56,289.69 442.66,289.65 442.77,289.61 442.88,289.56 442.99,289.52 443.1,289.48 443.21,289.44 443.32,289.4 443.43,289.36 443.53,289.32 443.64,289.28 443.75,289.24 443.86,289.2 443.97,289.16 444.08,289.12 444.19,289.08 444.3,289.03 444.4,288.99 444.51,288.95 444.62,288.91 444.73,288.87 444.84,288.83 444.95,288.79 445.06,288.75 445.16,288.72 445.27,288.68 445.38,288.64 445.49,288.6 445.6,288.56 445.71,288.52 445.82,288.48 445.93,288.44 446.03,288.4 446.14,288.37 446.25,288.33 446.36,288.29 446.47,288.25 446.58,288.21 446.69,288.18 446.8,288.14 446.9,288.1 447.01,288.06 447.12,288.03 447.23,287.99 447.34,287.95 447.45,287.92 447.56,287.88 447.66,287.85 447.77,287.81 447.88,287.78 447.99,287.74 448.1,287.71 448.21,287.67 448.32,287.64 448.43,287.6 448.53,287.57 448.64,287.53 448.75,287.5 448.86,287.47 448.97,287.44 449.08,287.4 449.19,287.37 449.3,287.34 449.4,287.31 449.51,287.28 449.62,287.24 449.73,287.21 449.84,287.18 449.95,287.15 450.06,287.12 450.16,287.09 450.27,287.06 450.38,287.03 450.49,287 450.6,286.98 450.71,286.95 450.82,286.92 450.93,286.89 451.03,286.87 451.14,286.84 451.25,286.81 451.36,286.79 451.47,286.76 451.58,286.73 451.69,286.71 451.8,286.68 451.9,286.66 452.01,286.64 452.12,286.61 452.23,286.59 452.34,286.57 452.45,286.54 452.56,286.52 452.67,286.5 452.77,286.48 452.88,286.46 452.99,286.44 453.1,286.42 453.21,286.4 453.32,286.38 453.43,286.36 453.53,286.34 453.64,286.32 453.75,286.3 453.86,286.29 453.97,286.27 454.08,286.25 454.19,286.24 454.3,286.22 454.4,286.2 454.51,286.19 454.62,286.17 454.73,286.16 454.84,286.15 454.95,286.13 455.06,286.12 455.17,286.11 455.27,286.1 455.38,286.08 455.49,286.07 455.6,286.06 455.71,286.05 455.82,286.04 455.93,286.03 456.03,286.03 456.14,286.02 456.25,286.01 456.36,286 456.47,285.99 456.58,285.99 456.69,285.98 456.8,285.98 456.9,285.97 457.01,285.97 457.12,285.96 457.23,285.96 457.34,285.95 457.45,285.95 457.56,285.95 457.67,285.95 457.77,285.94 457.88,285.94 457.99,285.94 458.1,285.94 458.21,285.94 458.32,285.94 458.43,285.94 458.53,285.95 458.64,285.95 458.75,285.95 458.86,285.95 458.97,285.96 459.08,285.96 459.19,285.97 459.3,285.97 459.4,285.98 459.51,285.98 459.62,285.99 459.73,285.99 459.84,286 459.95,286.01 460.06,286.02 460.17,286.02 460.27,286.03 460.38,286.04 460.49,286.05 460.6,286.06 460.71,286.07 460.82,286.08 460.93,286.09 461.03,286.11 461.14,286.12 461.25,286.13 461.36,286.14 461.47,286.16 461.58,286.17 461.69,286.19 461.8,286.2 461.9,286.22 462.01,286.23 462.12,286.25 462.23,286.26 462.34,286.28 462.45,286.3 462.56,286.32 462.67,286.33 462.77,286.35 462.88,286.37 462.99,286.39 463.1,286.41 463.21,286.43 463.32,286.45 463.43,286.47 463.54,286.49 463.64,286.51 463.75,286.53 463.86,286.56 463.97,286.58 464.08,286.6 464.19,286.63 464.3,286.65 464.4,286.67 464.51,286.7 464.62,286.72 464.73,286.75 464.84,286.77 464.95,286.8 465.06,286.82 465.17,286.85 465.27,286.87 465.38,286.9 465.49,286.93 465.6,286.96 465.71,286.98 465.82,287.01 465.93,287.04 466.04,287.07 466.14,287.1 466.25,287.12 466.36,287.15 466.47,287.18 466.58,287.21 466.69,287.24 466.8,287.27 466.9,287.3 467.01,287.33 467.12,287.36 467.23,287.4 467.34,287.43 467.45,287.46 467.56,287.49 467.67,287.52 467.77,287.55 467.88,287.59 467.99,287.62 468.1,287.65 468.21,287.68 468.32,287.72 468.43,287.75 468.54,287.78 468.64,287.81 468.75,287.85 468.86,287.88 468.97,287.91 469.08,287.95 469.19,287.98 469.3,288.02 469.4,288.05 469.51,288.08 469.62,288.12 469.73,288.15 469.84,288.19 469.95,288.22 470.06,288.26 470.17,288.29 470.27,288.33 470.38,288.36 470.49,288.39 470.6,288.43 470.71,288.46 470.82,288.5 470.93,288.53 471.04,288.57 471.14,288.6 471.25,288.64 471.36,288.67 471.47,288.71 471.58,288.74 471.69,288.78 471.8,288.81 471.9,288.85 472.01,288.88 472.12,288.92 472.23,288.95 472.34,288.99 472.45,289.02 472.56,289.06 472.67,289.09 472.77,289.13 472.88,289.16 472.99,289.2 473.1,289.23 473.21,289.27 473.32,289.3 473.43,289.33 473.54,289.37 473.64,289.4 473.75,289.44 473.86,289.47 473.97,289.51 474.08,289.54 474.19,289.57 474.3,289.61 474.41,289.64 474.51,289.68 474.62,289.71 474.73,289.74 474.84,289.78 474.95,289.81 475.06,289.84 475.17,289.88 475.27,289.91 475.38,289.94 475.49,289.98 475.6,290.01 475.71,290.04 475.82,290.08 475.93,290.11 476.04,290.14 476.14,290.18 476.25,290.21 476.36,290.24 476.47,290.27 476.58,290.31 476.69,290.34 476.8,290.37 476.91,290.41 477.01,290.44 477.12,290.47 477.23,290.5 477.34,290.54 477.45,290.57 477.56,290.6 477.67,290.63 477.77,290.67 477.88,290.7 477.99,290.73 478.1,290.76 478.21,290.8 478.32,290.83 478.43,290.86 478.54,290.89 478.64,290.93 478.75,290.96 478.86,290.99 478.97,291.02 479.08,291.06 479.19,291.09 479.3,291.12 479.41,291.15 479.51,291.19 479.62,291.22 479.73,291.25 479.84,291.28 479.95,291.32 480.06,291.35 480.17,291.38 480.27,291.42 480.38,291.45 480.49,291.48 480.6,291.51 480.71,291.55 480.82,291.58 480.93,291.61 481.04,291.65 481.14,291.68 481.25,291.71 481.36,291.75 481.47,291.78 481.58,291.81 481.69,291.85 481.8,291.88 481.91,291.91 482.01,291.95 482.12,291.98 482.23,292.01 482.34,292.05 482.45,292.08 482.56,292.12 482.67,292.15 482.77,292.18 482.88,292.22 482.99,292.25 483.1,292.29 483.21,292.32 483.32,292.35 483.43,292.39 483.54,292.42 483.64,292.46 483.75,292.49 483.86,292.52 483.97,292.56 484.08,292.59 484.19,292.63 484.3,292.66 484.41,292.69 484.51,292.73 484.62,292.76 484.73,292.8 484.84,292.83 484.95,292.86 485.06,292.9 485.17,292.93 485.28,292.96 485.38,293 485.49,293.03 485.6,293.06 485.71,293.1 485.82,293.13 485.93,293.16 486.04,293.2 486.14,293.23 486.25,293.26 486.36,293.3 486.47,293.33 486.58,293.36 486.69,293.39 486.8,293.43 486.91,293.46 487.01,293.49 487.12,293.52 487.23,293.55 487.34,293.59 487.45,293.62 487.56,293.65 487.67,293.68 487.78,293.71 487.88,293.74 487.99,293.77 488.1,293.8 488.21,293.83 488.32,293.86 488.43,293.89 488.54,293.92 488.64,293.95 488.75,293.98 488.86,294.01 488.97,294.04 489.08,294.06 489.19,294.09 489.3,294.12 489.41,294.15 489.51,294.18 489.62,294.2 489.73,294.23 489.84,294.26 489.95,294.28 490.06,294.31 490.17,294.33 490.28,294.36 490.38,294.39 490.49,294.41 490.6,294.44 490.71,294.46 490.82,294.48 490.93,294.51 491.04,294.53 491.14,294.56 491.25,294.58 491.36,294.6 491.47,294.63 491.58,294.65 491.69,294.67 491.8,294.69 491.91,294.71 492.01,294.73 492.12,294.76 492.23,294.78 492.34,294.8 492.45,294.82 492.56,294.84 492.67,294.86 492.78,294.88 492.88,294.9 492.99,294.91 493.1,294.93 493.21,294.95 493.32,294.97 493.43,294.99 493.54,295.01 493.64,295.02 493.75,295.04 493.86,295.06 493.97,295.07 494.08,295.09 494.19,295.11 494.3,295.12 494.41,295.14 494.51,295.15 494.62,295.17 494.73,295.18 494.84,295.2 494.95,295.21 495.06,295.23 495.17,295.24 495.28,295.25 495.38,295.27 495.49,295.28 495.6,295.3 495.71,295.31 495.82,295.32 495.93,295.33 496.04,295.35 496.15,295.36 496.25,295.37 496.36,295.38 496.47,295.39 496.58,295.4 496.69,295.42 496.8,295.43 496.91,295.44 497.01,295.45 497.12,295.46 497.23,295.47 497.34,295.48 497.45,295.49 497.56,295.5 497.67,295.51 497.78,295.52 497.88,295.53 497.99,295.54 498.1,295.55 498.21,295.55 498.32,295.56 498.43,295.57 498.54,295.58 498.65,295.59 498.75,295.6 498.86,295.6 498.97,295.61 499.08,295.62 499.19,295.63 499.3,295.63 499.41,295.64 499.51,295.65 499.62,295.66 499.73,295.66 499.84,295.67 499.95,295.68 500.06,295.68 500.17,295.69 500.28,295.7 500.38,295.7 500.49,295.71 500.6,295.71 500.71,295.72 500.82,295.73 500.93,295.73 501.04,295.74 501.15,295.74 501.25,295.75 501.36,295.75 501.47,295.76 501.58,295.76 501.69,295.77 501.8,295.77 501.91,295.78 502.01,295.78 502.12,295.79 502.23,295.79 502.34,295.8 502.45,295.8 502.56,295.81 502.67,295.81 502.78,295.82 502.88,295.82 502.99,295.82 503.1,295.83 503.21,295.83 503.32,295.84 503.43,295.84 503.54,295.84 503.65,295.85 503.75,295.85 503.86,295.85 503.97,295.86 504.08,295.86 504.19,295.86 504.3,295.87 504.41,295.87 504.51,295.87 504.62,295.88 504.73,295.88 504.84,295.88 504.95,295.89 505.06,295.89 505.17,295.89 505.28,295.9 505.38,295.9 505.49,295.9 505.6,295.9 505.71,295.91 505.82,295.91 505.93,295.91 506.04,295.91 506.15,295.92 506.25,295.92 506.36,295.92 506.47,295.92" fill="none" stroke="#f3a43a" stroke-width="1.4" stroke-linejoin="round"/>
<path d="M409.73,296.62 409.84,296.62 409.95,296.62 410.05,296.62 410.16,296.62 410.27,296.62 410.38,296.62 410.49,296.62 410.6,296.62 410.71,296.62 410.82,296.62 410.92,296.62 411.03,296.62 411.14,296.62 411.25,296.62 411.36,296.62 411.47,296.62 411.58,296.63 411.69,296.63 411.79,296.63 411.9,296.63 412.01,296.63 412.12,296.63 412.23,296.63 412.34,296.63 412.45,296.63 412.55,296.63 412.66,296.64 412.77,296.64 412.88,296.64 412.99,296.64 413.1,296.64 413.21,296.64 413.32,296.65 413.42,296.65 413.53,296.65 413.64,296.65 413.75,296.66 413.86,296.66 413.97,296.66 414.08,296.66 414.19,296.67 414.29,296.67 414.4,296.67 414.51,296.68 414.62,296.68 414.73,296.68 414.84,296.69 414.95,296.69 415.05,296.7 415.16,296.7 415.27,296.71 415.38,296.71 415.49,296.72 415.6,296.72 415.71,296.73 415.82,296.73 415.92,296.74 416.03,296.75 416.14,296.75 416.25,296.76 416.36,296.77 416.47,296.77 416.58,296.78 416.69,296.79 416.79,296.8 416.9,296.8 417.01,296.81 417.12,296.82 417.23,296.83 417.34,296.84 417.45,296.85 417.55,296.86 417.66,296.87 417.77,296.88 417.88,296.89 417.99,296.9 418.1,296.91 418.21,296.92 418.32,296.94 418.42,296.95 418.53,296.96 418.64,296.97 418.75,296.99 418.86,297 418.97,297.01 419.08,297.03 419.19,297.04 419.29,297.05 419.4,297.07 419.51,297.08 419.62,297.09 419.73,297.11 419.84,297.12 419.95,297.14 420.06,297.15 420.16,297.17 420.27,297.18 420.38,297.2 420.49,297.21 420.6,297.23 420.71,297.25 420.82,297.26 420.92,297.28 421.03,297.29 421.14,297.31 421.25,297.32 421.36,297.34 421.47,297.35 421.58,297.37 421.69,297.38 421.79,297.4 421.9,297.41 422.01,297.43 422.12,297.44 422.23,297.46 422.34,297.47 422.45,297.48 422.56,297.5 422.66,297.51 422.77,297.52 422.88,297.54 422.99,297.55 423.1,297.56 423.21,297.57 423.32,297.58 423.42,297.59 423.53,297.6 423.64,297.61 423.75,297.62 423.86,297.63 423.97,297.64 424.08,297.65 424.19,297.65 424.29,297.66 424.4,297.67 424.51,297.67 424.62,297.68 424.73,297.68 424.84,297.68 424.95,297.69 425.06,297.69 425.16,297.69 425.27,297.69 425.38,297.69 425.49,297.7 425.6,297.69 425.71,297.69 425.82,297.69 425.92,297.69 426.03,297.69 426.14,297.68 426.25,297.68 426.36,297.68 426.47,297.67 426.58,297.67 426.69,297.66 426.79,297.65 426.9,297.65 427.01,297.64 427.12,297.63 427.23,297.62 427.34,297.61 427.45,297.6 427.56,297.59 427.66,297.58 427.77,297.57 427.88,297.56 427.99,297.55 428.1,297.53 428.21,297.52 428.32,297.51 428.42,297.49 428.53,297.48 428.64,297.47 428.75,297.45 428.86,297.44 428.97,297.42 429.08,297.41 429.19,297.39 429.29,297.38 429.4,297.36 429.51,297.34 429.62,297.33 429.73,297.31 429.84,297.29 429.95,297.28 430.06,297.26 430.16,297.24 430.27,297.22 430.38,297.21 430.49,297.19 430.6,297.17 430.71,297.15 430.82,297.13 430.93,297.11 431.03,297.09 431.14,297.08 431.25,297.06 431.36,297.04 431.47,297.02 431.58,296.99 431.69,296.97 431.79,296.95 431.9,296.93 432.01,296.91 432.12,296.89 432.23,296.86 432.34,296.84 432.45,296.82 432.56,296.79 432.66,296.77 432.77,296.74 432.88,296.71 432.99,296.69 433.1,296.66 433.21,296.63 433.32,296.6 433.43,296.57 433.53,296.54 433.64,296.51 433.75,296.48 433.86,296.44 433.97,296.41 434.08,296.37 434.19,296.34 434.29,296.3 434.4,296.26 434.51,296.22 434.62,296.18 434.73,296.14 434.84,296.1 434.95,296.05 435.06,296.01 435.16,295.97 435.27,295.92 435.38,295.87 435.49,295.83 435.6,295.78 435.71,295.73 435.82,295.68 435.93,295.63 436.03,295.58 436.14,295.53 436.25,295.48 436.36,295.42 436.47,295.37 436.58,295.32 436.69,295.27 436.79,295.22 436.9,295.17 437.01,295.12 437.12,295.07 437.23,295.02 437.34,294.97 437.45,294.92 437.56,294.88 437.66,294.83 437.77,294.79 437.88,294.74 437.99,294.7 438.1,294.66 438.21,294.63 438.32,294.59 438.43,294.56 438.53,294.52 438.64,294.49 438.75,294.47 438.86,294.44 438.97,294.42 439.08,294.4 439.19,294.38 439.29,294.36 439.4,294.35 439.51,294.34 439.62,294.33 439.73,294.32 439.84,294.32 439.95,294.31 440.06,294.31 440.16,294.32 440.27,294.32 440.38,294.33 440.49,294.34 440.6,294.35 440.71,294.36 440.82,294.38 440.93,294.39 441.03,294.41 441.14,294.43 441.25,294.45 441.36,294.47 441.47,294.49 441.58,294.52 441.69,294.54 441.8,294.57 441.9,294.59 442.01,294.62 442.12,294.64 442.23,294.67 442.34,294.69 442.45,294.72 442.56,294.74 442.66,294.76 442.77,294.79 442.88,294.81 442.99,294.83 443.1,294.85 443.21,294.87 443.32,294.88 443.43,294.9 443.53,294.91 443.64,294.92 443.75,294.93 443.86,294.94 443.97,294.94 444.08,294.95 444.19,294.95 444.3,294.95 444.4,294.94 444.51,294.94 444.62,294.93 444.73,294.92 444.84,294.9 444.95,294.89 445.06,294.87 445.16,294.85 445.27,294.82 445.38,294.8 445.49,294.77 445.6,294.73 445.71,294.7 445.82,294.66 445.93,294.62 446.03,294.58 446.14,294.54 446.25,294.49 446.36,294.44 446.47,294.38 446.58,294.33 446.69,294.27 446.8,294.21 446.9,294.15 447.01,294.08 447.12,294.01 447.23,293.94 447.34,293.87 447.45,293.8 447.56,293.72 447.66,293.64 447.77,293.56 447.88,293.47 447.99,293.39 448.1,293.3 448.21,293.21 448.32,293.11 448.43,293.02 448.53,292.92 448.64,292.83 448.75,292.72 448.86,292.62 448.97,292.52 449.08,292.41 449.19,292.3 449.3,292.2 449.4,292.08 449.51,291.97 449.62,291.86 449.73,291.74 449.84,291.62 449.95,291.5 450.06,291.38 450.16,291.26 450.27,291.14 450.38,291.01 450.49,290.89 450.6,290.76 450.71,290.63 450.82,290.5 450.93,290.37 451.03,290.24 451.14,290.11 451.25,289.97 451.36,289.83 451.47,289.7 451.58,289.56 451.69,289.42 451.8,289.28 451.9,289.14 452.01,288.99 452.12,288.85 452.23,288.7 452.34,288.55 452.45,288.4 452.56,288.25 452.67,288.09 452.77,287.94 452.88,287.77 452.99,287.61 453.1,287.44 453.21,287.27 453.32,287.1 453.43,286.91 453.53,286.73 453.64,286.53 453.75,286.33 453.86,286.12 453.97,285.9 454.08,285.67 454.19,285.42 454.3,285.17 454.4,284.89 454.51,284.6 454.62,284.28 454.73,283.94 454.84,283.58 454.95,283.18 455.06,282.75 455.17,282.28 455.27,281.76 455.38,281.2 455.49,280.57 455.6,279.89 455.71,279.13 455.82,278.29 455.93,277.35 456.03,276.31 456.14,275.16 456.25,273.87 456.36,272.43 456.47,270.83 456.58,269.03 456.69,267.02 456.8,264.77 456.9,262.25 457.01,259.42 457.12,256.25 457.23,252.69 457.34,248.69 457.45,244.2 457.56,239.16 457.67,233.5 457.77,227.13 457.88,219.97 457.99,211.93 458.1,202.88 458.21,211.93 458.32,219.97 458.43,227.13 458.53,233.5 458.64,239.16 458.75,244.2 458.86,248.69 458.97,252.69 459.08,256.25 459.19,259.42 459.3,262.25 459.4,264.77 459.51,267.02 459.62,269.03 459.73,270.83 459.84,272.43 459.95,273.87 460.06,275.16 460.17,276.31 460.27,277.35 460.38,278.29 460.49,279.13 460.6,279.89 460.71,280.57 460.82,281.19 460.93,281.76 461.03,282.28 461.14,282.75 461.25,283.18 461.36,283.58 461.47,283.94 461.58,284.28 461.69,284.6 461.8,284.89 461.9,285.16 462.01,285.42 462.12,285.67 462.23,285.9 462.34,286.12 462.45,286.33 462.56,286.53 462.67,286.73 462.77,286.91 462.88,287.09 462.99,287.27 463.1,287.44 463.21,287.61 463.32,287.77 463.43,287.93 463.54,288.09 463.64,288.24 463.75,288.4 463.86,288.55 463.97,288.69 464.08,288.84 464.19,288.99 464.3,289.13 464.4,289.27 464.51,289.41 464.62,289.55 464.73,289.69 464.84,289.82 464.95,289.96 465.06,290.09 465.17,290.23 465.27,290.36 465.38,290.49 465.49,290.62 465.6,290.75 465.71,290.87 465.82,291 465.93,291.12 466.04,291.24 466.14,291.36 466.25,291.48 466.36,291.6 466.47,291.72 466.58,291.83 466.69,291.95 466.8,292.06 466.9,292.17 467.01,292.28 467.12,292.38 467.23,292.49 467.34,292.59 467.45,292.69 467.56,292.79 467.67,292.89 467.77,292.99 467.88,293.08 467.99,293.17 468.1,293.26 468.21,293.35 468.32,293.44 468.43,293.52 468.54,293.6 468.64,293.68 468.75,293.76 468.86,293.84 468.97,293.91 469.08,293.98 469.19,294.05 469.3,294.12 469.4,294.18 469.51,294.25 469.62,294.31 469.73,294.37 469.84,294.43 469.95,294.48 470.06,294.54 470.17,294.59 470.27,294.64 470.38,294.68 470.49,294.73 470.6,294.77 470.71,294.81 470.82,294.85 470.93,294.89 471.04,294.92 471.14,294.96 471.25,294.99 471.36,295.02 471.47,295.04 471.58,295.07 471.69,295.09 471.8,295.12 471.9,295.14 472.01,295.15 472.12,295.17 472.23,295.19 472.34,295.2 472.45,295.21 472.56,295.22 472.67,295.23 472.77,295.23 472.88,295.24 472.99,295.24 473.1,295.24 473.21,295.25 473.32,295.24 473.43,295.24 473.54,295.24 473.64,295.23 473.75,295.23 473.86,295.22 473.97,295.21 474.08,295.2 474.19,295.19 474.3,295.18 474.41,295.17 474.51,295.16 474.62,295.14 474.73,295.13 474.84,295.11 474.95,295.09 475.06,295.08 475.17,295.06 475.27,295.04 475.38,295.02 475.49,295 475.6,294.98 475.71,294.96 475.82,294.94 475.93,294.92 476.04,294.9 476.14,294.88 476.25,294.86 476.36,294.84 476.47,294.82 476.58,294.8 476.69,294.77 476.8,294.75 476.91,294.73 477.01,294.71 477.12,294.69 477.23,294.67 477.34,294.65 477.45,294.64 477.56,294.62 477.67,294.6 477.77,294.58 477.88,294.57 477.99,294.55 478.1,294.54 478.21,294.52 478.32,294.51 478.43,294.5 478.54,294.49 478.64,294.48 478.75,294.47 478.86,294.46 478.97,294.45 479.08,294.44 479.19,294.44 479.3,294.43 479.41,294.43 479.51,294.43 479.62,294.43 479.73,294.43 479.84,294.43 479.95,294.43 480.06,294.43 480.17,294.44 480.27,294.44 480.38,294.45 480.49,294.46 480.6,294.46 480.71,294.47 480.82,294.49 480.93,294.5 481.04,294.51 481.14,294.52 481.25,294.54 481.36,294.56 481.47,294.57 481.58,294.59 481.69,294.61 481.8,294.63 481.91,294.65 482.01,294.67 482.12,294.69 482.23,294.72 482.34,294.74 482.45,294.77 482.56,294.79 482.67,294.82 482.77,294.84 482.88,294.87 482.99,294.9 483.1,294.93 483.21,294.95 483.32,294.98 483.43,295.01 483.54,295.04 483.64,295.07 483.75,295.1 483.86,295.13 483.97,295.16 484.08,295.19 484.19,295.23 484.3,295.26 484.41,295.29 484.51,295.32 484.62,295.35 484.73,295.38 484.84,295.41 484.95,295.44 485.06,295.47 485.17,295.5 485.28,295.53 485.38,295.56 485.49,295.59 485.6,295.62 485.71,295.65 485.82,295.68 485.93,295.71 486.04,295.74 486.14,295.76 486.25,295.79 486.36,295.82 486.47,295.84 486.58,295.87 486.69,295.9 486.8,295.92 486.91,295.94 487.01,295.97 487.12,295.99 487.23,296.01 487.34,296.04 487.45,296.06 487.56,296.08 487.67,296.1 487.78,296.12 487.88,296.14 487.99,296.16 488.1,296.18 488.21,296.2 488.32,296.21 488.43,296.23 488.54,296.25 488.64,296.26 488.75,296.28 488.86,296.29 488.97,296.31 489.08,296.32 489.19,296.34 489.3,296.35 489.41,296.36 489.51,296.37 489.62,296.39 489.73,296.4 489.84,296.41 489.95,296.42 490.06,296.43 490.17,296.44 490.28,296.45 490.38,296.46 490.49,296.46 490.6,296.47 490.71,296.48 490.82,296.49 490.93,296.49 491.04,296.5 491.14,296.51 491.25,296.51 491.36,296.52 491.47,296.52 491.58,296.53 491.69,296.53 491.8,296.54 491.91,296.54 492.01,296.55 492.12,296.55 492.23,296.56 492.34,296.56 492.45,296.56 492.56,296.57 492.67,296.57 492.78,296.57 492.88,296.57 492.99,296.58 493.1,296.58 493.21,296.58 493.32,296.58 493.43,296.59 493.54,296.59 493.64,296.59 493.75,296.59 493.86,296.59 493.97,296.59 494.08,296.6 494.19,296.6 494.3,296.6 494.41,296.6 494.51,296.6 494.62,296.6 494.73,296.6 494.84,296.6 494.95,296.6 495.06,296.6 495.17,296.61 495.28,296.61 495.38,296.61 495.49,296.61 495.6,296.61 495.71,296.61 495.82,296.61 495.93,296.61 496.04,296.61 496.15,296.61 496.25,296.61 496.36,296.61 496.47,296.61 496.58,296.61 496.69,296.61 496.8,296.61 496.91,296.61 497.01,296.61 497.12,296.61 497.23,296.61 497.34,296.61 497.45,296.61 497.56,296.61 497.67,296.61 497.78,296.61 497.88,296.61 497.99,296.61 498.1,296.61 498.21,296.61 498.32,296.61 498.43,296.61 498.54,296.61 498.65,296.61 498.75,296.61 498.86,296.61 498.97,296.61 499.08,296.61 499.19,296.61 499.3,296.61 499.41,296.61 499.51,296.61 499.62,296.61 499.73,296.61 499.84,296.61 499.95,296.61 500.06,296.61 500.17,296.61 500.28,296.61 500.38,296.61 500.49,296.61 500.6,296.61 500.71,296.61 500.82,296.61 500.93,296.61 501.04,296.61 501.15,296.61 501.25,296.61 501.36,296.61 501.47,296.61 501.58,296.61 501.69,296.61 501.8,296.61 501.91,296.61 502.01,296.61 502.12,296.61 502.23,296.61 502.34,296.61 502.45,296.61 502.56,296.61 502.67,296.61 502.78,296.61 502.88,296.61 502.99,296.61 503.1,296.61 503.21,296.61 503.32,296.61 503.43,296.61 503.54,296.61 503.65,296.61 503.75,296.61 503.86,296.61 503.97,296.61 504.08,296.61 504.19,296.61 504.3,296.61 504.41,296.61 504.51,296.61 504.62,296.61 504.73,296.61 504.84,296.61 504.95,296.61 505.06,296.61 505.17,296.61 505.28,296.61 505.38,296.61 505.49,296.61 505.6,296.61 505.71,296.61 505.82,296.61 505.93,296.61 506.04,296.61 506.15,296.61 506.25,296.61 506.36,296.61 506.47,296.61" fill="none" stroke="#58b6e6" stroke-width="1.1" stroke-linejoin="round"/>
<path d="M409.73,296.9 409.84,296.9 409.95,296.9 410.05,296.9 410.16,296.9 410.27,296.9 410.38,296.9 410.49,296.9 410.6,296.9 410.71,296.9 410.82,296.9 410.92,296.9 411.03,296.9 411.14,296.9 411.25,296.9 411.36,296.9 411.47,296.9 411.58,296.9 411.69,296.9 411.79,296.9 411.9,296.9 412.01,296.9 412.12,296.9 412.23,296.9 412.34,296.9 412.45,296.9 412.55,296.9 412.66,296.9 412.77,296.9 412.88,296.9 412.99,296.9 413.1,296.9 413.21,296.9 413.32,296.9 413.42,296.9 413.53,296.9 413.64,296.9 413.75,296.9 413.86,296.9 413.97,296.9 414.08,296.9 414.19,296.9 414.29,296.9 414.4,296.9 414.51,296.9 414.62,296.9 414.73,296.9 414.84,296.9 414.95,296.9 415.05,296.9 415.16,296.9 415.27,296.9 415.38,296.9 415.49,296.9 415.6,296.9 415.71,296.9 415.82,296.9 415.92,296.9 416.03,296.9 416.14,296.9 416.25,296.9 416.36,296.9 416.47,296.9 416.58,296.9 416.69,296.9 416.79,296.9 416.9,296.9 417.01,296.9 417.12,296.9 417.23,296.9 417.34,296.9 417.45,296.9 417.55,296.9 417.66,296.9 417.77,296.9 417.88,296.9 417.99,296.9 418.1,296.9 418.21,296.9 418.32,296.9 418.42,296.9 418.53,296.9 418.64,296.9 418.75,296.9 418.86,296.9 418.97,296.9 419.08,296.9 419.19,296.9 419.29,296.9 419.4,296.9 419.51,296.9 419.62,296.9 419.73,296.9 419.84,296.9 419.95,296.9 420.06,296.9 420.16,296.9 420.27,296.9 420.38,296.9 420.49,296.9 420.6,296.9 420.71,296.9 420.82,296.9 420.92,296.9 421.03,296.9 421.14,296.9 421.25,296.9 421.36,296.9 421.47,296.9 421.58,296.9 421.69,296.9 421.79,296.9 421.9,296.9 422.01,296.9 422.12,296.9 422.23,296.9 422.34,296.9 422.45,296.9 422.56,296.9 422.66,296.9 422.77,296.9 422.88,296.9 422.99,296.9 423.1,296.9 423.21,296.9 423.32,296.9 423.42,296.9 423.53,296.9 423.64,296.9 423.75,296.89 423.86,296.89 423.97,296.89 424.08,296.89 424.19,296.89 424.29,296.89 424.4,296.89 424.51,296.89 424.62,296.89 424.73,296.88 424.84,296.88 424.95,296.88 425.06,296.88 425.16,296.88 425.27,296.87 425.38,296.87 425.49,296.87 425.6,296.87 425.71,296.86 425.82,296.86 425.92,296.85 426.03,296.85 426.14,296.85 426.25,296.84 426.36,296.84 426.47,296.83 426.58,296.82 426.69,296.82 426.79,296.81 426.9,296.8 427.01,296.8 427.12,296.79 427.23,296.78 427.34,296.77 427.45,296.76 427.56,296.75 427.66,296.74 427.77,296.73 427.88,296.71 427.99,296.7 428.1,296.69 428.21,296.67 428.32,296.66 428.42,296.64 428.53,296.63 428.64,296.61 428.75,296.59 428.86,296.57 428.97,296.55 429.08,296.53 429.19,296.51 429.29,296.49 429.4,296.47 429.51,296.44 429.62,296.42 429.73,296.39 429.84,296.37 429.95,296.34 430.06,296.31 430.16,296.28 430.27,296.26 430.38,296.23 430.49,296.2 430.6,296.16 430.71,296.13 430.82,296.1 430.93,296.07 431.03,296.03 431.14,296 431.25,295.97 431.36,295.93 431.47,295.9 431.58,295.86 431.69,295.83 431.79,295.79 431.9,295.75 432.01,295.72 432.12,295.68 432.23,295.65 432.34,295.61 432.45,295.58 432.56,295.54 432.66,295.51 432.77,295.48 432.88,295.44 432.99,295.41 433.1,295.38 433.21,295.35 433.32,295.32 433.43,295.29 433.53,295.26 433.64,295.23 433.75,295.21 433.86,295.18 433.97,295.16 434.08,295.14 434.19,295.12 434.29,295.1 434.4,295.08 434.51,295.07 434.62,295.05 434.73,295.04 434.84,295.03 434.95,295.02 435.06,295.01 435.16,295 435.27,295 435.38,294.99 435.49,294.99 435.6,294.99 435.71,295 435.82,295 435.93,295 436.03,295.01 436.14,295.02 436.25,295.03 436.36,295.04 436.47,295.05 436.58,295.07 436.69,295.09 436.79,295.1 436.9,295.12 437.01,295.14 437.12,295.16 437.23,295.19 437.34,295.21 437.45,295.23 437.56,295.26 437.66,295.29 437.77,295.31 437.88,295.34 437.99,295.37 438.1,295.4 438.21,295.43 438.32,295.46 438.43,295.5 438.53,295.53 438.64,295.56 438.75,295.6 438.86,295.63 438.97,295.66 439.08,295.7 439.19,295.73 439.29,295.77 439.4,295.8 439.51,295.83 439.62,295.87 439.73,295.9 439.84,295.94 439.95,295.97 440.06,296 440.16,296.03 440.27,296.06 440.38,296.09 440.49,296.12 440.6,296.15 440.71,296.17 440.82,296.2 440.93,296.22 441.03,296.24 441.14,296.26 441.25,296.28 441.36,296.29 441.47,296.3 441.58,296.32 441.69,296.32 441.8,296.33 441.9,296.33 442.01,296.34 442.12,296.33 442.23,296.33 442.34,296.32 442.45,296.31 442.56,296.3 442.66,296.28 442.77,296.26 442.88,296.24 442.99,296.22 443.1,296.19 443.21,296.16 443.32,296.13 443.43,296.09 443.53,296.05 443.64,296.01 443.75,295.97 443.86,295.92 443.97,295.87 444.08,295.82 444.19,295.76 444.3,295.71 444.4,295.65 444.51,295.59 444.62,295.53 444.73,295.46 444.84,295.4 444.95,295.33 445.06,295.26 445.16,295.19 445.27,295.12 445.38,295.05 445.49,294.98 445.6,294.9 445.71,294.83 445.82,294.75 445.93,294.68 446.03,294.6 446.14,294.52 446.25,294.44 446.36,294.36 446.47,294.28 446.58,294.2 446.69,294.11 446.8,294.03 446.9,293.94 447.01,293.86 447.12,293.77 447.23,293.68 447.34,293.59 447.45,293.5 447.56,293.41 447.66,293.31 447.77,293.22 447.88,293.12 447.99,293.02 448.1,292.91 448.21,292.81 448.32,292.7 448.43,292.59 448.53,292.48 448.64,292.36 448.75,292.24 448.86,292.12 448.97,291.99 449.08,291.86 449.19,291.72 449.3,291.58 449.4,291.44 449.51,291.29 449.62,291.13 449.73,290.97 449.84,290.81 449.95,290.63 450.06,290.46 450.16,290.27 450.27,290.08 450.38,289.89 450.49,289.68 450.6,289.47 450.71,289.25 450.82,289.02 450.93,288.79 451.03,288.55 451.14,288.3 451.25,288.04 451.36,287.77 451.47,287.5 451.58,287.21 451.69,286.92 451.8,286.61 451.9,286.3 452.01,285.98 452.12,285.65 452.23,285.31 452.34,284.97 452.45,284.61 452.56,284.24 452.67,283.87 452.77,283.49 452.88,283.1 452.99,282.7 453.1,282.29 453.21,281.88 453.32,281.46 453.43,281.03 453.53,280.6 453.64,280.16 453.75,279.71 453.86,279.27 453.97,278.81 454.08,278.36 454.19,277.9 454.3,277.44 454.4,276.97 454.51,276.51 454.62,276.05 454.73,275.59 454.84,275.13 454.95,274.67 455.06,274.22 455.17,273.77 455.27,273.32 455.38,272.89 455.49,272.46 455.6,272.04 455.71,271.63 455.82,271.23 455.93,270.84 456.03,270.46 456.14,270.09 456.25,269.74 456.36,269.41 456.47,269.09 456.58,268.78 456.69,268.5 456.8,268.23 456.9,267.98 457.01,267.75 457.12,267.54 457.23,267.35 457.34,267.18 457.45,267.03 457.56,266.91 457.67,266.8 457.77,266.72 457.88,266.67 457.99,266.63 458.1,266.62 458.21,266.63 458.32,266.67 458.43,266.72 458.53,266.8 458.64,266.91 458.75,267.03 458.86,267.18 458.97,267.35 459.08,267.54 459.19,267.75 459.3,267.98 459.4,268.23 459.51,268.5 459.62,268.78 459.73,269.09 459.84,269.41 459.95,269.74 460.06,270.09 460.17,270.46 460.27,270.84 460.38,271.23 460.49,271.63 460.6,272.04 460.71,272.46 460.82,272.89 460.93,273.32 461.03,273.77 461.14,274.22 461.25,274.67 461.36,275.13 461.47,275.59 461.58,276.05 461.69,276.51 461.8,276.97 461.9,277.44 462.01,277.9 462.12,278.36 462.23,278.81 462.34,279.26 462.45,279.71 462.56,280.16 462.67,280.6 462.77,281.03 462.88,281.46 462.99,281.88 463.1,282.29 463.21,282.7 463.32,283.1 463.43,283.49 463.54,283.87 463.64,284.24 463.75,284.61 463.86,284.96 463.97,285.31 464.08,285.65 464.19,285.98 464.3,286.3 464.4,286.61 464.51,286.91 464.62,287.21 464.73,287.49 464.84,287.77 464.95,288.03 465.06,288.29 465.17,288.54 465.27,288.78 465.38,289.02 465.49,289.24 465.6,289.46 465.71,289.67 465.82,289.87 465.93,290.07 466.04,290.26 466.14,290.44 466.25,290.62 466.36,290.79 466.47,290.95 466.58,291.11 466.69,291.26 466.8,291.41 466.9,291.55 467.01,291.69 467.12,291.82 467.23,291.94 467.34,292.07 467.45,292.19 467.56,292.3 467.67,292.41 467.77,292.52 467.88,292.62 467.99,292.72 468.1,292.82 468.21,292.91 468.32,293.01 468.43,293.09 468.54,293.18 468.64,293.26 468.75,293.34 468.86,293.42 468.97,293.5 469.08,293.57 469.19,293.64 469.3,293.71 469.4,293.78 469.51,293.84 469.62,293.91 469.73,293.97 469.84,294.03 469.95,294.09 470.06,294.15 470.17,294.2 470.27,294.25 470.38,294.31 470.49,294.36 470.6,294.41 470.71,294.45 470.82,294.5 470.93,294.54 471.04,294.59 471.14,294.63 471.25,294.67 471.36,294.71 471.47,294.75 471.58,294.79 471.69,294.82 471.8,294.86 471.9,294.89 472.01,294.92 472.12,294.95 472.23,294.98 472.34,295.01 472.45,295.04 472.56,295.07 472.67,295.09 472.77,295.12 472.88,295.14 472.99,295.16 473.1,295.18 473.21,295.21 473.32,295.23 473.43,295.25 473.54,295.26 473.64,295.28 473.75,295.3 473.86,295.31 473.97,295.33 474.08,295.35 474.19,295.36 474.3,295.37 474.41,295.39 474.51,295.4 474.62,295.41 474.73,295.42 474.84,295.43 474.95,295.45 475.06,295.46 475.17,295.47 475.27,295.48 475.38,295.49 475.49,295.5 475.6,295.51 475.71,295.51 475.82,295.52 475.93,295.53 476.04,295.54 476.14,295.55 476.25,295.56 476.36,295.57 476.47,295.58 476.58,295.59 476.69,295.6 476.8,295.61 476.91,295.62 477.01,295.63 477.12,295.64 477.23,295.65 477.34,295.66 477.45,295.67 477.56,295.69 477.67,295.7 477.77,295.71 477.88,295.72 477.99,295.74 478.1,295.75 478.21,295.76 478.32,295.78 478.43,295.79 478.54,295.81 478.64,295.82 478.75,295.84 478.86,295.85 478.97,295.87 479.08,295.88 479.19,295.9 479.3,295.92 479.41,295.94 479.51,295.95 479.62,295.97 479.73,295.99 479.84,296.01 479.95,296.02 480.06,296.04 480.17,296.06 480.27,296.08 480.38,296.1 480.49,296.12 480.6,296.14 480.71,296.16 480.82,296.17 480.93,296.19 481.04,296.21 481.14,296.23 481.25,296.25 481.36,296.27 481.47,296.29 481.58,296.31 481.69,296.32 481.8,296.34 481.91,296.36 482.01,296.38 482.12,296.4 482.23,296.41 482.34,296.43 482.45,296.45 482.56,296.46 482.67,296.48 482.77,296.49 482.88,296.51 482.99,296.53 483.1,296.54 483.21,296.55 483.32,296.57 483.43,296.58 483.54,296.6 483.64,296.61 483.75,296.62 483.86,296.63 483.97,296.65 484.08,296.66 484.19,296.67 484.3,296.68 484.41,296.69 484.51,296.7 484.62,296.71 484.73,296.72 484.84,296.73 484.95,296.74 485.06,296.75 485.17,296.76 485.28,296.76 485.38,296.77 485.49,296.78 485.6,296.79 485.71,296.79 485.82,296.8 485.93,296.8 486.04,296.81 486.14,296.82 486.25,296.82 486.36,296.83 486.47,296.83 486.58,296.83 486.69,296.84 486.8,296.84 486.91,296.85 487.01,296.85 487.12,296.85 487.23,296.86 487.34,296.86 487.45,296.86 487.56,296.87 487.67,296.87 487.78,296.87 487.88,296.87 487.99,296.87 488.1,296.88 488.21,296.88 488.32,296.88 488.43,296.88 488.54,296.88 488.64,296.88 488.75,296.89 488.86,296.89 488.97,296.89 489.08,296.89 489.19,296.89 489.3,296.89 489.41,296.89 489.51,296.89 489.62,296.89 489.73,296.89 489.84,296.89 489.95,296.9 490.06,296.9 490.17,296.9 490.28,296.9 490.38,296.9 490.49,296.9 490.6,296.9 490.71,296.9 490.82,296.9 490.93,296.9 491.04,296.9 491.14,296.9 491.25,296.9 491.36,296.9 491.47,296.9 491.58,296.9 491.69,296.9 491.8,296.9 491.91,296.9 492.01,296.9 492.12,296.9 492.23,296.9 492.34,296.9 492.45,296.9 492.56,296.9 492.67,296.9 492.78,296.9 492.88,296.9 492.99,296.9 493.1,296.9 493.21,296.9 493.32,296.9 493.43,296.9 493.54,296.9 493.64,296.9 493.75,296.9 493.86,296.9 493.97,296.9 494.08,296.9 494.19,296.9 494.3,296.9 494.41,296.9 494.51,296.9 494.62,296.9 494.73,296.9 494.84,296.9 494.95,296.9 495.06,296.9 495.17,296.9 495.28,296.9 495.38,296.9 495.49,296.9 495.6,296.9 495.71,296.9 495.82,296.9 495.93,296.9 496.04,296.9 496.15,296.9 496.25,296.9 496.36,296.9 496.47,296.9 496.58,296.9 496.69,296.9 496.8,296.9 496.91,296.9 497.01,296.9 497.12,296.9 497.23,296.9 497.34,296.9 497.45,296.9 497.56,296.9 497.67,296.9 497.78,296.9 497.88,296.9 497.99,296.9 498.1,296.9 498.21,296.9 498.32,296.9 498.43,296.9 498.54,296.9 498.65,296.9 498.75,296.9 498.86,296.9 498.97,296.9 499.08,296.9 499.19,296.9 499.3,296.9 499.41,296.9 499.51,296.9 499.62,296.9 499.73,296.9 499.84,296.9 499.95,296.9 500.06,296.9 500.17,296.9 500.28,296.9 500.38,296.9 500.49,296.9 500.6,296.9 500.71,296.9 500.82,296.9 500.93,296.9 501.04,296.9 501.15,296.9 501.25,296.9 501.36,296.9 501.47,296.9 501.58,296.9 501.69,296.9 501.8,296.9 501.91,296.9 502.01,296.9 502.12,296.9 502.23,296.9 502.34,296.9 502.45,296.9 502.56,296.9 502.67,296.9 502.78,296.9 502.88,296.9 502.99,296.9 503.1,296.9 503.21,296.9 503.32,296.9 503.43,296.9 503.54,296.9 503.65,296.9 503.75,296.9 503.86,296.9 503.97,296.9 504.08,296.9 504.19,296.9 504.3,296.9 504.41,296.9 504.51,296.9 504.62,296.9 504.73,296.9 504.84,296.9 504.95,296.9 505.06,296.9 505.17,296.9 505.28,296.9 505.38,296.9 505.49,296.9 505.6,296.9 505.71,296.9 505.82,296.9 505.93,296.9 506.04,296.9 506.15,296.9 506.25,296.9 506.36,296.9 506.47,296.9" fill="none" stroke="#4cae4f" stroke-width="1.1" stroke-linejoin="round"/>
<path d="M409.73,297.12 409.84,297.12 409.95,297.12 410.05,297.12 410.16,297.12 410.27,297.12 410.38,297.12 410.49,297.12 410.6,297.12 410.71,297.12 410.82,297.12 410.92,297.12 411.03,297.12 411.14,297.12 411.25,297.12 411.36,297.12 411.47,297.12 411.58,297.12 411.69,297.12 411.79,297.12 411.9,297.12 412.01,297.12 412.12,297.12 412.23,297.12 412.34,297.12 412.45,297.12 412.55,297.12 412.66,297.12 412.77,297.12 412.88,297.12 412.99,297.12 413.1,297.12 413.21,297.12 413.32,297.12 413.42,297.12 413.53,297.12 413.64,297.12 413.75,297.12 413.86,297.12 413.97,297.12 414.08,297.12 414.19,297.12 414.29,297.12 414.4,297.12 414.51,297.12 414.62,297.12 414.73,297.12 414.84,297.12 414.95,297.12 415.05,297.12 415.16,297.12 415.27,297.12 415.38,297.12 415.49,297.12 415.6,297.12 415.71,297.12 415.82,297.12 415.92,297.12 416.03,297.12 416.14,297.12 416.25,297.12 416.36,297.12 416.47,297.12 416.58,297.12 416.69,297.12 416.79,297.12 416.9,297.12 417.01,297.12 417.12,297.12 417.23,297.12 417.34,297.12 417.45,297.12 417.55,297.12 417.66,297.12 417.77,297.12 417.88,297.12 417.99,297.12 418.1,297.12 418.21,297.12 418.32,297.12 418.42,297.12 418.53,297.12 418.64,297.12 418.75,297.12 418.86,297.12 418.97,297.12 419.08,297.12 419.19,297.12 419.29,297.12 419.4,297.12 419.51,297.12 419.62,297.12 419.73,297.12 419.84,297.12 419.95,297.12 420.06,297.12 420.16,297.12 420.27,297.12 420.38,297.12 420.49,297.12 420.6,297.12 420.71,297.12 420.82,297.12 420.92,297.12 421.03,297.12 421.14,297.12 421.25,297.12 421.36,297.12 421.47,297.12 421.58,297.12 421.69,297.12 421.79,297.12 421.9,297.12 422.01,297.12 422.12,297.12 422.23,297.12 422.34,297.12 422.45,297.12 422.56,297.12 422.66,297.12 422.77,297.12 422.88,297.12 422.99,297.12 423.1,297.12 423.21,297.12 423.32,297.12 423.42,297.12 423.53,297.12 423.64,297.12 423.75,297.12 423.86,297.12 423.97,297.12 424.08,297.12 424.19,297.12 424.29,297.12 424.4,297.12 424.51,297.12 424.62,297.12 424.73,297.12 424.84,297.12 424.95,297.12 425.06,297.12 425.16,297.12 425.27,297.12 425.38,297.12 425.49,297.12 425.6,297.12 425.71,297.12 425.82,297.12 425.92,297.11 426.03,297.11 426.14,297.11 426.25,297.11 426.36,297.11 426.47,297.11 426.58,297.11 426.69,297.11 426.79,297.11 426.9,297.11 427.01,297.11 427.12,297.1 427.23,297.1 427.34,297.1 427.45,297.1 427.56,297.09 427.66,297.09 427.77,297.09 427.88,297.08 427.99,297.08 428.1,297.07 428.21,297.07 428.32,297.06 428.42,297.05 428.53,297.04 428.64,297.03 428.75,297.02 428.86,297.01 428.97,297 429.08,296.98 429.19,296.97 429.29,296.95 429.4,296.93 429.51,296.9 429.62,296.88 429.73,296.85 429.84,296.82 429.95,296.79 430.06,296.75 430.16,296.72 430.27,296.67 430.38,296.63 430.49,296.58 430.6,296.53 430.71,296.47 430.82,296.41 430.93,296.35 431.03,296.28 431.14,296.2 431.25,296.13 431.36,296.04 431.47,295.96 431.58,295.86 431.69,295.77 431.79,295.66 431.9,295.56 432.01,295.45 432.12,295.33 432.23,295.21 432.34,295.09 432.45,294.96 432.56,294.83 432.66,294.69 432.77,294.55 432.88,294.41 432.99,294.27 433.1,294.13 433.21,293.98 433.32,293.83 433.43,293.69 433.53,293.54 433.64,293.39 433.75,293.25 433.86,293.11 433.97,292.97 434.08,292.83 434.19,292.7 434.29,292.57 434.4,292.45 434.51,292.34 434.62,292.23 434.73,292.13 434.84,292.03 434.95,291.95 435.06,291.87 435.16,291.81 435.27,291.75 435.38,291.7 435.49,291.67 435.6,291.64 435.71,291.62 435.82,291.62 435.93,291.63 436.03,291.64 436.14,291.67 436.25,291.71 436.36,291.76 436.47,291.82 436.58,291.89 436.69,291.96 436.79,292.05 436.9,292.15 437.01,292.25 437.12,292.36 437.23,292.48 437.34,292.61 437.45,292.74 437.56,292.88 437.66,293.02 437.77,293.16 437.88,293.31 437.99,293.46 438.1,293.61 438.21,293.76 438.32,293.91 438.43,294.07 438.53,294.22 438.64,294.37 438.75,294.52 438.86,294.67 438.97,294.81 439.08,294.95 439.19,295.09 439.29,295.22 439.4,295.34 439.51,295.47 439.62,295.58 439.73,295.69 439.84,295.8 439.95,295.9 440.06,295.99 440.16,296.08 440.27,296.16 440.38,296.23 440.49,296.3 440.6,296.36 440.71,296.42 440.82,296.47 440.93,296.51 441.03,296.55 441.14,296.57 441.25,296.6 441.36,296.62 441.47,296.63 441.58,296.63 441.69,296.63 441.8,296.63 441.9,296.61 442.01,296.6 442.12,296.58 442.23,296.55 442.34,296.52 442.45,296.48 442.56,296.44 442.66,296.4 442.77,296.35 442.88,296.3 442.99,296.24 443.1,296.18 443.21,296.12 443.32,296.06 443.43,295.99 443.53,295.92 443.64,295.84 443.75,295.77 443.86,295.69 443.97,295.61 444.08,295.52 444.19,295.44 444.3,295.35 444.4,295.26 444.51,295.17 444.62,295.08 444.73,294.99 444.84,294.89 444.95,294.8 445.06,294.7 445.16,294.6 445.27,294.5 445.38,294.4 445.49,294.3 445.6,294.2 445.71,294.1 445.82,293.99 445.93,293.89 446.03,293.78 446.14,293.67 446.25,293.56 446.36,293.45 446.47,293.34 446.58,293.23 446.69,293.12 446.8,293 446.9,292.88 447.01,292.76 447.12,292.64 447.23,292.52 447.34,292.39 447.45,292.26 447.56,292.13 447.66,292 447.77,291.86 447.88,291.72 447.99,291.58 448.1,291.43 448.21,291.28 448.32,291.13 448.43,290.97 448.53,290.81 448.64,290.64 448.75,290.47 448.86,290.29 448.97,290.1 449.08,289.91 449.19,289.71 449.3,289.51 449.4,289.3 449.51,289.08 449.62,288.86 449.73,288.62 449.84,288.38 449.95,288.13 450.06,287.87 450.16,287.6 450.27,287.32 450.38,287.03 450.49,286.73 450.6,286.42 450.71,286.1 450.82,285.76 450.93,285.42 451.03,285.06 451.14,284.69 451.25,284.31 451.36,283.91 451.47,283.51 451.58,283.08 451.69,282.65 451.8,282.2 451.9,281.74 452.01,281.27 452.12,280.78 452.23,280.28 452.34,279.76 452.45,279.23 452.56,278.69 452.67,278.13 452.77,277.56 452.88,276.98 452.99,276.39 453.1,275.79 453.21,275.17 453.32,274.55 453.43,273.91 453.53,273.27 453.64,272.61 453.75,271.95 453.86,271.28 453.97,270.61 454.08,269.93 454.19,269.24 454.3,268.56 454.4,267.87 454.51,267.18 454.62,266.49 454.73,265.8 454.84,265.11 454.95,264.43 455.06,263.76 455.17,263.09 455.27,262.43 455.38,261.78 455.49,261.13 455.6,260.51 455.71,259.89 455.82,259.29 455.93,258.71 456.03,258.15 456.14,257.6 456.25,257.08 456.36,256.58 456.47,256.1 456.58,255.65 456.69,255.22 456.8,254.82 456.9,254.45 457.01,254.1 457.12,253.79 457.23,253.5 457.34,253.25 457.45,253.03 457.56,252.85 457.67,252.69 457.77,252.57 457.88,252.49 457.99,252.43 458.1,252.42 458.21,252.43 458.32,252.49 458.43,252.57 458.53,252.69 458.64,252.85 458.75,253.03 458.86,253.25 458.97,253.5 459.08,253.79 459.19,254.1 459.3,254.45 459.4,254.82 459.51,255.22 459.62,255.65 459.73,256.1 459.84,256.58 459.95,257.08 460.06,257.6 460.17,258.15 460.27,258.71 460.38,259.29 460.49,259.89 460.6,260.51 460.71,261.13 460.82,261.78 460.93,262.43 461.03,263.09 461.14,263.76 461.25,264.43 461.36,265.11 461.47,265.8 461.58,266.49 461.69,267.18 461.8,267.87 461.9,268.56 462.01,269.24 462.12,269.93 462.23,270.61 462.34,271.28 462.45,271.95 462.56,272.61 462.67,273.26 462.77,273.91 462.88,274.54 462.99,275.17 463.1,275.78 463.21,276.39 463.32,276.98 463.43,277.56 463.54,278.12 463.64,278.68 463.75,279.22 463.86,279.75 463.97,280.26 464.08,280.76 464.19,281.25 464.3,281.72 464.4,282.18 464.51,282.62 464.62,283.05 464.73,283.47 464.84,283.87 464.95,284.26 465.06,284.63 465.17,284.99 465.27,285.34 465.38,285.68 465.49,286 465.6,286.31 465.71,286.61 465.82,286.89 465.93,287.17 466.04,287.43 466.14,287.68 466.25,287.92 466.36,288.15 466.47,288.37 466.58,288.58 466.69,288.78 466.8,288.97 466.9,289.15 467.01,289.32 467.12,289.48 467.23,289.63 467.34,289.77 467.45,289.91 467.56,290.04 467.67,290.16 467.77,290.28 467.88,290.38 467.99,290.48 468.1,290.58 468.21,290.67 468.32,290.75 468.43,290.83 468.54,290.9 468.64,290.97 468.75,291.04 468.86,291.1 468.97,291.16 469.08,291.21 469.19,291.26 469.3,291.31 469.4,291.36 469.51,291.4 469.62,291.45 469.73,291.49 469.84,291.53 469.95,291.57 470.06,291.62 470.17,291.66 470.27,291.7 470.38,291.74 470.49,291.78 470.6,291.83 470.71,291.87 470.82,291.92 470.93,291.97 471.04,292.01 471.14,292.06 471.25,292.12 471.36,292.17 471.47,292.22 471.58,292.28 471.69,292.33 471.8,292.39 471.9,292.45 472.01,292.51 472.12,292.57 472.23,292.63 472.34,292.69 472.45,292.75 472.56,292.8 472.67,292.86 472.77,292.92 472.88,292.98 472.99,293.03 473.1,293.08 473.21,293.14 473.32,293.19 473.43,293.23 473.54,293.28 473.64,293.32 473.75,293.36 473.86,293.39 473.97,293.43 474.08,293.46 474.19,293.48 474.3,293.51 474.41,293.53 474.51,293.54 474.62,293.56 474.73,293.57 474.84,293.57 474.95,293.58 475.06,293.58 475.17,293.58 475.27,293.57 475.38,293.56 475.49,293.55 475.6,293.54 475.71,293.53 475.82,293.51 475.93,293.49 476.04,293.48 476.14,293.46 476.25,293.43 476.36,293.41 476.47,293.39 476.58,293.37 476.69,293.34 476.8,293.32 476.91,293.3 477.01,293.28 477.12,293.26 477.23,293.24 477.34,293.22 477.45,293.2 477.56,293.19 477.67,293.17 477.77,293.16 477.88,293.15 477.99,293.15 478.1,293.14 478.21,293.14 478.32,293.14 478.43,293.15 478.54,293.15 478.64,293.16 478.75,293.17 478.86,293.19 478.97,293.21 479.08,293.23 479.19,293.25 479.3,293.28 479.41,293.31 479.51,293.34 479.62,293.38 479.73,293.42 479.84,293.46 479.95,293.51 480.06,293.55 480.17,293.6 480.27,293.65 480.38,293.71 480.49,293.77 480.6,293.82 480.71,293.88 480.82,293.95 480.93,294.01 481.04,294.08 481.14,294.14 481.25,294.21 481.36,294.28 481.47,294.35 481.58,294.42 481.69,294.49 481.8,294.56 481.91,294.64 482.01,294.71 482.12,294.78 482.23,294.86 482.34,294.93 482.45,295 482.56,295.07 482.67,295.14 482.77,295.21 482.88,295.28 482.99,295.35 483.1,295.42 483.21,295.49 483.32,295.55 483.43,295.62 483.54,295.68 483.64,295.74 483.75,295.8 483.86,295.86 483.97,295.92 484.08,295.98 484.19,296.03 484.3,296.08 484.41,296.14 484.51,296.18 484.62,296.23 484.73,296.28 484.84,296.32 484.95,296.37 485.06,296.41 485.17,296.45 485.28,296.49 485.38,296.52 485.49,296.56 485.6,296.59 485.71,296.62 485.82,296.65 485.93,296.68 486.04,296.71 486.14,296.74 486.25,296.76 486.36,296.78 486.47,296.81 486.58,296.83 486.69,296.85 486.8,296.87 486.91,296.88 487.01,296.9 487.12,296.92 487.23,296.93 487.34,296.94 487.45,296.96 487.56,296.97 487.67,296.98 487.78,296.99 487.88,297 487.99,297.01 488.1,297.02 488.21,297.03 488.32,297.03 488.43,297.04 488.54,297.05 488.64,297.05 488.75,297.06 488.86,297.06 488.97,297.07 489.08,297.07 489.19,297.08 489.3,297.08 489.41,297.08 489.51,297.09 489.62,297.09 489.73,297.09 489.84,297.09 489.95,297.1 490.06,297.1 490.17,297.1 490.28,297.1 490.38,297.1 490.49,297.11 490.6,297.11 490.71,297.11 490.82,297.11 490.93,297.11 491.04,297.11 491.14,297.11 491.25,297.11 491.36,297.11 491.47,297.11 491.58,297.11 491.69,297.11 491.8,297.11 491.91,297.12 492.01,297.12 492.12,297.12 492.23,297.12 492.34,297.12 492.45,297.12 492.56,297.12 492.67,297.12 492.78,297.12 492.88,297.12 492.99,297.12 493.1,297.12 493.21,297.12 493.32,297.12 493.43,297.12 493.54,297.12 493.64,297.12 493.75,297.12 493.86,297.12 493.97,297.12 494.08,297.12 494.19,297.12 494.3,297.12 494.41,297.12 494.51,297.12 494.62,297.12 494.73,297.12 494.84,297.12 494.95,297.12 495.06,297.12 495.17,297.12 495.28,297.12 495.38,297.12 495.49,297.12 495.6,297.12 495.71,297.12 495.82,297.12 495.93,297.12 496.04,297.12 496.15,297.12 496.25,297.12 496.36,297.12 496.47,297.12 496.58,297.12 496.69,297.12 496.8,297.12 496.91,297.12 497.01,297.12 497.12,297.12 497.23,297.12 497.34,297.12 497.45,297.12 497.56,297.12 497.67,297.12 497.78,297.12 497.88,297.12 497.99,297.12 498.1,297.12 498.21,297.12 498.32,297.12 498.43,297.12 498.54,297.12 498.65,297.12 498.75,297.12 498.86,297.12 498.97,297.12 499.08,297.12 499.19,297.12 499.3,297.12 499.41,297.12 499.51,297.12 499.62,297.12 499.73,297.12 499.84,297.12 499.95,297.12 500.06,297.12 500.17,297.12 500.28,297.12 500.38,297.12 500.49,297.12 500.6,297.12 500.71,297.12 500.82,297.12 500.93,297.12 501.04,297.12 501.15,297.12 501.25,297.12 501.36,297.12 501.47,297.12 501.58,297.12 501.69,297.12 501.8,297.12 501.91,297.12 502.01,297.12 502.12,297.12 502.23,297.12 502.34,297.12 502.45,297.12 502.56,297.12 502.67,297.12 502.78,297.12 502.88,297.12 502.99,297.12 503.1,297.12 503.21,297.12 503.32,297.12 503.43,297.12 503.54,297.12 503.65,297.12 503.75,297.12 503.86,297.12 503.97,297.12 504.08,297.12 504.19,297.12 504.3,297.12 504.41,297.12 504.51,297.12 504.62,297.12 504.73,297.12 504.84,297.12 504.95,297.12 505.06,297.12 505.17,297.12 505.28,297.12 505.38,297.12 505.49,297.12 505.6,297.12 505.71,297.12 505.82,297.12 505.93,297.12 506.04,297.12 506.15,297.12 506.25,297.12 506.36,297.12 506.47,297.12" fill="none" stroke="#9e1a4c" stroke-width="1.3" stroke-linejoin="round"/>
<line x1="458.1" y1="185" x2="458.1" y2="304" stroke="#6e4a78" stroke-width="1.1" stroke-dasharray="1.6,2.8"/>
<line x1="410.15" y1="185.2" x2="410.15" y2="304.5" stroke="#231f20" stroke-width="1.3"/>
<line x1="409.65" y1="303.9" x2="505.6" y2="303.9" stroke="#231f20" stroke-width="1.3"/>
<line x1="407" y1="190.05" x2="410.15" y2="190.05" stroke="#231f20" stroke-width="1.1"/>
<text x="403.6" y="192.95" font-size="8" text-anchor="end" fill="#231f20">1.5</text>
<line x1="407" y1="226.1" x2="410.15" y2="226.1" stroke="#231f20" stroke-width="1.1"/>
<text x="403.6" y="229" font-size="8" text-anchor="end" fill="#231f20">1.0</text>
<line x1="407" y1="262.15" x2="410.15" y2="262.15" stroke="#231f20" stroke-width="1.1"/>
<text x="403.6" y="265.05" font-size="8" text-anchor="end" fill="#231f20">0.5</text>
<line x1="407" y1="298.2" x2="410.15" y2="298.2" stroke="#231f20" stroke-width="1.1"/>
<text x="403.6" y="301.1" font-size="8" text-anchor="end" fill="#231f20">0.0</text>
<line x1="414.62" y1="303.9" x2="414.62" y2="307" stroke="#231f20" stroke-width="1.1"/>
<line x1="436.36" y1="303.9" x2="436.36" y2="307" stroke="#231f20" stroke-width="1.1"/>
<line x1="458.1" y1="303.9" x2="458.1" y2="307" stroke="#231f20" stroke-width="1.1"/>
<line x1="479.84" y1="303.9" x2="479.84" y2="307" stroke="#231f20" stroke-width="1.1"/>
<line x1="501.58" y1="303.9" x2="501.58" y2="307" stroke="#231f20" stroke-width="1.1"/>
<text x="414.62" y="317" font-size="8" text-anchor="middle" fill="#231f20">−4kb</text>
<text x="458.1" y="317" font-size="8" text-anchor="middle" fill="#231f20">0</text>
<text x="501.58" y="317" font-size="8" text-anchor="middle" fill="#231f20">4kb</text>
<text x="458.1" y="330.1" font-size="8.8" text-anchor="middle" textLength="38.5" lengthAdjust="spacingAndGlyphs" fill="#231f20" stroke="#231f20" stroke-width="0.25">RUNX1 motif</text>
<text transform="translate(386.6,244.3) rotate(-90)" font-size="8.5" text-anchor="middle" textLength="75.7" lengthAdjust="spacingAndGlyphs" fill="#231f20" stroke="#231f20" stroke-width="0.2">Density of distance (1e-3)</text>
<text x="419.6" y="208.6" font-size="7.5" fill="#58b6e6">dn-enh.</text>
<text x="470.8" y="253" font-size="7.5" fill="#b81c4a">up-enh.</text>
<text x="419.9" y="272.1" font-size="7.5" fill="#4cae4f">dn-pro.</text>
<text x="473.4" y="285.9" font-size="7.5" fill="#f3a44a">up-pro.</text>
<rect x="0.5" y="0.5" width="519" height="339" fill="none" stroke="#575757" stroke-width="1"/>
</svg></body></html>
